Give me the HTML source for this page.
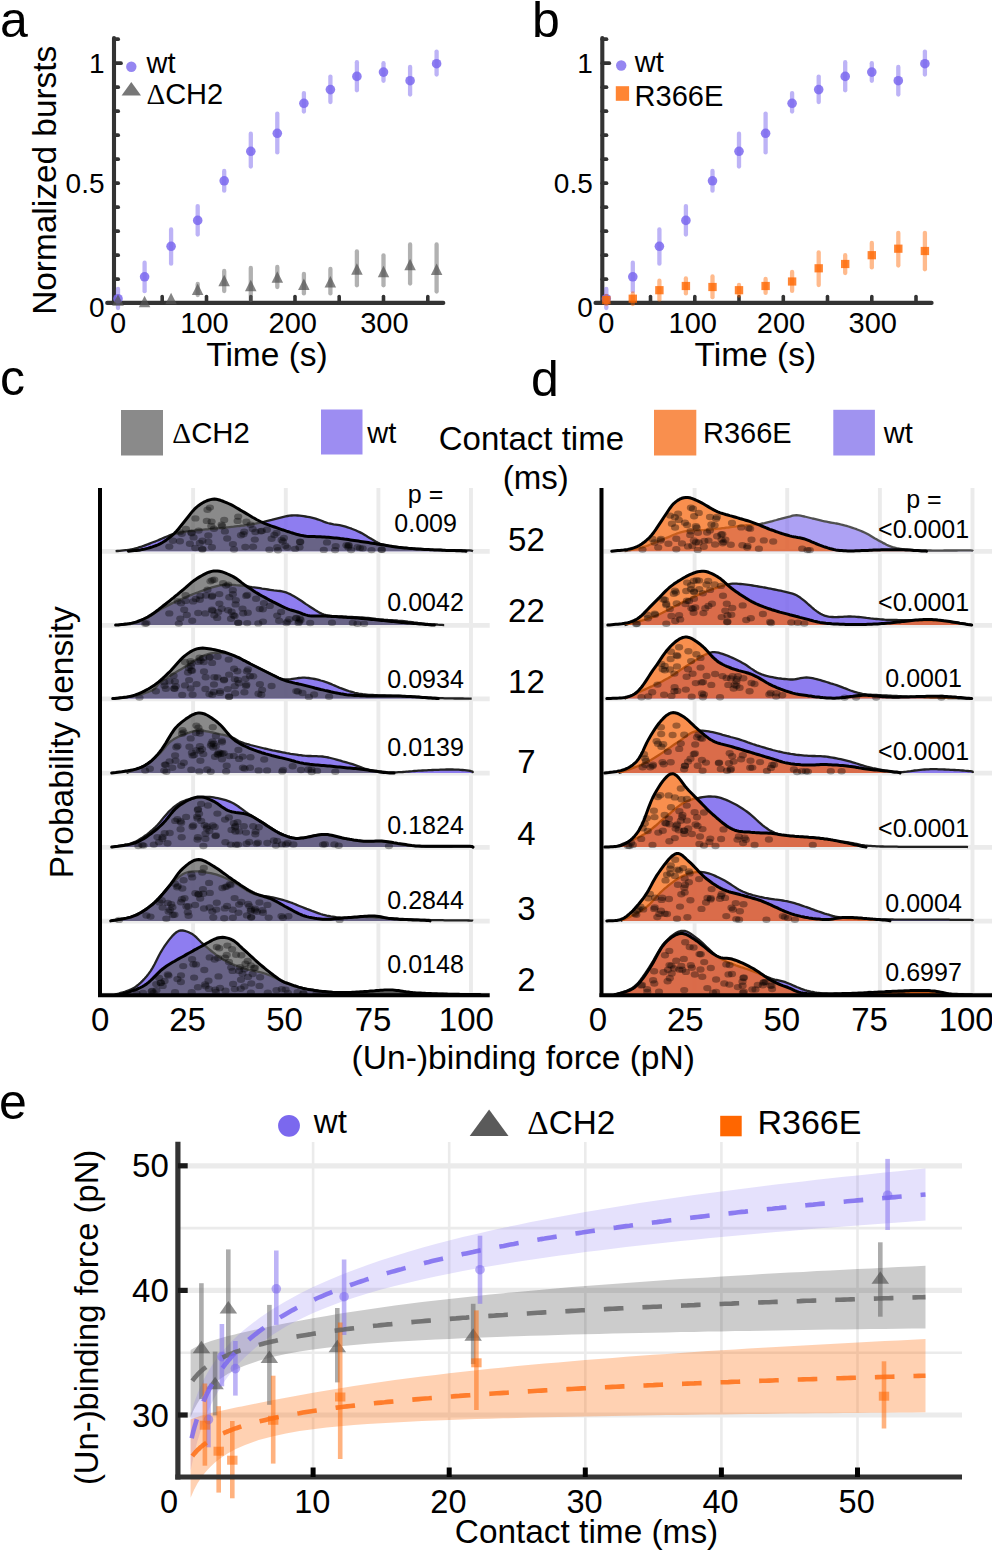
<!DOCTYPE html>
<html><head><meta charset="utf-8"><style>
html,body{margin:0;padding:0;background:#fff;}
svg{display:block;font-family:"Liberation Sans",sans-serif;}
</style></head><body>
<svg width="992" height="1552" viewBox="0 0 992 1552" font-family="Liberation Sans, sans-serif" fill="#000"><line x1="114" y1="38" x2="114" y2="303" stroke="#333333" stroke-width="4.1" stroke-linecap="round" />
<line x1="114" y1="279.2" x2="118.2" y2="279.2" stroke="#333333" stroke-width="3.7" stroke-linecap="round" />
<line x1="114" y1="255.2" x2="118.2" y2="255.2" stroke="#333333" stroke-width="3.7" stroke-linecap="round" />
<line x1="114" y1="231.2" x2="118.2" y2="231.2" stroke="#333333" stroke-width="3.7" stroke-linecap="round" />
<line x1="114" y1="207.2" x2="118.2" y2="207.2" stroke="#333333" stroke-width="3.7" stroke-linecap="round" />
<line x1="114" y1="183.2" x2="118.2" y2="183.2" stroke="#333333" stroke-width="3.7" stroke-linecap="round" />
<line x1="114" y1="159.2" x2="118.2" y2="159.2" stroke="#333333" stroke-width="3.7" stroke-linecap="round" />
<line x1="114" y1="135.2" x2="118.2" y2="135.2" stroke="#333333" stroke-width="3.7" stroke-linecap="round" />
<line x1="114" y1="111.2" x2="118.2" y2="111.2" stroke="#333333" stroke-width="3.7" stroke-linecap="round" />
<line x1="114" y1="87.2" x2="118.2" y2="87.2" stroke="#333333" stroke-width="3.7" stroke-linecap="round" />
<line x1="114" y1="63.2" x2="121" y2="63.2" stroke="#333333" stroke-width="3.7" stroke-linecap="round" />
<line x1="114" y1="39.2" x2="118.2" y2="39.2" stroke="#333333" stroke-width="3.7" stroke-linecap="round" />
<line x1="107.2" y1="302.9" x2="443.3" y2="302.9" stroke="#333333" stroke-width="4.1" stroke-linecap="round" />
<line x1="162.2" y1="302.9" x2="162.2" y2="296.5" stroke="#333333" stroke-width="3.6" stroke-linecap="round" />
<line x1="206.5" y1="302.9" x2="206.5" y2="296.5" stroke="#333333" stroke-width="3.6" stroke-linecap="round" />
<line x1="250.8" y1="302.9" x2="250.8" y2="296.5" stroke="#333333" stroke-width="3.6" stroke-linecap="round" />
<line x1="295" y1="302.9" x2="295" y2="296.5" stroke="#333333" stroke-width="3.6" stroke-linecap="round" />
<line x1="339.2" y1="302.9" x2="339.2" y2="296.5" stroke="#333333" stroke-width="3.6" stroke-linecap="round" />
<line x1="383.5" y1="302.9" x2="383.5" y2="296.5" stroke="#333333" stroke-width="3.6" stroke-linecap="round" />
<line x1="427.8" y1="302.9" x2="427.8" y2="296.5" stroke="#333333" stroke-width="3.6" stroke-linecap="round" />
<text x="104.5" y="192.5" font-size="28" text-anchor="end" >0.5</text>
<text x="104.5" y="72.5" font-size="28" text-anchor="end" >1</text>
<text x="104.5" y="317" font-size="28" text-anchor="end" >0</text>
<text x="118" y="332.6" font-size="29" text-anchor="middle" >0</text>
<text x="204.5" y="332.6" font-size="29" text-anchor="middle" >100</text>
<text x="292.7" y="332.6" font-size="29" text-anchor="middle" >200</text>
<text x="384.4" y="332.6" font-size="29" text-anchor="middle" >300</text>
<text x="267" y="366" font-size="33.5" text-anchor="middle" >Time (s)</text>
<line x1="118" y1="289" x2="118" y2="308" stroke="rgba(123,104,238,0.5)" stroke-width="4.3" stroke-linecap="round" />
<line x1="144.6" y1="262.7" x2="144.6" y2="291.2" stroke="rgba(123,104,238,0.5)" stroke-width="4.3" stroke-linecap="round" />
<line x1="171.1" y1="229.4" x2="171.1" y2="263.7" stroke="rgba(123,104,238,0.5)" stroke-width="4.3" stroke-linecap="round" />
<line x1="197.7" y1="206.1" x2="197.7" y2="234.5" stroke="rgba(123,104,238,0.5)" stroke-width="4.3" stroke-linecap="round" />
<line x1="224.2" y1="171" x2="224.2" y2="190.7" stroke="rgba(123,104,238,0.5)" stroke-width="4.3" stroke-linecap="round" />
<line x1="250.8" y1="133.7" x2="250.8" y2="166.5" stroke="rgba(123,104,238,0.5)" stroke-width="4.3" stroke-linecap="round" />
<line x1="277.3" y1="113.6" x2="277.3" y2="152.4" stroke="rgba(123,104,238,0.5)" stroke-width="4.3" stroke-linecap="round" />
<line x1="303.9" y1="93.1" x2="303.9" y2="111.5" stroke="rgba(123,104,238,0.5)" stroke-width="4.3" stroke-linecap="round" />
<line x1="330.4" y1="76.6" x2="330.4" y2="102" stroke="rgba(123,104,238,0.5)" stroke-width="4.3" stroke-linecap="round" />
<line x1="356.9" y1="62.2" x2="356.9" y2="90.3" stroke="rgba(123,104,238,0.5)" stroke-width="4.3" stroke-linecap="round" />
<line x1="383.5" y1="63.2" x2="383.5" y2="80.8" stroke="rgba(123,104,238,0.5)" stroke-width="4.3" stroke-linecap="round" />
<line x1="410.1" y1="67" x2="410.1" y2="94.6" stroke="rgba(123,104,238,0.5)" stroke-width="4.3" stroke-linecap="round" />
<line x1="436.6" y1="51.6" x2="436.6" y2="74.5" stroke="rgba(123,104,238,0.5)" stroke-width="4.3" stroke-linecap="round" />
<circle cx="118" cy="298.7" r="4.8" fill="rgba(123,104,238,0.85)"/>
<circle cx="144.6" cy="276.8" r="4.8" fill="rgba(123,104,238,0.85)"/>
<circle cx="171.1" cy="246.3" r="4.8" fill="rgba(123,104,238,0.85)"/>
<circle cx="197.7" cy="220.4" r="4.8" fill="rgba(123,104,238,0.85)"/>
<circle cx="224.2" cy="180.8" r="4.8" fill="rgba(123,104,238,0.85)"/>
<circle cx="250.8" cy="151.3" r="4.8" fill="rgba(123,104,238,0.85)"/>
<circle cx="277.3" cy="133.3" r="4.8" fill="rgba(123,104,238,0.85)"/>
<circle cx="303.9" cy="103.3" r="4.8" fill="rgba(123,104,238,0.85)"/>
<circle cx="330.4" cy="89.6" r="4.8" fill="rgba(123,104,238,0.85)"/>
<circle cx="356.9" cy="76.4" r="4.8" fill="rgba(123,104,238,0.85)"/>
<circle cx="383.5" cy="72.1" r="4.8" fill="rgba(123,104,238,0.85)"/>
<circle cx="410.1" cy="80.7" r="4.8" fill="rgba(123,104,238,0.85)"/>
<circle cx="436.6" cy="63.7" r="4.8" fill="rgba(123,104,238,0.85)"/>
<line x1="197.7" y1="284" x2="197.7" y2="295" stroke="rgba(100,100,100,0.5)" stroke-width="4.3" stroke-linecap="round" />
<line x1="224.2" y1="271" x2="224.2" y2="291" stroke="rgba(100,100,100,0.5)" stroke-width="4.3" stroke-linecap="round" />
<line x1="250.8" y1="268" x2="250.8" y2="300" stroke="rgba(100,100,100,0.5)" stroke-width="4.3" stroke-linecap="round" />
<line x1="277.3" y1="267" x2="277.3" y2="287" stroke="rgba(100,100,100,0.5)" stroke-width="4.3" stroke-linecap="round" />
<line x1="303.9" y1="274" x2="303.9" y2="293.4" stroke="rgba(100,100,100,0.5)" stroke-width="4.3" stroke-linecap="round" />
<line x1="330.4" y1="269" x2="330.4" y2="293.4" stroke="rgba(100,100,100,0.5)" stroke-width="4.3" stroke-linecap="round" />
<line x1="356.9" y1="251.4" x2="356.9" y2="285.3" stroke="rgba(100,100,100,0.5)" stroke-width="4.3" stroke-linecap="round" />
<line x1="383.5" y1="255.3" x2="383.5" y2="285.3" stroke="rgba(100,100,100,0.5)" stroke-width="4.3" stroke-linecap="round" />
<line x1="410.1" y1="244.5" x2="410.1" y2="283.5" stroke="rgba(100,100,100,0.5)" stroke-width="4.3" stroke-linecap="round" />
<line x1="436.6" y1="244.5" x2="436.6" y2="291.6" stroke="rgba(100,100,100,0.5)" stroke-width="4.3" stroke-linecap="round" />
<path d="M118,294.2 L123.8,305.7 L112.2,305.7 Z" fill="rgba(85,85,85,0.72)"/>
<path d="M144.6,295.7 L150.3,307.2 L138.8,307.2 Z" fill="rgba(85,85,85,0.72)"/>
<path d="M171.1,292.7 L176.8,304.2 L165.3,304.2 Z" fill="rgba(85,85,85,0.72)"/>
<path d="M197.7,283.5 L203.4,295 L191.9,295 Z" fill="rgba(85,85,85,0.72)"/>
<path d="M224.2,274.7 L229.9,286.2 L218.4,286.2 Z" fill="rgba(85,85,85,0.72)"/>
<path d="M250.8,279.7 L256.5,291.2 L245,291.2 Z" fill="rgba(85,85,85,0.72)"/>
<path d="M277.3,271.2 L283.1,282.7 L271.6,282.7 Z" fill="rgba(85,85,85,0.72)"/>
<path d="M303.9,278.4 L309.6,289.9 L298.1,289.9 Z" fill="rgba(85,85,85,0.72)"/>
<path d="M330.4,275.9 L336.1,287.4 L324.6,287.4 Z" fill="rgba(85,85,85,0.72)"/>
<path d="M356.9,263.2 L362.7,274.7 L351.2,274.7 Z" fill="rgba(85,85,85,0.72)"/>
<path d="M383.5,265.7 L389.2,277.2 L377.8,277.2 Z" fill="rgba(85,85,85,0.72)"/>
<path d="M410.1,258.7 L415.8,270.2 L404.3,270.2 Z" fill="rgba(85,85,85,0.72)"/>
<path d="M436.6,263.6 L442.4,275.1 L430.9,275.1 Z" fill="rgba(85,85,85,0.72)"/>
<circle cx="131.3" cy="66.7" r="5.2" fill="rgba(123,104,238,0.8)"/>
<text x="146.5" y="72.5" font-size="29" text-anchor="start" >wt</text>
<path d="M131.3,82 L141,95.5 L121.6,95.5 Z" fill="rgba(85,85,85,0.8)"/>
<text x="146.5" y="104.3" font-size="29" text-anchor="start" ><tspan font-family="Liberation Serif">&#916;</tspan>CH2</text>
<text x="0" y="36.5" font-size="50" text-anchor="start" >a</text>
<line x1="602.3" y1="38" x2="602.3" y2="303" stroke="#333333" stroke-width="4.1" stroke-linecap="round" />
<line x1="602.3" y1="279.2" x2="606.5" y2="279.2" stroke="#333333" stroke-width="3.7" stroke-linecap="round" />
<line x1="602.3" y1="255.2" x2="606.5" y2="255.2" stroke="#333333" stroke-width="3.7" stroke-linecap="round" />
<line x1="602.3" y1="231.2" x2="606.5" y2="231.2" stroke="#333333" stroke-width="3.7" stroke-linecap="round" />
<line x1="602.3" y1="207.2" x2="606.5" y2="207.2" stroke="#333333" stroke-width="3.7" stroke-linecap="round" />
<line x1="602.3" y1="183.2" x2="606.5" y2="183.2" stroke="#333333" stroke-width="3.7" stroke-linecap="round" />
<line x1="602.3" y1="159.2" x2="606.5" y2="159.2" stroke="#333333" stroke-width="3.7" stroke-linecap="round" />
<line x1="602.3" y1="135.2" x2="606.5" y2="135.2" stroke="#333333" stroke-width="3.7" stroke-linecap="round" />
<line x1="602.3" y1="111.2" x2="606.5" y2="111.2" stroke="#333333" stroke-width="3.7" stroke-linecap="round" />
<line x1="602.3" y1="87.2" x2="606.5" y2="87.2" stroke="#333333" stroke-width="3.7" stroke-linecap="round" />
<line x1="602.3" y1="63.2" x2="609.3" y2="63.2" stroke="#333333" stroke-width="3.7" stroke-linecap="round" />
<line x1="602.3" y1="39.2" x2="606.5" y2="39.2" stroke="#333333" stroke-width="3.7" stroke-linecap="round" />
<line x1="595.5" y1="302.9" x2="931.6" y2="302.9" stroke="#333333" stroke-width="4.1" stroke-linecap="round" />
<line x1="650.5" y1="302.9" x2="650.5" y2="296.5" stroke="#333333" stroke-width="3.6" stroke-linecap="round" />
<line x1="694.8" y1="302.9" x2="694.8" y2="296.5" stroke="#333333" stroke-width="3.6" stroke-linecap="round" />
<line x1="739" y1="302.9" x2="739" y2="296.5" stroke="#333333" stroke-width="3.6" stroke-linecap="round" />
<line x1="783.3" y1="302.9" x2="783.3" y2="296.5" stroke="#333333" stroke-width="3.6" stroke-linecap="round" />
<line x1="827.5" y1="302.9" x2="827.5" y2="296.5" stroke="#333333" stroke-width="3.6" stroke-linecap="round" />
<line x1="871.8" y1="302.9" x2="871.8" y2="296.5" stroke="#333333" stroke-width="3.6" stroke-linecap="round" />
<line x1="916" y1="302.9" x2="916" y2="296.5" stroke="#333333" stroke-width="3.6" stroke-linecap="round" />
<text x="592.8" y="192.5" font-size="28" text-anchor="end" >0.5</text>
<text x="592.8" y="72.5" font-size="28" text-anchor="end" >1</text>
<text x="592.8" y="317" font-size="28" text-anchor="end" >0</text>
<text x="606.3" y="332.6" font-size="29" text-anchor="middle" >0</text>
<text x="692.8" y="332.6" font-size="29" text-anchor="middle" >100</text>
<text x="781" y="332.6" font-size="29" text-anchor="middle" >200</text>
<text x="872.7" y="332.6" font-size="29" text-anchor="middle" >300</text>
<text x="755.3" y="366" font-size="33.5" text-anchor="middle" >Time (s)</text>
<line x1="606.3" y1="289" x2="606.3" y2="308" stroke="rgba(123,104,238,0.5)" stroke-width="4.3" stroke-linecap="round" />
<line x1="632.8" y1="262.7" x2="632.8" y2="291.2" stroke="rgba(123,104,238,0.5)" stroke-width="4.3" stroke-linecap="round" />
<line x1="659.4" y1="229.4" x2="659.4" y2="263.7" stroke="rgba(123,104,238,0.5)" stroke-width="4.3" stroke-linecap="round" />
<line x1="685.9" y1="206.1" x2="685.9" y2="234.5" stroke="rgba(123,104,238,0.5)" stroke-width="4.3" stroke-linecap="round" />
<line x1="712.5" y1="171" x2="712.5" y2="190.7" stroke="rgba(123,104,238,0.5)" stroke-width="4.3" stroke-linecap="round" />
<line x1="739" y1="133.7" x2="739" y2="166.5" stroke="rgba(123,104,238,0.5)" stroke-width="4.3" stroke-linecap="round" />
<line x1="765.6" y1="113.6" x2="765.6" y2="152.4" stroke="rgba(123,104,238,0.5)" stroke-width="4.3" stroke-linecap="round" />
<line x1="792.1" y1="93.1" x2="792.1" y2="111.5" stroke="rgba(123,104,238,0.5)" stroke-width="4.3" stroke-linecap="round" />
<line x1="818.7" y1="76.6" x2="818.7" y2="102" stroke="rgba(123,104,238,0.5)" stroke-width="4.3" stroke-linecap="round" />
<line x1="845.2" y1="62.2" x2="845.2" y2="90.3" stroke="rgba(123,104,238,0.5)" stroke-width="4.3" stroke-linecap="round" />
<line x1="871.8" y1="63.2" x2="871.8" y2="80.8" stroke="rgba(123,104,238,0.5)" stroke-width="4.3" stroke-linecap="round" />
<line x1="898.3" y1="67" x2="898.3" y2="94.6" stroke="rgba(123,104,238,0.5)" stroke-width="4.3" stroke-linecap="round" />
<line x1="924.9" y1="51.6" x2="924.9" y2="74.5" stroke="rgba(123,104,238,0.5)" stroke-width="4.3" stroke-linecap="round" />
<circle cx="606.3" cy="298.7" r="4.8" fill="rgba(123,104,238,0.85)"/>
<circle cx="632.8" cy="276.8" r="4.8" fill="rgba(123,104,238,0.85)"/>
<circle cx="659.4" cy="246.3" r="4.8" fill="rgba(123,104,238,0.85)"/>
<circle cx="685.9" cy="220.4" r="4.8" fill="rgba(123,104,238,0.85)"/>
<circle cx="712.5" cy="180.8" r="4.8" fill="rgba(123,104,238,0.85)"/>
<circle cx="739" cy="151.3" r="4.8" fill="rgba(123,104,238,0.85)"/>
<circle cx="765.6" cy="133.3" r="4.8" fill="rgba(123,104,238,0.85)"/>
<circle cx="792.1" cy="103.3" r="4.8" fill="rgba(123,104,238,0.85)"/>
<circle cx="818.7" cy="89.6" r="4.8" fill="rgba(123,104,238,0.85)"/>
<circle cx="845.2" cy="76.4" r="4.8" fill="rgba(123,104,238,0.85)"/>
<circle cx="871.8" cy="72.1" r="4.8" fill="rgba(123,104,238,0.85)"/>
<circle cx="898.3" cy="80.7" r="4.8" fill="rgba(123,104,238,0.85)"/>
<circle cx="924.9" cy="63.7" r="4.8" fill="rgba(123,104,238,0.85)"/>
<line x1="606.3" y1="296" x2="606.3" y2="304" stroke="rgba(255,102,0,0.45)" stroke-width="4.3" stroke-linecap="round" />
<line x1="632.8" y1="293.5" x2="632.8" y2="304" stroke="rgba(255,102,0,0.45)" stroke-width="4.3" stroke-linecap="round" />
<line x1="659.4" y1="280.7" x2="659.4" y2="299.7" stroke="rgba(255,102,0,0.45)" stroke-width="4.3" stroke-linecap="round" />
<line x1="685.9" y1="278.5" x2="685.9" y2="293.4" stroke="rgba(255,102,0,0.45)" stroke-width="4.3" stroke-linecap="round" />
<line x1="712.5" y1="276.4" x2="712.5" y2="297.2" stroke="rgba(255,102,0,0.45)" stroke-width="4.3" stroke-linecap="round" />
<line x1="739" y1="284.9" x2="739" y2="295.5" stroke="rgba(255,102,0,0.45)" stroke-width="4.3" stroke-linecap="round" />
<line x1="765.6" y1="278.9" x2="765.6" y2="292.9" stroke="rgba(255,102,0,0.45)" stroke-width="4.3" stroke-linecap="round" />
<line x1="792.1" y1="272" x2="792.1" y2="290.9" stroke="rgba(255,102,0,0.45)" stroke-width="4.3" stroke-linecap="round" />
<line x1="818.7" y1="252.4" x2="818.7" y2="285.1" stroke="rgba(255,102,0,0.45)" stroke-width="4.3" stroke-linecap="round" />
<line x1="845.2" y1="255.2" x2="845.2" y2="273" stroke="rgba(255,102,0,0.45)" stroke-width="4.3" stroke-linecap="round" />
<line x1="871.8" y1="243" x2="871.8" y2="267.4" stroke="rgba(255,102,0,0.45)" stroke-width="4.3" stroke-linecap="round" />
<line x1="898.3" y1="232.8" x2="898.3" y2="265.5" stroke="rgba(255,102,0,0.45)" stroke-width="4.3" stroke-linecap="round" />
<line x1="924.9" y1="232.8" x2="924.9" y2="269.3" stroke="rgba(255,102,0,0.45)" stroke-width="4.3" stroke-linecap="round" />
<rect x="602.1" y="296" width="8.4" height="8.2" fill="rgba(255,102,0,0.8)"/>
<rect x="628.6" y="294.6" width="8.4" height="8.2" fill="rgba(255,102,0,0.8)"/>
<rect x="655.2" y="286.1" width="8.4" height="8.2" fill="rgba(255,102,0,0.8)"/>
<rect x="681.7" y="281.9" width="8.4" height="8.2" fill="rgba(255,102,0,0.8)"/>
<rect x="708.3" y="282.9" width="8.4" height="8.2" fill="rgba(255,102,0,0.8)"/>
<rect x="734.8" y="286.1" width="8.4" height="8.2" fill="rgba(255,102,0,0.8)"/>
<rect x="761.4" y="281.9" width="8.4" height="8.2" fill="rgba(255,102,0,0.8)"/>
<rect x="787.9" y="277.4" width="8.4" height="8.2" fill="rgba(255,102,0,0.8)"/>
<rect x="814.5" y="264.2" width="8.4" height="8.2" fill="rgba(255,102,0,0.8)"/>
<rect x="841" y="259.9" width="8.4" height="8.2" fill="rgba(255,102,0,0.8)"/>
<rect x="867.6" y="251.1" width="8.4" height="8.2" fill="rgba(255,102,0,0.8)"/>
<rect x="894.1" y="244.6" width="8.4" height="8.2" fill="rgba(255,102,0,0.8)"/>
<rect x="920.7" y="246.9" width="8.4" height="8.2" fill="rgba(255,102,0,0.8)"/>
<circle cx="621.2" cy="65.5" r="5.2" fill="rgba(123,104,238,0.8)"/>
<text x="634.8" y="71.8" font-size="29" text-anchor="start" >wt</text>
<rect x="615.8" y="86.2" width="13.3" height="14.6" fill="rgba(255,102,0,0.8)"/>
<text x="634.6" y="105.8" font-size="29" text-anchor="start" >R366E</text>
<text x="532" y="36.5" font-size="50" text-anchor="start" >b</text>
<line x1="193.1" y1="488" x2="193.1" y2="995" stroke="#ebebeb" stroke-width="3.9" stroke-linecap="butt" />
<line x1="285.8" y1="488" x2="285.8" y2="995" stroke="#ebebeb" stroke-width="3.9" stroke-linecap="butt" />
<line x1="378.4" y1="488" x2="378.4" y2="995" stroke="#ebebeb" stroke-width="3.9" stroke-linecap="butt" />
<line x1="471" y1="488" x2="471" y2="995" stroke="#ebebeb" stroke-width="3.9" stroke-linecap="butt" />
<line x1="102" y1="551.4" x2="489.7" y2="551.4" stroke="#ebebeb" stroke-width="4.8" stroke-linecap="butt" />
<line x1="102" y1="625.3" x2="489.7" y2="625.3" stroke="#ebebeb" stroke-width="4.8" stroke-linecap="butt" />
<line x1="102" y1="698.8" x2="489.7" y2="698.8" stroke="#ebebeb" stroke-width="4.8" stroke-linecap="butt" />
<line x1="102" y1="773.2" x2="489.7" y2="773.2" stroke="#ebebeb" stroke-width="4.8" stroke-linecap="butt" />
<line x1="102" y1="847.3" x2="489.7" y2="847.3" stroke="#ebebeb" stroke-width="4.8" stroke-linecap="butt" />
<line x1="102" y1="921.1" x2="489.7" y2="921.1" stroke="#ebebeb" stroke-width="4.8" stroke-linecap="butt" />
<line x1="102" y1="994.8" x2="489.7" y2="994.8" stroke="#ebebeb" stroke-width="4.8" stroke-linecap="butt" />
<path d="M115.6,551.2 L117.6,551 L119.6,550.8 L121.6,550.6 L123.6,550.4 L125.6,550.2 L127.6,550 L129.6,549.7 L131.6,549.3 L133.6,548.9 L135.6,548.4 L137.6,547.9 L139.6,547.2 L141.6,546.6 L143.6,545.9 L145.6,545.1 L147.6,544.4 L149.6,543.6 L151.6,542.8 L153.6,542 L155.6,541.3 L157.6,540.5 L159.6,539.6 L161.6,538.7 L163.6,537.9 L165.6,537 L167.6,536.2 L169.6,535.4 L171.6,534.7 L173.6,534.1 L175.6,533.6 L177.6,533.1 L179.6,532.7 L181.6,532.3 L183.6,532 L185.6,531.7 L187.6,531.4 L189.6,531.2 L191.6,530.9 L193.6,530.7 L195.6,530.4 L197.6,530.2 L199.6,530 L201.6,529.8 L203.6,529.6 L205.6,529.4 L207.6,529.3 L209.6,529.1 L211.6,528.9 L213.6,528.7 L215.6,528.5 L217.6,528.3 L219.6,528.1 L221.6,528 L223.6,527.8 L225.6,527.6 L227.6,527.3 L229.6,527.1 L231.6,526.9 L233.6,526.7 L235.6,526.4 L237.6,526.2 L239.6,526 L241.6,525.7 L243.6,525.5 L245.6,525.2 L247.6,524.9 L249.6,524.6 L251.6,524.3 L253.6,524 L255.6,523.6 L257.6,523.2 L259.6,522.8 L261.6,522.3 L263.6,521.9 L265.6,521.4 L267.6,520.9 L269.6,520.4 L271.6,519.9 L273.6,519.3 L275.6,518.8 L277.6,518.3 L279.6,517.8 L281.6,517.3 L283.6,516.8 L285.6,516.4 L287.6,516 L289.6,515.7 L291.6,515.5 L293.6,515.3 L295.6,515.4 L297.6,515.5 L299.6,515.7 L301.6,515.9 L303.6,516.2 L305.6,516.5 L307.6,516.8 L309.6,517.2 L311.6,517.6 L313.6,518.1 L315.6,518.6 L317.6,519.3 L319.6,520 L321.6,520.8 L323.6,521.6 L325.6,522.3 L327.6,523 L329.6,523.5 L331.6,523.9 L333.6,524.3 L335.6,524.6 L337.6,524.9 L339.6,525.2 L341.6,525.6 L343.6,526.1 L345.6,526.7 L347.6,527.3 L349.6,528 L351.6,528.7 L353.6,529.5 L355.6,530.3 L357.6,531.2 L359.6,532.1 L361.6,533.1 L363.6,534.2 L365.6,535.4 L367.6,536.7 L369.6,537.9 L371.6,539.1 L373.6,540.2 L375.6,541.4 L377.6,542.5 L379.6,543.5 L381.6,544.3 L383.6,544.9 L385.6,545.4 L387.6,545.9 L389.6,546.2 L391.6,546.5 L393.6,546.8 L395.6,547 L397.6,547.2 L399.6,547.5 L401.6,547.7 L403.6,547.9 L405.6,548 L407.6,548.2 L409.6,548.4 L411.6,548.6 L413.6,548.7 L415.6,548.9 L417.6,549 L419.6,549.1 L421.6,549.3 L423.6,549.4 L425.6,549.5 L427.6,549.6 L429.6,549.7 L431.6,549.8 L433.6,549.8 L435.6,549.9 L437.6,549.9 L439.6,550 L441.6,550 L443.6,550.1 L445.6,550.1 L447.6,550.1 L449.6,550.1 L451.6,550.2 L453.6,550.2 L455.6,550.2 L457.6,550.2 L459.6,550.2 L461.6,550.2 L463.6,550.3 L465.6,550.3 L467.6,550.3 L469.6,550.4 L471.6,550.6 L473,551.2 L473,551.2 L115.6,551.2 Z" fill="rgba(123,104,238,0.86)"/>
<path d="M115.6,551.2 L117.6,551 L119.6,550.8 L121.6,550.6 L123.6,550.4 L125.6,550.2 L127.6,550 L129.6,549.7 L131.6,549.3 L133.6,548.9 L135.6,548.4 L137.6,547.9 L139.6,547.2 L141.6,546.6 L143.6,545.9 L145.6,545.1 L147.6,544.4 L149.6,543.6 L151.6,542.8 L153.6,542 L155.6,541.3 L157.6,540.5 L159.6,539.6 L161.6,538.7 L163.6,537.9 L165.6,537 L167.6,536.2 L169.6,535.4 L171.6,534.7 L173.6,534.1 L175.6,533.6 L177.6,533.1 L179.6,532.7 L181.6,532.3 L183.6,532 L185.6,531.7 L187.6,531.4 L189.6,531.2 L191.6,530.9 L193.6,530.7 L195.6,530.4 L197.6,530.2 L199.6,530 L201.6,529.8 L203.6,529.6 L205.6,529.4 L207.6,529.3 L209.6,529.1 L211.6,528.9 L213.6,528.7 L215.6,528.5 L217.6,528.3 L219.6,528.1 L221.6,528 L223.6,527.8 L225.6,527.6 L227.6,527.3 L229.6,527.1 L231.6,526.9 L233.6,526.7 L235.6,526.4 L237.6,526.2 L239.6,526 L241.6,525.7 L243.6,525.5 L245.6,525.2 L247.6,524.9 L249.6,524.6 L251.6,524.3 L253.6,524 L255.6,523.6 L257.6,523.2 L259.6,522.8 L261.6,522.3 L263.6,521.9 L265.6,521.4 L267.6,520.9 L269.6,520.4 L271.6,519.9 L273.6,519.3 L275.6,518.8 L277.6,518.3 L279.6,517.8 L281.6,517.3 L283.6,516.8 L285.6,516.4 L287.6,516 L289.6,515.7 L291.6,515.5 L293.6,515.3 L295.6,515.4 L297.6,515.5 L299.6,515.7 L301.6,515.9 L303.6,516.2 L305.6,516.5 L307.6,516.8 L309.6,517.2 L311.6,517.6 L313.6,518.1 L315.6,518.6 L317.6,519.3 L319.6,520 L321.6,520.8 L323.6,521.6 L325.6,522.3 L327.6,523 L329.6,523.5 L331.6,523.9 L333.6,524.3 L335.6,524.6 L337.6,524.9 L339.6,525.2 L341.6,525.6 L343.6,526.1 L345.6,526.7 L347.6,527.3 L349.6,528 L351.6,528.7 L353.6,529.5 L355.6,530.3 L357.6,531.2 L359.6,532.1 L361.6,533.1 L363.6,534.2 L365.6,535.4 L367.6,536.7 L369.6,537.9 L371.6,539.1 L373.6,540.2 L375.6,541.4 L377.6,542.5 L379.6,543.5 L381.6,544.3 L383.6,544.9 L385.6,545.4 L387.6,545.9 L389.6,546.2 L391.6,546.5 L393.6,546.8 L395.6,547 L397.6,547.2 L399.6,547.5 L401.6,547.7 L403.6,547.9 L405.6,548 L407.6,548.2 L409.6,548.4 L411.6,548.6 L413.6,548.7 L415.6,548.9 L417.6,549 L419.6,549.1 L421.6,549.3 L423.6,549.4 L425.6,549.5 L427.6,549.6 L429.6,549.7 L431.6,549.8 L433.6,549.8 L435.6,549.9 L437.6,549.9 L439.6,550 L441.6,550 L443.6,550.1 L445.6,550.1 L447.6,550.1 L449.6,550.1 L451.6,550.2 L453.6,550.2 L455.6,550.2 L457.6,550.2 L459.6,550.2 L461.6,550.2 L463.6,550.3 L465.6,550.3 L467.6,550.3 L469.6,550.4 L471.6,550.6 L473,551.2" fill="none" stroke="#222" stroke-width="2.3" stroke-linejoin="round"/>
<path d="M128.4,551.2 L130.4,551 L132.4,550.8 L134.4,550.6 L136.4,550.4 L138.4,550.2 L140.4,549.9 L142.4,549.5 L144.4,549.1 L146.4,548.6 L148.4,548.1 L150.4,547.5 L152.4,546.9 L154.4,546.2 L156.4,545.5 L158.4,544.6 L160.4,543.6 L162.4,542.5 L164.4,541.3 L166.4,539.9 L168.4,538.4 L170.4,536.9 L172.4,535.1 L174.4,533.3 L176.4,531.2 L178.4,528.9 L180.4,526.5 L182.4,524 L184.4,521.5 L186.4,519 L188.4,516.5 L190.4,513.9 L192.4,511.4 L194.4,509.2 L196.4,507.3 L198.4,505.7 L200.4,504.3 L202.4,503 L204.4,501.9 L206.4,501 L208.4,500.2 L210.4,499.6 L212.4,499.2 L214.4,499.1 L216.4,499.3 L218.4,499.7 L220.4,500.3 L222.4,501 L224.4,501.8 L226.4,502.6 L228.4,503.5 L230.4,504.4 L232.4,505.4 L234.4,506.5 L236.4,507.7 L238.4,508.9 L240.4,510.1 L242.4,511.2 L244.4,512.4 L246.4,513.6 L248.4,514.8 L250.4,516 L252.4,517.2 L254.4,518.3 L256.4,519.5 L258.4,520.5 L260.4,521.5 L262.4,522.4 L264.4,523.3 L266.4,524.1 L268.4,524.8 L270.4,525.6 L272.4,526.3 L274.4,527 L276.4,527.7 L278.4,528.4 L280.4,529.1 L282.4,529.8 L284.4,530.4 L286.4,531.1 L288.4,531.7 L290.4,532.4 L292.4,533 L294.4,533.6 L296.4,534.2 L298.4,534.7 L300.4,535.2 L302.4,535.6 L304.4,535.9 L306.4,536.2 L308.4,536.4 L310.4,536.5 L312.4,536.6 L314.4,536.6 L316.4,536.7 L318.4,536.7 L320.4,536.8 L322.4,536.9 L324.4,537 L326.4,537.2 L328.4,537.3 L330.4,537.5 L332.4,537.7 L334.4,537.9 L336.4,538.1 L338.4,538.3 L340.4,538.6 L342.4,538.8 L344.4,539.1 L346.4,539.3 L348.4,539.6 L350.4,539.9 L352.4,540.2 L354.4,540.5 L356.4,540.8 L358.4,541.1 L360.4,541.4 L362.4,541.7 L364.4,542 L366.4,542.3 L368.4,542.6 L370.4,542.9 L372.4,543.2 L374.4,543.5 L376.4,543.9 L378.4,544.2 L380.4,544.5 L382.4,544.8 L384.4,545.1 L386.4,545.4 L388.4,545.7 L390.4,546.1 L392.4,546.4 L394.4,546.7 L396.4,547 L398.4,547.3 L400.4,547.5 L402.4,547.7 L404.4,547.9 L406.4,548.1 L408.4,548.3 L410.4,548.4 L412.4,548.6 L414.4,548.7 L416.4,548.9 L418.4,549 L420.4,549.1 L422.4,549.2 L424.4,549.4 L426.4,549.5 L428.4,549.6 L430.4,549.7 L432.4,549.8 L434.4,549.9 L436.4,550 L438.4,550.1 L440.4,550.1 L442.4,550.2 L444.4,550.3 L446.4,550.4 L448.4,550.4 L450.4,550.5 L452.4,550.5 L454.4,550.6 L456.4,550.7 L458.4,550.7 L460.4,550.8 L462.4,550.9 L464.4,551 L466,551.2 L466,551.2 L128.4,551.2 Z" fill="rgba(89,89,89,0.7)"/>
<path d="M128.4,551.2 L130.4,551 L132.4,550.8 L134.4,550.6 L136.4,550.4 L138.4,550.2 L140.4,549.9 L142.4,549.5 L144.4,549.1 L146.4,548.6 L148.4,548.1 L150.4,547.5 L152.4,546.9 L154.4,546.2 L156.4,545.5 L158.4,544.6 L160.4,543.6 L162.4,542.5 L164.4,541.3 L166.4,539.9 L168.4,538.4 L170.4,536.9 L172.4,535.1 L174.4,533.3 L176.4,531.2 L178.4,528.9 L180.4,526.5 L182.4,524 L184.4,521.5 L186.4,519 L188.4,516.5 L190.4,513.9 L192.4,511.4 L194.4,509.2 L196.4,507.3 L198.4,505.7 L200.4,504.3 L202.4,503 L204.4,501.9 L206.4,501 L208.4,500.2 L210.4,499.6 L212.4,499.2 L214.4,499.1 L216.4,499.3 L218.4,499.7 L220.4,500.3 L222.4,501 L224.4,501.8 L226.4,502.6 L228.4,503.5 L230.4,504.4 L232.4,505.4 L234.4,506.5 L236.4,507.7 L238.4,508.9 L240.4,510.1 L242.4,511.2 L244.4,512.4 L246.4,513.6 L248.4,514.8 L250.4,516 L252.4,517.2 L254.4,518.3 L256.4,519.5 L258.4,520.5 L260.4,521.5 L262.4,522.4 L264.4,523.3 L266.4,524.1 L268.4,524.8 L270.4,525.6 L272.4,526.3 L274.4,527 L276.4,527.7 L278.4,528.4 L280.4,529.1 L282.4,529.8 L284.4,530.4 L286.4,531.1 L288.4,531.7 L290.4,532.4 L292.4,533 L294.4,533.6 L296.4,534.2 L298.4,534.7 L300.4,535.2 L302.4,535.6 L304.4,535.9 L306.4,536.2 L308.4,536.4 L310.4,536.5 L312.4,536.6 L314.4,536.6 L316.4,536.7 L318.4,536.7 L320.4,536.8 L322.4,536.9 L324.4,537 L326.4,537.2 L328.4,537.3 L330.4,537.5 L332.4,537.7 L334.4,537.9 L336.4,538.1 L338.4,538.3 L340.4,538.6 L342.4,538.8 L344.4,539.1 L346.4,539.3 L348.4,539.6 L350.4,539.9 L352.4,540.2 L354.4,540.5 L356.4,540.8 L358.4,541.1 L360.4,541.4 L362.4,541.7 L364.4,542 L366.4,542.3 L368.4,542.6 L370.4,542.9 L372.4,543.2 L374.4,543.5 L376.4,543.9 L378.4,544.2 L380.4,544.5 L382.4,544.8 L384.4,545.1 L386.4,545.4 L388.4,545.7 L390.4,546.1 L392.4,546.4 L394.4,546.7 L396.4,547 L398.4,547.3 L400.4,547.5 L402.4,547.7 L404.4,547.9 L406.4,548.1 L408.4,548.3 L410.4,548.4 L412.4,548.6 L414.4,548.7 L416.4,548.9 L418.4,549 L420.4,549.1 L422.4,549.2 L424.4,549.4 L426.4,549.5 L428.4,549.6 L430.4,549.7 L432.4,549.8 L434.4,549.9 L436.4,550 L438.4,550.1 L440.4,550.1 L442.4,550.2 L444.4,550.3 L446.4,550.4 L448.4,550.4 L450.4,550.5 L452.4,550.5 L454.4,550.6 L456.4,550.7 L458.4,550.7 L460.4,550.8 L462.4,550.9 L464.4,551 L466,551.2" fill="none" stroke="#000" stroke-width="3" stroke-linejoin="round" stroke-linecap="round"/>
<g fill="rgba(0,0,0,0.36)"><ellipse cx="193.6" cy="537.4" rx="4.1" ry="3.2"/><ellipse cx="381.9" cy="549.8" rx="4.1" ry="3.2"/><ellipse cx="351.1" cy="550.1" rx="4.1" ry="3.2"/><ellipse cx="327" cy="542.4" rx="4.1" ry="3.2"/><ellipse cx="300" cy="541.7" rx="4.1" ry="3.2"/><ellipse cx="211.3" cy="525.9" rx="4.1" ry="3.2"/><ellipse cx="278" cy="550.2" rx="4.1" ry="3.2"/><ellipse cx="207.5" cy="509.7" rx="4.1" ry="3.2"/><ellipse cx="172.9" cy="540.7" rx="4.1" ry="3.2"/><ellipse cx="191.4" cy="532.6" rx="4.1" ry="3.2"/><ellipse cx="195.4" cy="518.4" rx="4.1" ry="3.2"/><ellipse cx="335.7" cy="546.1" rx="4.1" ry="3.2"/><ellipse cx="202.3" cy="549" rx="4.1" ry="3.2"/><ellipse cx="335.1" cy="550.1" rx="4.1" ry="3.2"/><ellipse cx="202.4" cy="540.8" rx="4.1" ry="3.2"/><ellipse cx="238.2" cy="516.6" rx="4.1" ry="3.2"/><ellipse cx="211.6" cy="521.6" rx="4.1" ry="3.2"/><ellipse cx="195.2" cy="548" rx="4.1" ry="3.2"/><ellipse cx="266.9" cy="529.8" rx="4.1" ry="3.2"/><ellipse cx="227.2" cy="538.5" rx="4.1" ry="3.2"/><ellipse cx="274.4" cy="535" rx="4.1" ry="3.2"/><ellipse cx="250.6" cy="524.7" rx="4.1" ry="3.2"/><ellipse cx="179.9" cy="532.1" rx="4.1" ry="3.2"/><ellipse cx="245.3" cy="547" rx="4.1" ry="3.2"/><ellipse cx="254.8" cy="539.6" rx="4.1" ry="3.2"/><ellipse cx="285.3" cy="545.8" rx="4.1" ry="3.2"/><ellipse cx="346.4" cy="545.3" rx="4.1" ry="3.2"/><ellipse cx="237.6" cy="520.9" rx="4.1" ry="3.2"/><ellipse cx="255.4" cy="532" rx="4.1" ry="3.2"/><ellipse cx="222.1" cy="526.3" rx="4.1" ry="3.2"/><ellipse cx="221.6" cy="524.6" rx="4.1" ry="3.2"/><ellipse cx="234" cy="549.5" rx="4.1" ry="3.2"/><ellipse cx="276.5" cy="533" rx="4.1" ry="3.2"/><ellipse cx="381.5" cy="549.7" rx="4.1" ry="3.2"/><ellipse cx="277.2" cy="547.2" rx="4.1" ry="3.2"/><ellipse cx="209.9" cy="507.6" rx="4.1" ry="3.2"/><ellipse cx="348.3" cy="547.3" rx="4.1" ry="3.2"/><ellipse cx="191.7" cy="533.2" rx="4.1" ry="3.2"/><ellipse cx="357.5" cy="547.1" rx="4.1" ry="3.2"/><ellipse cx="243.4" cy="534.2" rx="4.1" ry="3.2"/><ellipse cx="360" cy="548.1" rx="4.1" ry="3.2"/><ellipse cx="253.1" cy="546.8" rx="4.1" ry="3.2"/><ellipse cx="199.8" cy="542.9" rx="4.1" ry="3.2"/><ellipse cx="202.4" cy="549.4" rx="4.1" ry="3.2"/><ellipse cx="244.3" cy="531.8" rx="4.1" ry="3.2"/><ellipse cx="287.3" cy="547.6" rx="4.1" ry="3.2"/><ellipse cx="189.9" cy="543.8" rx="4.1" ry="3.2"/><ellipse cx="179.9" cy="541.3" rx="4.1" ry="3.2"/><ellipse cx="299.5" cy="547.3" rx="4.1" ry="3.2"/><ellipse cx="232.9" cy="544.1" rx="4.1" ry="3.2"/><ellipse cx="198.6" cy="530.6" rx="4.1" ry="3.2"/><ellipse cx="323.8" cy="549.9" rx="4.1" ry="3.2"/><ellipse cx="282.9" cy="541.5" rx="4.1" ry="3.2"/><ellipse cx="283.9" cy="538" rx="4.1" ry="3.2"/><ellipse cx="206.8" cy="520.9" rx="4.1" ry="3.2"/><ellipse cx="246.4" cy="521.8" rx="4.1" ry="3.2"/><ellipse cx="362.7" cy="548.5" rx="4.1" ry="3.2"/><ellipse cx="214" cy="528.7" rx="4.1" ry="3.2"/><ellipse cx="271.6" cy="538.8" rx="4.1" ry="3.2"/><ellipse cx="300.3" cy="542" rx="4.1" ry="3.2"/><ellipse cx="208.4" cy="541.9" rx="4.1" ry="3.2"/><ellipse cx="348.5" cy="545.8" rx="4.1" ry="3.2"/><ellipse cx="348.7" cy="545.1" rx="4.1" ry="3.2"/><ellipse cx="169.3" cy="546.6" rx="4.1" ry="3.2"/><ellipse cx="181.8" cy="533.8" rx="4.1" ry="3.2"/><ellipse cx="261.9" cy="531" rx="4.1" ry="3.2"/><ellipse cx="295.1" cy="548.9" rx="4.1" ry="3.2"/><ellipse cx="281.6" cy="539.9" rx="4.1" ry="3.2"/><ellipse cx="208.3" cy="535.5" rx="4.1" ry="3.2"/><ellipse cx="241" cy="535.3" rx="4.1" ry="3.2"/><ellipse cx="260.7" cy="531.2" rx="4.1" ry="3.2"/><ellipse cx="252.7" cy="529.1" rx="4.1" ry="3.2"/><ellipse cx="371.5" cy="550.1" rx="4.1" ry="3.2"/><ellipse cx="185.9" cy="529" rx="4.1" ry="3.2"/><ellipse cx="224.9" cy="531.4" rx="4.1" ry="3.2"/><ellipse cx="224.2" cy="520" rx="4.1" ry="3.2"/><ellipse cx="269.4" cy="549.7" rx="4.1" ry="3.2"/><ellipse cx="211.9" cy="547.3" rx="4.1" ry="3.2"/></g>
<path d="M118,625.1 L120,624.9 L122,624.8 L124,624.6 L126,624.4 L128,624.2 L130,624 L132,623.6 L134,623.2 L136,622.7 L138,622 L140,621.3 L142,620.4 L144,619.5 L146,618.5 L148,617.5 L150,616.3 L152,615 L154,613.6 L156,612.2 L158,610.9 L160,609.7 L162,608.6 L164,607.5 L166,606.4 L168,605.4 L170,604.4 L172,603.4 L174,602.5 L176,601.5 L178,600.6 L180,599.7 L182,598.8 L184,597.9 L186,597.1 L188,596.2 L190,595.4 L192,594.6 L194,593.8 L196,593 L198,592.3 L200,591.5 L202,590.8 L204,590.1 L206,589.4 L208,588.7 L210,588.1 L212,587.4 L214,586.8 L216,586.3 L218,585.8 L220,585.4 L222,585.1 L224,584.8 L226,584.7 L228,584.7 L230,584.8 L232,584.9 L234,585 L236,585.2 L238,585.3 L240,585.5 L242,585.7 L244,585.9 L246,586.2 L248,586.5 L250,586.8 L252,587.1 L254,587.3 L256,587.6 L258,587.9 L260,588.2 L262,588.6 L264,588.9 L266,589.2 L268,589.5 L270,589.8 L272,590.1 L274,590.4 L276,590.6 L278,590.8 L280,591 L282,591.3 L284,591.8 L286,592.4 L288,593.2 L290,594.1 L292,595.2 L294,596.3 L296,597.4 L298,598.7 L300,600 L302,601.3 L304,602.7 L306,604.1 L308,605.4 L310,606.7 L312,608 L314,609.3 L316,610.6 L318,611.8 L320,612.9 L322,613.8 L324,614.5 L326,615.1 L328,615.5 L330,615.8 L332,616 L334,616.1 L336,616.2 L338,616.3 L340,616.4 L342,616.5 L344,616.6 L346,616.7 L348,616.8 L350,616.9 L352,617 L354,617.1 L356,617.2 L358,617.3 L360,617.4 L362,617.5 L364,617.6 L366,617.8 L368,618 L370,618.2 L372,618.4 L374,618.6 L376,618.9 L378,619.1 L380,619.3 L382,619.5 L384,619.7 L386,619.8 L388,620 L390,620.1 L392,620.2 L394,620.4 L396,620.5 L398,620.7 L400,620.8 L402,621 L404,621.2 L406,621.4 L408,621.7 L410,621.9 L412,622.2 L414,622.5 L416,622.7 L418,623 L420,623.2 L422,623.4 L424,623.6 L426,623.8 L428,624 L430,624.1 L432,624.3 L434,624.4 L436,624.5 L438,624.7 L440,624.8 L442,624.9 L444,625.1 L444.2,625.1 L444.2,625.1 L118,625.1 Z" fill="rgba(123,104,238,0.86)"/>
<path d="M118,625.1 L120,624.9 L122,624.8 L124,624.6 L126,624.4 L128,624.2 L130,624 L132,623.6 L134,623.2 L136,622.7 L138,622 L140,621.3 L142,620.4 L144,619.5 L146,618.5 L148,617.5 L150,616.3 L152,615 L154,613.6 L156,612.2 L158,610.9 L160,609.7 L162,608.6 L164,607.5 L166,606.4 L168,605.4 L170,604.4 L172,603.4 L174,602.5 L176,601.5 L178,600.6 L180,599.7 L182,598.8 L184,597.9 L186,597.1 L188,596.2 L190,595.4 L192,594.6 L194,593.8 L196,593 L198,592.3 L200,591.5 L202,590.8 L204,590.1 L206,589.4 L208,588.7 L210,588.1 L212,587.4 L214,586.8 L216,586.3 L218,585.8 L220,585.4 L222,585.1 L224,584.8 L226,584.7 L228,584.7 L230,584.8 L232,584.9 L234,585 L236,585.2 L238,585.3 L240,585.5 L242,585.7 L244,585.9 L246,586.2 L248,586.5 L250,586.8 L252,587.1 L254,587.3 L256,587.6 L258,587.9 L260,588.2 L262,588.6 L264,588.9 L266,589.2 L268,589.5 L270,589.8 L272,590.1 L274,590.4 L276,590.6 L278,590.8 L280,591 L282,591.3 L284,591.8 L286,592.4 L288,593.2 L290,594.1 L292,595.2 L294,596.3 L296,597.4 L298,598.7 L300,600 L302,601.3 L304,602.7 L306,604.1 L308,605.4 L310,606.7 L312,608 L314,609.3 L316,610.6 L318,611.8 L320,612.9 L322,613.8 L324,614.5 L326,615.1 L328,615.5 L330,615.8 L332,616 L334,616.1 L336,616.2 L338,616.3 L340,616.4 L342,616.5 L344,616.6 L346,616.7 L348,616.8 L350,616.9 L352,617 L354,617.1 L356,617.2 L358,617.3 L360,617.4 L362,617.5 L364,617.6 L366,617.8 L368,618 L370,618.2 L372,618.4 L374,618.6 L376,618.9 L378,619.1 L380,619.3 L382,619.5 L384,619.7 L386,619.8 L388,620 L390,620.1 L392,620.2 L394,620.4 L396,620.5 L398,620.7 L400,620.8 L402,621 L404,621.2 L406,621.4 L408,621.7 L410,621.9 L412,622.2 L414,622.5 L416,622.7 L418,623 L420,623.2 L422,623.4 L424,623.6 L426,623.8 L428,624 L430,624.1 L432,624.3 L434,624.4 L436,624.5 L438,624.7 L440,624.8 L442,624.9 L444,625.1 L444.2,625.1" fill="none" stroke="#222" stroke-width="2.3" stroke-linejoin="round"/>
<path d="M115.6,625.1 L117.6,624.9 L119.6,624.7 L121.6,624.5 L123.6,624.3 L125.6,624 L127.6,623.8 L129.6,623.5 L131.6,623.1 L133.6,622.6 L135.6,622.1 L137.6,621.5 L139.6,620.7 L141.6,619.9 L143.6,619 L145.6,618 L147.6,617 L149.6,615.8 L151.6,614.6 L153.6,613.2 L155.6,611.8 L157.6,610.3 L159.6,608.7 L161.6,607.1 L163.6,605.5 L165.6,604 L167.6,602.4 L169.6,600.8 L171.6,599.2 L173.6,597.6 L175.6,595.9 L177.6,594.3 L179.6,592.6 L181.6,591 L183.6,589.3 L185.6,587.6 L187.6,585.8 L189.6,584.1 L191.6,582.4 L193.6,580.8 L195.6,579.4 L197.6,578.1 L199.6,576.9 L201.6,575.7 L203.6,574.6 L205.6,573.6 L207.6,572.7 L209.6,572 L211.6,571.4 L213.6,571 L215.6,570.9 L217.6,571 L219.6,571.3 L221.6,571.7 L223.6,572.4 L225.6,573.1 L227.6,574 L229.6,574.9 L231.6,575.8 L233.6,576.9 L235.6,578.1 L237.6,579.5 L239.6,581 L241.6,582.6 L243.6,584.1 L245.6,585.6 L247.6,587 L249.6,588.3 L251.6,589.6 L253.6,590.9 L255.6,592.2 L257.6,593.4 L259.6,594.6 L261.6,595.7 L263.6,596.8 L265.6,597.9 L267.6,599 L269.6,600.1 L271.6,601.1 L273.6,602.2 L275.6,603.2 L277.6,604.2 L279.6,605.2 L281.6,606.2 L283.6,607.1 L285.6,608 L287.6,608.9 L289.6,609.6 L291.6,610.2 L293.6,610.8 L295.6,611.4 L297.6,612 L299.6,612.7 L301.6,613.5 L303.6,614.3 L305.6,614.9 L307.6,615.4 L309.6,615.7 L311.6,615.9 L313.6,615.9 L315.6,616 L317.6,615.9 L319.6,615.9 L321.6,615.9 L323.6,616 L325.6,616.1 L327.6,616.2 L329.6,616.3 L331.6,616.4 L333.6,616.5 L335.6,616.6 L337.6,616.8 L339.6,616.9 L341.6,617 L343.6,617.2 L345.6,617.3 L347.6,617.4 L349.6,617.6 L351.6,617.7 L353.6,617.8 L355.6,618 L357.6,618.1 L359.6,618.3 L361.6,618.4 L363.6,618.6 L365.6,618.8 L367.6,619 L369.6,619.2 L371.6,619.4 L373.6,619.6 L375.6,619.8 L377.6,620 L379.6,620.2 L381.6,620.4 L383.6,620.6 L385.6,620.8 L387.6,621 L389.6,621.2 L391.6,621.4 L393.6,621.6 L395.6,621.8 L397.6,622 L399.6,622.2 L401.6,622.4 L403.6,622.6 L405.6,622.7 L407.6,622.9 L409.6,623.1 L411.6,623.2 L413.6,623.4 L415.6,623.6 L417.6,623.7 L419.6,623.9 L421.6,624.1 L423.6,624.2 L425.6,624.4 L427.6,624.5 L429.6,624.7 L431.6,624.9 L433.6,625 L434.4,625.1 L434.4,625.1 L115.6,625.1 Z" fill="rgba(89,89,89,0.7)"/>
<path d="M115.6,625.1 L117.6,624.9 L119.6,624.7 L121.6,624.5 L123.6,624.3 L125.6,624 L127.6,623.8 L129.6,623.5 L131.6,623.1 L133.6,622.6 L135.6,622.1 L137.6,621.5 L139.6,620.7 L141.6,619.9 L143.6,619 L145.6,618 L147.6,617 L149.6,615.8 L151.6,614.6 L153.6,613.2 L155.6,611.8 L157.6,610.3 L159.6,608.7 L161.6,607.1 L163.6,605.5 L165.6,604 L167.6,602.4 L169.6,600.8 L171.6,599.2 L173.6,597.6 L175.6,595.9 L177.6,594.3 L179.6,592.6 L181.6,591 L183.6,589.3 L185.6,587.6 L187.6,585.8 L189.6,584.1 L191.6,582.4 L193.6,580.8 L195.6,579.4 L197.6,578.1 L199.6,576.9 L201.6,575.7 L203.6,574.6 L205.6,573.6 L207.6,572.7 L209.6,572 L211.6,571.4 L213.6,571 L215.6,570.9 L217.6,571 L219.6,571.3 L221.6,571.7 L223.6,572.4 L225.6,573.1 L227.6,574 L229.6,574.9 L231.6,575.8 L233.6,576.9 L235.6,578.1 L237.6,579.5 L239.6,581 L241.6,582.6 L243.6,584.1 L245.6,585.6 L247.6,587 L249.6,588.3 L251.6,589.6 L253.6,590.9 L255.6,592.2 L257.6,593.4 L259.6,594.6 L261.6,595.7 L263.6,596.8 L265.6,597.9 L267.6,599 L269.6,600.1 L271.6,601.1 L273.6,602.2 L275.6,603.2 L277.6,604.2 L279.6,605.2 L281.6,606.2 L283.6,607.1 L285.6,608 L287.6,608.9 L289.6,609.6 L291.6,610.2 L293.6,610.8 L295.6,611.4 L297.6,612 L299.6,612.7 L301.6,613.5 L303.6,614.3 L305.6,614.9 L307.6,615.4 L309.6,615.7 L311.6,615.9 L313.6,615.9 L315.6,616 L317.6,615.9 L319.6,615.9 L321.6,615.9 L323.6,616 L325.6,616.1 L327.6,616.2 L329.6,616.3 L331.6,616.4 L333.6,616.5 L335.6,616.6 L337.6,616.8 L339.6,616.9 L341.6,617 L343.6,617.2 L345.6,617.3 L347.6,617.4 L349.6,617.6 L351.6,617.7 L353.6,617.8 L355.6,618 L357.6,618.1 L359.6,618.3 L361.6,618.4 L363.6,618.6 L365.6,618.8 L367.6,619 L369.6,619.2 L371.6,619.4 L373.6,619.6 L375.6,619.8 L377.6,620 L379.6,620.2 L381.6,620.4 L383.6,620.6 L385.6,620.8 L387.6,621 L389.6,621.2 L391.6,621.4 L393.6,621.6 L395.6,621.8 L397.6,622 L399.6,622.2 L401.6,622.4 L403.6,622.6 L405.6,622.7 L407.6,622.9 L409.6,623.1 L411.6,623.2 L413.6,623.4 L415.6,623.6 L417.6,623.7 L419.6,623.9 L421.6,624.1 L423.6,624.2 L425.6,624.4 L427.6,624.5 L429.6,624.7 L431.6,624.9 L433.6,625 L434.4,625.1" fill="none" stroke="#000" stroke-width="3" stroke-linejoin="round" stroke-linecap="round"/>
<g fill="rgba(0,0,0,0.36)"><ellipse cx="299.1" cy="621.6" rx="4.1" ry="3.2"/><ellipse cx="256.1" cy="598.7" rx="4.1" ry="3.2"/><ellipse cx="277.2" cy="615.6" rx="4.1" ry="3.2"/><ellipse cx="199.8" cy="599.8" rx="4.1" ry="3.2"/><ellipse cx="228.1" cy="610.2" rx="4.1" ry="3.2"/><ellipse cx="178.8" cy="623.6" rx="4.1" ry="3.2"/><ellipse cx="247.2" cy="595" rx="4.1" ry="3.2"/><ellipse cx="281.1" cy="611.9" rx="4.1" ry="3.2"/><ellipse cx="262.8" cy="609.2" rx="4.1" ry="3.2"/><ellipse cx="145.2" cy="623.8" rx="4.1" ry="3.2"/><ellipse cx="185.6" cy="600.9" rx="4.1" ry="3.2"/><ellipse cx="218.2" cy="612.1" rx="4.1" ry="3.2"/><ellipse cx="231" cy="618.7" rx="4.1" ry="3.2"/><ellipse cx="146.4" cy="623.3" rx="4.1" ry="3.2"/><ellipse cx="210.5" cy="581.2" rx="4.1" ry="3.2"/><ellipse cx="185.6" cy="595.3" rx="4.1" ry="3.2"/><ellipse cx="211.9" cy="609.7" rx="4.1" ry="3.2"/><ellipse cx="205.9" cy="595.5" rx="4.1" ry="3.2"/><ellipse cx="212.2" cy="595.8" rx="4.1" ry="3.2"/><ellipse cx="195.8" cy="598.9" rx="4.1" ry="3.2"/><ellipse cx="229.3" cy="597.3" rx="4.1" ry="3.2"/><ellipse cx="180.3" cy="618.6" rx="4.1" ry="3.2"/><ellipse cx="287.3" cy="621.6" rx="4.1" ry="3.2"/><ellipse cx="357.5" cy="623.7" rx="4.1" ry="3.2"/><ellipse cx="352.8" cy="622.9" rx="4.1" ry="3.2"/><ellipse cx="238.3" cy="622.9" rx="4.1" ry="3.2"/><ellipse cx="246.2" cy="595.9" rx="4.1" ry="3.2"/><ellipse cx="232.8" cy="590.2" rx="4.1" ry="3.2"/><ellipse cx="247.2" cy="623.1" rx="4.1" ry="3.2"/><ellipse cx="186.8" cy="615" rx="4.1" ry="3.2"/><ellipse cx="296.6" cy="618" rx="4.1" ry="3.2"/><ellipse cx="205.3" cy="613.4" rx="4.1" ry="3.2"/><ellipse cx="214.3" cy="615.3" rx="4.1" ry="3.2"/><ellipse cx="263" cy="621.6" rx="4.1" ry="3.2"/><ellipse cx="263.9" cy="603.1" rx="4.1" ry="3.2"/><ellipse cx="235.6" cy="604.4" rx="4.1" ry="3.2"/><ellipse cx="231.6" cy="611.7" rx="4.1" ry="3.2"/><ellipse cx="299.8" cy="618.7" rx="4.1" ry="3.2"/><ellipse cx="217.2" cy="617.9" rx="4.1" ry="3.2"/><ellipse cx="279.1" cy="620.8" rx="4.1" ry="3.2"/><ellipse cx="332" cy="622.7" rx="4.1" ry="3.2"/><ellipse cx="211.9" cy="596.7" rx="4.1" ry="3.2"/><ellipse cx="184.2" cy="609.8" rx="4.1" ry="3.2"/><ellipse cx="214.2" cy="579.8" rx="4.1" ry="3.2"/><ellipse cx="212.5" cy="610.6" rx="4.1" ry="3.2"/><ellipse cx="228.2" cy="584.6" rx="4.1" ry="3.2"/><ellipse cx="238.2" cy="622.8" rx="4.1" ry="3.2"/><ellipse cx="232.9" cy="594.2" rx="4.1" ry="3.2"/><ellipse cx="221.7" cy="608.7" rx="4.1" ry="3.2"/><ellipse cx="198.2" cy="613" rx="4.1" ry="3.2"/><ellipse cx="219.4" cy="603.6" rx="4.1" ry="3.2"/><ellipse cx="364.1" cy="623.7" rx="4.1" ry="3.2"/><ellipse cx="296" cy="618.2" rx="4.1" ry="3.2"/><ellipse cx="169.3" cy="613.4" rx="4.1" ry="3.2"/><ellipse cx="247.8" cy="612.8" rx="4.1" ry="3.2"/><ellipse cx="235.8" cy="600.3" rx="4.1" ry="3.2"/><ellipse cx="300.6" cy="620" rx="4.1" ry="3.2"/><ellipse cx="223.1" cy="583.2" rx="4.1" ry="3.2"/><ellipse cx="233.4" cy="615.2" rx="4.1" ry="3.2"/><ellipse cx="226.1" cy="585.6" rx="4.1" ry="3.2"/><ellipse cx="181.1" cy="603.2" rx="4.1" ry="3.2"/><ellipse cx="219.3" cy="594.1" rx="4.1" ry="3.2"/><ellipse cx="258.3" cy="623.4" rx="4.1" ry="3.2"/><ellipse cx="286.5" cy="623.1" rx="4.1" ry="3.2"/><ellipse cx="298.5" cy="622.9" rx="4.1" ry="3.2"/><ellipse cx="207.5" cy="589.8" rx="4.1" ry="3.2"/><ellipse cx="177.6" cy="601.2" rx="4.1" ry="3.2"/><ellipse cx="234.6" cy="616" rx="4.1" ry="3.2"/><ellipse cx="259.7" cy="609" rx="4.1" ry="3.2"/><ellipse cx="289.2" cy="619.3" rx="4.1" ry="3.2"/><ellipse cx="200.3" cy="596" rx="4.1" ry="3.2"/><ellipse cx="310.2" cy="623" rx="4.1" ry="3.2"/><ellipse cx="243.2" cy="613.2" rx="4.1" ry="3.2"/><ellipse cx="242.5" cy="608.6" rx="4.1" ry="3.2"/><ellipse cx="212.2" cy="580.2" rx="4.1" ry="3.2"/><ellipse cx="269.8" cy="605.9" rx="4.1" ry="3.2"/><ellipse cx="193.1" cy="601.4" rx="4.1" ry="3.2"/><ellipse cx="192.2" cy="620.8" rx="4.1" ry="3.2"/></g>
<path d="M112.7,698.6 L114.7,698.4 L116.7,698.2 L118.7,698 L120.7,697.9 L122.7,697.7 L124.7,697.4 L126.7,697.2 L128.7,696.9 L130.7,696.6 L132.7,696.3 L134.7,695.9 L136.7,695.4 L138.7,694.9 L140.7,694.4 L142.7,693.8 L144.7,693.1 L146.7,692.5 L148.7,691.8 L150.7,691 L152.7,690.1 L154.7,688.7 L156.7,686.4 L158.7,683.9 L160.7,682 L162.7,680.6 L164.7,679.2 L166.7,678 L168.7,676.7 L170.7,675.5 L172.7,674.2 L174.7,673 L176.7,671.8 L178.7,670.6 L180.7,669.4 L182.7,668.2 L184.7,666.9 L186.7,665.7 L188.7,664.4 L190.7,663.1 L192.7,661.8 L194.7,660.5 L196.7,659.3 L198.7,658.1 L200.7,657.1 L202.7,656.1 L204.7,655.2 L206.7,654.5 L208.7,653.9 L210.7,653.5 L212.7,653.2 L214.7,653 L216.7,652.9 L218.7,652.9 L220.7,652.9 L222.7,653 L224.7,653.2 L226.7,653.6 L228.7,654.1 L230.7,654.7 L232.7,655.4 L234.7,656.2 L236.7,657 L238.7,657.9 L240.7,658.8 L242.7,659.8 L244.7,660.8 L246.7,661.9 L248.7,662.9 L250.7,664 L252.7,665 L254.7,666 L256.7,667 L258.7,668.1 L260.7,669.1 L262.7,670.1 L264.7,671.1 L266.7,672.1 L268.7,673.1 L270.7,674 L272.7,675 L274.7,675.9 L276.7,676.9 L278.7,677.8 L280.7,678.6 L282.7,679.1 L284.7,679.4 L286.7,679.5 L288.7,679.4 L290.7,679.2 L292.7,678.9 L294.7,678.6 L296.7,678.3 L298.7,678 L300.7,677.8 L302.7,677.6 L304.7,677.6 L306.7,677.8 L308.7,678 L310.7,678.3 L312.7,678.6 L314.7,679 L316.7,679.4 L318.7,679.9 L320.7,680.5 L322.7,681 L324.7,681.7 L326.7,682.3 L328.7,683.1 L330.7,683.9 L332.7,684.8 L334.7,685.6 L336.7,686.5 L338.7,687.4 L340.7,688.2 L342.7,688.9 L344.7,689.6 L346.7,690.3 L348.7,691 L350.7,691.6 L352.7,692.2 L354.7,692.8 L356.7,693.2 L358.7,693.6 L360.7,693.9 L362.7,694.2 L364.7,694.4 L366.7,694.6 L368.7,694.8 L370.7,694.9 L372.7,695 L374.7,695.1 L376.7,695.2 L378.7,695.3 L380.7,695.4 L382.7,695.5 L384.7,695.5 L386.7,695.6 L388.7,695.7 L390.7,695.7 L392.7,695.8 L394.7,695.9 L396.7,695.9 L398.7,696 L400.7,696.1 L402.7,696.2 L404.7,696.3 L406.7,696.4 L408.7,696.5 L410.7,696.6 L412.7,696.7 L414.7,696.8 L416.7,696.9 L418.7,697 L420.7,697.2 L422.7,697.3 L424.7,697.4 L426.7,697.5 L428.7,697.6 L430.7,697.7 L432.7,697.8 L434.7,697.9 L436.7,698 L438.7,698.1 L440.7,698.1 L442.7,698.2 L444.7,698.3 L446.7,698.3 L448.7,698.4 L450.7,698.4 L452.7,698.4 L454.7,698.5 L456.7,698.5 L458.7,698.5 L460.7,698.5 L462.7,698.5 L464.7,698.6 L466.7,698.6 L468.7,698.6 L470.7,698.6 L471.7,698.6 L471.7,698.6 L112.7,698.6 Z" fill="rgba(123,104,238,0.86)"/>
<path d="M112.7,698.6 L114.7,698.4 L116.7,698.2 L118.7,698 L120.7,697.9 L122.7,697.7 L124.7,697.4 L126.7,697.2 L128.7,696.9 L130.7,696.6 L132.7,696.3 L134.7,695.9 L136.7,695.4 L138.7,694.9 L140.7,694.4 L142.7,693.8 L144.7,693.1 L146.7,692.5 L148.7,691.8 L150.7,691 L152.7,690.1 L154.7,688.7 L156.7,686.4 L158.7,683.9 L160.7,682 L162.7,680.6 L164.7,679.2 L166.7,678 L168.7,676.7 L170.7,675.5 L172.7,674.2 L174.7,673 L176.7,671.8 L178.7,670.6 L180.7,669.4 L182.7,668.2 L184.7,666.9 L186.7,665.7 L188.7,664.4 L190.7,663.1 L192.7,661.8 L194.7,660.5 L196.7,659.3 L198.7,658.1 L200.7,657.1 L202.7,656.1 L204.7,655.2 L206.7,654.5 L208.7,653.9 L210.7,653.5 L212.7,653.2 L214.7,653 L216.7,652.9 L218.7,652.9 L220.7,652.9 L222.7,653 L224.7,653.2 L226.7,653.6 L228.7,654.1 L230.7,654.7 L232.7,655.4 L234.7,656.2 L236.7,657 L238.7,657.9 L240.7,658.8 L242.7,659.8 L244.7,660.8 L246.7,661.9 L248.7,662.9 L250.7,664 L252.7,665 L254.7,666 L256.7,667 L258.7,668.1 L260.7,669.1 L262.7,670.1 L264.7,671.1 L266.7,672.1 L268.7,673.1 L270.7,674 L272.7,675 L274.7,675.9 L276.7,676.9 L278.7,677.8 L280.7,678.6 L282.7,679.1 L284.7,679.4 L286.7,679.5 L288.7,679.4 L290.7,679.2 L292.7,678.9 L294.7,678.6 L296.7,678.3 L298.7,678 L300.7,677.8 L302.7,677.6 L304.7,677.6 L306.7,677.8 L308.7,678 L310.7,678.3 L312.7,678.6 L314.7,679 L316.7,679.4 L318.7,679.9 L320.7,680.5 L322.7,681 L324.7,681.7 L326.7,682.3 L328.7,683.1 L330.7,683.9 L332.7,684.8 L334.7,685.6 L336.7,686.5 L338.7,687.4 L340.7,688.2 L342.7,688.9 L344.7,689.6 L346.7,690.3 L348.7,691 L350.7,691.6 L352.7,692.2 L354.7,692.8 L356.7,693.2 L358.7,693.6 L360.7,693.9 L362.7,694.2 L364.7,694.4 L366.7,694.6 L368.7,694.8 L370.7,694.9 L372.7,695 L374.7,695.1 L376.7,695.2 L378.7,695.3 L380.7,695.4 L382.7,695.5 L384.7,695.5 L386.7,695.6 L388.7,695.7 L390.7,695.7 L392.7,695.8 L394.7,695.9 L396.7,695.9 L398.7,696 L400.7,696.1 L402.7,696.2 L404.7,696.3 L406.7,696.4 L408.7,696.5 L410.7,696.6 L412.7,696.7 L414.7,696.8 L416.7,696.9 L418.7,697 L420.7,697.2 L422.7,697.3 L424.7,697.4 L426.7,697.5 L428.7,697.6 L430.7,697.7 L432.7,697.8 L434.7,697.9 L436.7,698 L438.7,698.1 L440.7,698.1 L442.7,698.2 L444.7,698.3 L446.7,698.3 L448.7,698.4 L450.7,698.4 L452.7,698.4 L454.7,698.5 L456.7,698.5 L458.7,698.5 L460.7,698.5 L462.7,698.5 L464.7,698.6 L466.7,698.6 L468.7,698.6 L470.7,698.6 L471.7,698.6" fill="none" stroke="#222" stroke-width="2.3" stroke-linejoin="round"/>
<path d="M112.7,698.6 L114.7,698.4 L116.7,698.2 L118.7,698 L120.7,697.7 L122.7,697.5 L124.7,697.2 L126.7,697 L128.7,696.6 L130.7,696.2 L132.7,695.7 L134.7,695.1 L136.7,694.4 L138.7,693.7 L140.7,692.8 L142.7,691.9 L144.7,690.9 L146.7,689.8 L148.7,688.7 L150.7,687.5 L152.7,686.2 L154.7,684.9 L156.7,683.4 L158.7,681.9 L160.7,680.2 L162.7,678.4 L164.7,676.5 L166.7,674.6 L168.7,672.7 L170.7,670.7 L172.7,668.5 L174.7,666.3 L176.7,664 L178.7,661.7 L180.7,659.6 L182.7,657.7 L184.7,655.9 L186.7,654.4 L188.7,652.9 L190.7,651.6 L192.7,650.5 L194.7,649.6 L196.7,648.9 L198.7,648.5 L200.7,648.2 L202.7,648.1 L204.7,648.2 L206.7,648.4 L208.7,648.7 L210.7,649 L212.7,649.4 L214.7,649.8 L216.7,650.2 L218.7,650.6 L220.7,651.2 L222.7,651.7 L224.7,652.3 L226.7,652.9 L228.7,653.6 L230.7,654.3 L232.7,655.1 L234.7,655.9 L236.7,656.8 L238.7,657.7 L240.7,658.7 L242.7,659.8 L244.7,660.8 L246.7,661.9 L248.7,662.9 L250.7,664 L252.7,665 L254.7,666 L256.7,667 L258.7,668 L260.7,669 L262.7,670 L264.7,671 L266.7,672 L268.7,673 L270.7,674 L272.7,675 L274.7,676 L276.7,677 L278.7,678 L280.7,678.9 L282.7,679.7 L284.7,680.4 L286.7,681 L288.7,681.6 L290.7,682.1 L292.7,682.6 L294.7,683.1 L296.7,683.5 L298.7,684 L300.7,684.4 L302.7,684.9 L304.7,685.4 L306.7,685.9 L308.7,686.4 L310.7,686.9 L312.7,687.4 L314.7,688 L316.7,688.5 L318.7,689 L320.7,689.5 L322.7,689.9 L324.7,690.4 L326.7,690.8 L328.7,691.3 L330.7,691.8 L332.7,692.2 L334.7,692.6 L336.7,693 L338.7,693.4 L340.7,693.8 L342.7,694.1 L344.7,694.4 L346.7,694.7 L348.7,694.9 L350.7,695.1 L352.7,695.3 L354.7,695.4 L356.7,695.5 L358.7,695.6 L360.7,695.7 L362.7,695.8 L364.7,695.8 L366.7,695.9 L368.7,695.9 L370.7,695.9 L372.7,695.9 L374.7,695.9 L376.7,695.9 L378.7,695.9 L380.7,695.9 L382.7,695.9 L384.7,695.9 L386.7,696 L388.7,696 L390.7,696 L392.7,696 L394.7,696 L396.7,696 L398.7,696.1 L400.7,696.1 L402.7,696.2 L404.7,696.3 L406.7,696.4 L408.7,696.5 L410.7,696.6 L412.7,696.7 L414.7,696.8 L416.7,697 L418.7,697.1 L420.7,697.2 L422.7,697.4 L424.7,697.5 L426.7,697.7 L428.7,697.9 L430.7,698 L432.7,698.2 L434.7,698.3 L436.7,698.5 L438.3,698.6 L438.3,698.6 L112.7,698.6 Z" fill="rgba(89,89,89,0.7)"/>
<path d="M112.7,698.6 L114.7,698.4 L116.7,698.2 L118.7,698 L120.7,697.7 L122.7,697.5 L124.7,697.2 L126.7,697 L128.7,696.6 L130.7,696.2 L132.7,695.7 L134.7,695.1 L136.7,694.4 L138.7,693.7 L140.7,692.8 L142.7,691.9 L144.7,690.9 L146.7,689.8 L148.7,688.7 L150.7,687.5 L152.7,686.2 L154.7,684.9 L156.7,683.4 L158.7,681.9 L160.7,680.2 L162.7,678.4 L164.7,676.5 L166.7,674.6 L168.7,672.7 L170.7,670.7 L172.7,668.5 L174.7,666.3 L176.7,664 L178.7,661.7 L180.7,659.6 L182.7,657.7 L184.7,655.9 L186.7,654.4 L188.7,652.9 L190.7,651.6 L192.7,650.5 L194.7,649.6 L196.7,648.9 L198.7,648.5 L200.7,648.2 L202.7,648.1 L204.7,648.2 L206.7,648.4 L208.7,648.7 L210.7,649 L212.7,649.4 L214.7,649.8 L216.7,650.2 L218.7,650.6 L220.7,651.2 L222.7,651.7 L224.7,652.3 L226.7,652.9 L228.7,653.6 L230.7,654.3 L232.7,655.1 L234.7,655.9 L236.7,656.8 L238.7,657.7 L240.7,658.7 L242.7,659.8 L244.7,660.8 L246.7,661.9 L248.7,662.9 L250.7,664 L252.7,665 L254.7,666 L256.7,667 L258.7,668 L260.7,669 L262.7,670 L264.7,671 L266.7,672 L268.7,673 L270.7,674 L272.7,675 L274.7,676 L276.7,677 L278.7,678 L280.7,678.9 L282.7,679.7 L284.7,680.4 L286.7,681 L288.7,681.6 L290.7,682.1 L292.7,682.6 L294.7,683.1 L296.7,683.5 L298.7,684 L300.7,684.4 L302.7,684.9 L304.7,685.4 L306.7,685.9 L308.7,686.4 L310.7,686.9 L312.7,687.4 L314.7,688 L316.7,688.5 L318.7,689 L320.7,689.5 L322.7,689.9 L324.7,690.4 L326.7,690.8 L328.7,691.3 L330.7,691.8 L332.7,692.2 L334.7,692.6 L336.7,693 L338.7,693.4 L340.7,693.8 L342.7,694.1 L344.7,694.4 L346.7,694.7 L348.7,694.9 L350.7,695.1 L352.7,695.3 L354.7,695.4 L356.7,695.5 L358.7,695.6 L360.7,695.7 L362.7,695.8 L364.7,695.8 L366.7,695.9 L368.7,695.9 L370.7,695.9 L372.7,695.9 L374.7,695.9 L376.7,695.9 L378.7,695.9 L380.7,695.9 L382.7,695.9 L384.7,695.9 L386.7,696 L388.7,696 L390.7,696 L392.7,696 L394.7,696 L396.7,696 L398.7,696.1 L400.7,696.1 L402.7,696.2 L404.7,696.3 L406.7,696.4 L408.7,696.5 L410.7,696.6 L412.7,696.7 L414.7,696.8 L416.7,697 L418.7,697.1 L420.7,697.2 L422.7,697.4 L424.7,697.5 L426.7,697.7 L428.7,697.9 L430.7,698 L432.7,698.2 L434.7,698.3 L436.7,698.5 L438.3,698.6" fill="none" stroke="#000" stroke-width="3" stroke-linejoin="round" stroke-linecap="round"/>
<g fill="rgba(0,0,0,0.36)"><ellipse cx="209.8" cy="657" rx="4.1" ry="3.2"/><ellipse cx="238.9" cy="683.3" rx="4.1" ry="3.2"/><ellipse cx="212.3" cy="694.7" rx="4.1" ry="3.2"/><ellipse cx="182.2" cy="694.9" rx="4.1" ry="3.2"/><ellipse cx="261.3" cy="694.8" rx="4.1" ry="3.2"/><ellipse cx="308.9" cy="696.9" rx="4.1" ry="3.2"/><ellipse cx="213.8" cy="692" rx="4.1" ry="3.2"/><ellipse cx="253.2" cy="676.3" rx="4.1" ry="3.2"/><ellipse cx="212.1" cy="662.9" rx="4.1" ry="3.2"/><ellipse cx="174.6" cy="688.8" rx="4.1" ry="3.2"/><ellipse cx="296.3" cy="691.1" rx="4.1" ry="3.2"/><ellipse cx="203.1" cy="657.9" rx="4.1" ry="3.2"/><ellipse cx="205.4" cy="689" rx="4.1" ry="3.2"/><ellipse cx="203.8" cy="662.1" rx="4.1" ry="3.2"/><ellipse cx="174.2" cy="688.5" rx="4.1" ry="3.2"/><ellipse cx="227.7" cy="689.1" rx="4.1" ry="3.2"/><ellipse cx="190.7" cy="688.5" rx="4.1" ry="3.2"/><ellipse cx="190.9" cy="666.3" rx="4.1" ry="3.2"/><ellipse cx="165.9" cy="688.7" rx="4.1" ry="3.2"/><ellipse cx="250" cy="676.3" rx="4.1" ry="3.2"/><ellipse cx="164.2" cy="682.2" rx="4.1" ry="3.2"/><ellipse cx="214.3" cy="677.3" rx="4.1" ry="3.2"/><ellipse cx="199.5" cy="657.7" rx="4.1" ry="3.2"/><ellipse cx="196.5" cy="684.1" rx="4.1" ry="3.2"/><ellipse cx="229.2" cy="696.5" rx="4.1" ry="3.2"/><ellipse cx="209.4" cy="657.6" rx="4.1" ry="3.2"/><ellipse cx="189.1" cy="680.1" rx="4.1" ry="3.2"/><ellipse cx="192.6" cy="694.8" rx="4.1" ry="3.2"/><ellipse cx="229" cy="696.9" rx="4.1" ry="3.2"/><ellipse cx="302.5" cy="693" rx="4.1" ry="3.2"/><ellipse cx="314.1" cy="694.4" rx="4.1" ry="3.2"/><ellipse cx="258.4" cy="693.7" rx="4.1" ry="3.2"/><ellipse cx="234.1" cy="668.7" rx="4.1" ry="3.2"/><ellipse cx="224.1" cy="679.6" rx="4.1" ry="3.2"/><ellipse cx="169.5" cy="681.3" rx="4.1" ry="3.2"/><ellipse cx="259.9" cy="684.3" rx="4.1" ry="3.2"/><ellipse cx="234.7" cy="686.3" rx="4.1" ry="3.2"/><ellipse cx="228.7" cy="659.6" rx="4.1" ry="3.2"/><ellipse cx="174.9" cy="681.5" rx="4.1" ry="3.2"/><ellipse cx="200.6" cy="660.6" rx="4.1" ry="3.2"/><ellipse cx="235.1" cy="693.3" rx="4.1" ry="3.2"/><ellipse cx="217.5" cy="677.5" rx="4.1" ry="3.2"/><ellipse cx="191.6" cy="663.2" rx="4.1" ry="3.2"/><ellipse cx="297.9" cy="691.5" rx="4.1" ry="3.2"/><ellipse cx="246.9" cy="671.3" rx="4.1" ry="3.2"/><ellipse cx="164.5" cy="685.8" rx="4.1" ry="3.2"/><ellipse cx="188" cy="672.5" rx="4.1" ry="3.2"/><ellipse cx="184.9" cy="662" rx="4.1" ry="3.2"/><ellipse cx="209.4" cy="694.1" rx="4.1" ry="3.2"/><ellipse cx="185" cy="685.4" rx="4.1" ry="3.2"/><ellipse cx="190.5" cy="661.3" rx="4.1" ry="3.2"/><ellipse cx="248" cy="669.5" rx="4.1" ry="3.2"/><ellipse cx="234.8" cy="679.2" rx="4.1" ry="3.2"/><ellipse cx="204" cy="671.5" rx="4.1" ry="3.2"/><ellipse cx="262.1" cy="689.9" rx="4.1" ry="3.2"/><ellipse cx="192.1" cy="670.7" rx="4.1" ry="3.2"/><ellipse cx="246.4" cy="684.8" rx="4.1" ry="3.2"/><ellipse cx="329.1" cy="696.8" rx="4.1" ry="3.2"/><ellipse cx="229.1" cy="674.6" rx="4.1" ry="3.2"/><ellipse cx="217.6" cy="656.7" rx="4.1" ry="3.2"/><ellipse cx="224" cy="680.2" rx="4.1" ry="3.2"/><ellipse cx="198.6" cy="661.9" rx="4.1" ry="3.2"/><ellipse cx="244.4" cy="692.2" rx="4.1" ry="3.2"/><ellipse cx="271.6" cy="686" rx="4.1" ry="3.2"/><ellipse cx="188.7" cy="667.9" rx="4.1" ry="3.2"/><ellipse cx="237.9" cy="679.9" rx="4.1" ry="3.2"/><ellipse cx="220" cy="692.9" rx="4.1" ry="3.2"/><ellipse cx="214" cy="684.5" rx="4.1" ry="3.2"/><ellipse cx="205.7" cy="677.3" rx="4.1" ry="3.2"/><ellipse cx="191.2" cy="670.4" rx="4.1" ry="3.2"/><ellipse cx="173.6" cy="675.7" rx="4.1" ry="3.2"/><ellipse cx="139.5" cy="697.6" rx="4.1" ry="3.2"/><ellipse cx="237.4" cy="671.3" rx="4.1" ry="3.2"/><ellipse cx="220.1" cy="691.1" rx="4.1" ry="3.2"/><ellipse cx="245.9" cy="685.9" rx="4.1" ry="3.2"/><ellipse cx="175.7" cy="686.3" rx="4.1" ry="3.2"/><ellipse cx="245.5" cy="678.8" rx="4.1" ry="3.2"/><ellipse cx="155.9" cy="691.3" rx="4.1" ry="3.2"/></g>
<path d="M126.5,773 L128.5,772.2 L130.5,771.5 L132.5,770.7 L134.5,770 L136.5,769.2 L138.5,768.3 L140.5,767.4 L142.5,766.4 L144.5,765.3 L146.5,764.1 L148.5,762.7 L150.5,761.3 L152.5,759.8 L154.5,758.2 L156.5,756.5 L158.5,754.7 L160.5,752.8 L162.5,750.6 L164.5,748 L166.5,745.5 L168.5,743.2 L170.5,741.5 L172.5,740.1 L174.5,738.8 L176.5,737.8 L178.5,736.8 L180.5,735.9 L182.5,735 L184.5,734.2 L186.5,733.5 L188.5,732.8 L190.5,732.1 L192.5,731.6 L194.5,731.1 L196.5,730.8 L198.5,730.6 L200.5,730.6 L202.5,730.7 L204.5,731 L206.5,731.3 L208.5,731.7 L210.5,732.1 L212.5,732.5 L214.5,732.9 L216.5,733.4 L218.5,733.8 L220.5,734.3 L222.5,734.7 L224.5,735.2 L226.5,735.7 L228.5,736.3 L230.5,736.9 L232.5,737.5 L234.5,738.5 L236.5,739.7 L238.5,741 L240.5,741.9 L242.5,742.6 L244.5,743.3 L246.5,743.9 L248.5,744.4 L250.5,745 L252.5,745.5 L254.5,746 L256.5,746.5 L258.5,747 L260.5,747.5 L262.5,748 L264.5,748.5 L266.5,748.9 L268.5,749.4 L270.5,749.8 L272.5,750.3 L274.5,750.7 L276.5,751.1 L278.5,751.5 L280.5,751.9 L282.5,752.3 L284.5,752.7 L286.5,753.1 L288.5,753.4 L290.5,753.8 L292.5,754.1 L294.5,754.4 L296.5,754.7 L298.5,755 L300.5,755.2 L302.5,755.5 L304.5,755.7 L306.5,755.8 L308.5,756 L310.5,756 L312.5,756.1 L314.5,756.1 L316.5,756.2 L318.5,756.3 L320.5,756.4 L322.5,756.5 L324.5,756.8 L326.5,757.1 L328.5,757.5 L330.5,758 L332.5,758.5 L334.5,759 L336.5,759.6 L338.5,760.2 L340.5,760.7 L342.5,761.3 L344.5,761.8 L346.5,762.4 L348.5,763 L350.5,763.6 L352.5,764.2 L354.5,764.9 L356.5,765.6 L358.5,766.3 L360.5,767.1 L362.5,767.9 L364.5,768.6 L366.5,769.2 L368.5,769.7 L370.5,770.1 L372.5,770.5 L374.5,770.8 L376.5,771 L378.5,771.3 L380.5,771.5 L382.5,771.7 L384.5,771.9 L386.5,772.2 L388.5,772.3 L390.5,772.4 L392.5,772.4 L394.5,772.4 L396.5,772.3 L398.5,772.2 L400.5,772.1 L402.5,772 L404.5,771.8 L406.5,771.6 L408.5,771.5 L410.5,771.3 L412.5,771.2 L414.5,771 L416.5,770.9 L418.5,770.7 L420.5,770.6 L422.5,770.5 L424.5,770.4 L426.5,770.3 L428.5,770.2 L430.5,770.1 L432.5,770 L434.5,769.9 L436.5,769.8 L438.5,769.8 L440.5,769.7 L442.5,769.6 L444.5,769.6 L446.5,769.5 L448.5,769.5 L450.5,769.5 L452.5,769.5 L454.5,769.6 L456.5,769.6 L458.5,769.7 L460.5,769.9 L462.5,770 L464.5,770.2 L466.5,770.4 L468.5,770.7 L470.5,771 L472.5,771.6 L473,773 L473,773 L126.5,773 Z" fill="rgba(123,104,238,0.86)"/>
<path d="M126.5,773 L128.5,772.2 L130.5,771.5 L132.5,770.7 L134.5,770 L136.5,769.2 L138.5,768.3 L140.5,767.4 L142.5,766.4 L144.5,765.3 L146.5,764.1 L148.5,762.7 L150.5,761.3 L152.5,759.8 L154.5,758.2 L156.5,756.5 L158.5,754.7 L160.5,752.8 L162.5,750.6 L164.5,748 L166.5,745.5 L168.5,743.2 L170.5,741.5 L172.5,740.1 L174.5,738.8 L176.5,737.8 L178.5,736.8 L180.5,735.9 L182.5,735 L184.5,734.2 L186.5,733.5 L188.5,732.8 L190.5,732.1 L192.5,731.6 L194.5,731.1 L196.5,730.8 L198.5,730.6 L200.5,730.6 L202.5,730.7 L204.5,731 L206.5,731.3 L208.5,731.7 L210.5,732.1 L212.5,732.5 L214.5,732.9 L216.5,733.4 L218.5,733.8 L220.5,734.3 L222.5,734.7 L224.5,735.2 L226.5,735.7 L228.5,736.3 L230.5,736.9 L232.5,737.5 L234.5,738.5 L236.5,739.7 L238.5,741 L240.5,741.9 L242.5,742.6 L244.5,743.3 L246.5,743.9 L248.5,744.4 L250.5,745 L252.5,745.5 L254.5,746 L256.5,746.5 L258.5,747 L260.5,747.5 L262.5,748 L264.5,748.5 L266.5,748.9 L268.5,749.4 L270.5,749.8 L272.5,750.3 L274.5,750.7 L276.5,751.1 L278.5,751.5 L280.5,751.9 L282.5,752.3 L284.5,752.7 L286.5,753.1 L288.5,753.4 L290.5,753.8 L292.5,754.1 L294.5,754.4 L296.5,754.7 L298.5,755 L300.5,755.2 L302.5,755.5 L304.5,755.7 L306.5,755.8 L308.5,756 L310.5,756 L312.5,756.1 L314.5,756.1 L316.5,756.2 L318.5,756.3 L320.5,756.4 L322.5,756.5 L324.5,756.8 L326.5,757.1 L328.5,757.5 L330.5,758 L332.5,758.5 L334.5,759 L336.5,759.6 L338.5,760.2 L340.5,760.7 L342.5,761.3 L344.5,761.8 L346.5,762.4 L348.5,763 L350.5,763.6 L352.5,764.2 L354.5,764.9 L356.5,765.6 L358.5,766.3 L360.5,767.1 L362.5,767.9 L364.5,768.6 L366.5,769.2 L368.5,769.7 L370.5,770.1 L372.5,770.5 L374.5,770.8 L376.5,771 L378.5,771.3 L380.5,771.5 L382.5,771.7 L384.5,771.9 L386.5,772.2 L388.5,772.3 L390.5,772.4 L392.5,772.4 L394.5,772.4 L396.5,772.3 L398.5,772.2 L400.5,772.1 L402.5,772 L404.5,771.8 L406.5,771.6 L408.5,771.5 L410.5,771.3 L412.5,771.2 L414.5,771 L416.5,770.9 L418.5,770.7 L420.5,770.6 L422.5,770.5 L424.5,770.4 L426.5,770.3 L428.5,770.2 L430.5,770.1 L432.5,770 L434.5,769.9 L436.5,769.8 L438.5,769.8 L440.5,769.7 L442.5,769.6 L444.5,769.6 L446.5,769.5 L448.5,769.5 L450.5,769.5 L452.5,769.5 L454.5,769.6 L456.5,769.6 L458.5,769.7 L460.5,769.9 L462.5,770 L464.5,770.2 L466.5,770.4 L468.5,770.7 L470.5,771 L472.5,771.6 L473,773" fill="none" stroke="#222" stroke-width="2.3" stroke-linejoin="round"/>
<path d="M111.7,773 L113.7,772.7 L115.7,772.5 L117.7,772.2 L119.7,771.9 L121.7,771.7 L123.7,771.4 L125.7,771.1 L127.7,770.8 L129.7,770.4 L131.7,770.1 L133.7,769.6 L135.7,769.1 L137.7,768.5 L139.7,767.9 L141.7,767.1 L143.7,766.2 L145.7,765.1 L147.7,763.8 L149.7,762.3 L151.7,760.6 L153.7,758.7 L155.7,756.6 L157.7,754.4 L159.7,752 L161.7,749.3 L163.7,746.3 L165.7,743.2 L167.7,739.9 L169.7,736.6 L171.7,733.3 L173.7,730.3 L175.7,727.8 L177.7,725.7 L179.7,723.9 L181.7,722.2 L183.7,720.6 L185.7,719.1 L187.7,717.7 L189.7,716.4 L191.7,715.2 L193.7,714.3 L195.7,713.5 L197.7,713.1 L199.7,713 L201.7,713.2 L203.7,713.7 L205.7,714.5 L207.7,715.5 L209.7,716.7 L211.7,718 L213.7,719.4 L215.7,720.9 L217.7,722.5 L219.7,724.3 L221.7,726.3 L223.7,728.5 L225.7,730.9 L227.7,733.2 L229.7,735.5 L231.7,737.6 L233.7,739.4 L235.7,741 L237.7,742.3 L239.7,743.5 L241.7,744.6 L243.7,745.6 L245.7,746.5 L247.7,747.4 L249.7,748.3 L251.7,749.1 L253.7,749.9 L255.7,750.6 L257.7,751.3 L259.7,752 L261.7,752.7 L263.7,753.3 L265.7,753.9 L267.7,754.4 L269.7,754.9 L271.7,755.5 L273.7,756 L275.7,756.5 L277.7,757 L279.7,757.5 L281.7,757.9 L283.7,758.4 L285.7,758.9 L287.7,759.4 L289.7,759.9 L291.7,760.5 L293.7,761 L295.7,761.6 L297.7,762.1 L299.7,762.6 L301.7,763 L303.7,763.4 L305.7,763.7 L307.7,764 L309.7,764.3 L311.7,764.5 L313.7,764.7 L315.7,764.9 L317.7,765 L319.7,765.2 L321.7,765.4 L323.7,765.5 L325.7,765.7 L327.7,765.9 L329.7,766.1 L331.7,766.3 L333.7,766.5 L335.7,766.7 L337.7,766.9 L339.7,767.1 L341.7,767.3 L343.7,767.5 L345.7,767.7 L347.7,767.9 L349.7,768 L351.7,768.2 L353.7,768.4 L355.7,768.6 L357.7,768.8 L359.7,769 L361.7,769.3 L363.7,769.5 L365.7,769.8 L367.7,770.1 L369.7,770.4 L371.7,770.7 L373.7,771 L375.7,771.3 L377.7,771.6 L379.7,771.9 L381.7,772.2 L383.7,772.4 L385.7,772.6 L387.7,772.8 L389.7,772.9 L391.7,772.9 L393.7,773 L394.1,773 L394.1,773 L111.7,773 Z" fill="rgba(89,89,89,0.7)"/>
<path d="M111.7,773 L113.7,772.7 L115.7,772.5 L117.7,772.2 L119.7,771.9 L121.7,771.7 L123.7,771.4 L125.7,771.1 L127.7,770.8 L129.7,770.4 L131.7,770.1 L133.7,769.6 L135.7,769.1 L137.7,768.5 L139.7,767.9 L141.7,767.1 L143.7,766.2 L145.7,765.1 L147.7,763.8 L149.7,762.3 L151.7,760.6 L153.7,758.7 L155.7,756.6 L157.7,754.4 L159.7,752 L161.7,749.3 L163.7,746.3 L165.7,743.2 L167.7,739.9 L169.7,736.6 L171.7,733.3 L173.7,730.3 L175.7,727.8 L177.7,725.7 L179.7,723.9 L181.7,722.2 L183.7,720.6 L185.7,719.1 L187.7,717.7 L189.7,716.4 L191.7,715.2 L193.7,714.3 L195.7,713.5 L197.7,713.1 L199.7,713 L201.7,713.2 L203.7,713.7 L205.7,714.5 L207.7,715.5 L209.7,716.7 L211.7,718 L213.7,719.4 L215.7,720.9 L217.7,722.5 L219.7,724.3 L221.7,726.3 L223.7,728.5 L225.7,730.9 L227.7,733.2 L229.7,735.5 L231.7,737.6 L233.7,739.4 L235.7,741 L237.7,742.3 L239.7,743.5 L241.7,744.6 L243.7,745.6 L245.7,746.5 L247.7,747.4 L249.7,748.3 L251.7,749.1 L253.7,749.9 L255.7,750.6 L257.7,751.3 L259.7,752 L261.7,752.7 L263.7,753.3 L265.7,753.9 L267.7,754.4 L269.7,754.9 L271.7,755.5 L273.7,756 L275.7,756.5 L277.7,757 L279.7,757.5 L281.7,757.9 L283.7,758.4 L285.7,758.9 L287.7,759.4 L289.7,759.9 L291.7,760.5 L293.7,761 L295.7,761.6 L297.7,762.1 L299.7,762.6 L301.7,763 L303.7,763.4 L305.7,763.7 L307.7,764 L309.7,764.3 L311.7,764.5 L313.7,764.7 L315.7,764.9 L317.7,765 L319.7,765.2 L321.7,765.4 L323.7,765.5 L325.7,765.7 L327.7,765.9 L329.7,766.1 L331.7,766.3 L333.7,766.5 L335.7,766.7 L337.7,766.9 L339.7,767.1 L341.7,767.3 L343.7,767.5 L345.7,767.7 L347.7,767.9 L349.7,768 L351.7,768.2 L353.7,768.4 L355.7,768.6 L357.7,768.8 L359.7,769 L361.7,769.3 L363.7,769.5 L365.7,769.8 L367.7,770.1 L369.7,770.4 L371.7,770.7 L373.7,771 L375.7,771.3 L377.7,771.6 L379.7,771.9 L381.7,772.2 L383.7,772.4 L385.7,772.6 L387.7,772.8 L389.7,772.9 L391.7,772.9 L393.7,773 L394.1,773" fill="none" stroke="#000" stroke-width="3" stroke-linejoin="round" stroke-linecap="round"/>
<g fill="rgba(0,0,0,0.36)"><ellipse cx="242.6" cy="756.6" rx="4.1" ry="3.2"/><ellipse cx="191.9" cy="752.8" rx="4.1" ry="3.2"/><ellipse cx="218.8" cy="752.4" rx="4.1" ry="3.2"/><ellipse cx="164.2" cy="770.6" rx="4.1" ry="3.2"/><ellipse cx="183.6" cy="732.4" rx="4.1" ry="3.2"/><ellipse cx="202" cy="749.3" rx="4.1" ry="3.2"/><ellipse cx="189.4" cy="746.8" rx="4.1" ry="3.2"/><ellipse cx="212.8" cy="727.3" rx="4.1" ry="3.2"/><ellipse cx="198.4" cy="727.8" rx="4.1" ry="3.2"/><ellipse cx="242.9" cy="767.7" rx="4.1" ry="3.2"/><ellipse cx="220.4" cy="753.4" rx="4.1" ry="3.2"/><ellipse cx="149.9" cy="768.7" rx="4.1" ry="3.2"/><ellipse cx="250.5" cy="757.2" rx="4.1" ry="3.2"/><ellipse cx="222" cy="742.2" rx="4.1" ry="3.2"/><ellipse cx="177.5" cy="746" rx="4.1" ry="3.2"/><ellipse cx="212.5" cy="741.4" rx="4.1" ry="3.2"/><ellipse cx="190.7" cy="738.4" rx="4.1" ry="3.2"/><ellipse cx="292.7" cy="766.3" rx="4.1" ry="3.2"/><ellipse cx="229.3" cy="756.1" rx="4.1" ry="3.2"/><ellipse cx="222.3" cy="753.7" rx="4.1" ry="3.2"/><ellipse cx="311.6" cy="772" rx="4.1" ry="3.2"/><ellipse cx="175.6" cy="760.7" rx="4.1" ry="3.2"/><ellipse cx="164.9" cy="764.6" rx="4.1" ry="3.2"/><ellipse cx="166.4" cy="771.7" rx="4.1" ry="3.2"/><ellipse cx="215.9" cy="736" rx="4.1" ry="3.2"/><ellipse cx="217.6" cy="754.2" rx="4.1" ry="3.2"/><ellipse cx="199.3" cy="771.4" rx="4.1" ry="3.2"/><ellipse cx="244.6" cy="768.6" rx="4.1" ry="3.2"/><ellipse cx="169.6" cy="761.4" rx="4.1" ry="3.2"/><ellipse cx="181.2" cy="765.7" rx="4.1" ry="3.2"/><ellipse cx="145.2" cy="770.6" rx="4.1" ry="3.2"/><ellipse cx="172.3" cy="767.8" rx="4.1" ry="3.2"/><ellipse cx="199.9" cy="733.6" rx="4.1" ry="3.2"/><ellipse cx="165.7" cy="764.7" rx="4.1" ry="3.2"/><ellipse cx="238.4" cy="750" rx="4.1" ry="3.2"/><ellipse cx="210.7" cy="771.8" rx="4.1" ry="3.2"/><ellipse cx="211.4" cy="743.7" rx="4.1" ry="3.2"/><ellipse cx="223.7" cy="753.3" rx="4.1" ry="3.2"/><ellipse cx="267.1" cy="770.4" rx="4.1" ry="3.2"/><ellipse cx="192.6" cy="755.6" rx="4.1" ry="3.2"/><ellipse cx="218.3" cy="754.6" rx="4.1" ry="3.2"/><ellipse cx="233.8" cy="755.9" rx="4.1" ry="3.2"/><ellipse cx="191.3" cy="769.7" rx="4.1" ry="3.2"/><ellipse cx="194.2" cy="755.1" rx="4.1" ry="3.2"/><ellipse cx="182" cy="733.8" rx="4.1" ry="3.2"/><ellipse cx="226.7" cy="765.8" rx="4.1" ry="3.2"/><ellipse cx="258.6" cy="770.4" rx="4.1" ry="3.2"/><ellipse cx="215" cy="756.7" rx="4.1" ry="3.2"/><ellipse cx="207.2" cy="769.5" rx="4.1" ry="3.2"/><ellipse cx="239.1" cy="758.9" rx="4.1" ry="3.2"/><ellipse cx="200.1" cy="751" rx="4.1" ry="3.2"/><ellipse cx="221.8" cy="740.7" rx="4.1" ry="3.2"/><ellipse cx="213.8" cy="743.7" rx="4.1" ry="3.2"/><ellipse cx="308.4" cy="769.5" rx="4.1" ry="3.2"/><ellipse cx="317.1" cy="770.9" rx="4.1" ry="3.2"/><ellipse cx="196.4" cy="725.6" rx="4.1" ry="3.2"/><ellipse cx="264.2" cy="759.5" rx="4.1" ry="3.2"/><ellipse cx="250" cy="767.8" rx="4.1" ry="3.2"/><ellipse cx="182.5" cy="730.1" rx="4.1" ry="3.2"/><ellipse cx="175.1" cy="755.4" rx="4.1" ry="3.2"/><ellipse cx="301" cy="770" rx="4.1" ry="3.2"/><ellipse cx="335.3" cy="771.8" rx="4.1" ry="3.2"/><ellipse cx="203.3" cy="754.1" rx="4.1" ry="3.2"/><ellipse cx="195.9" cy="733" rx="4.1" ry="3.2"/><ellipse cx="213.3" cy="747.5" rx="4.1" ry="3.2"/><ellipse cx="210.9" cy="745.6" rx="4.1" ry="3.2"/><ellipse cx="176.3" cy="747.2" rx="4.1" ry="3.2"/><ellipse cx="199.7" cy="730.9" rx="4.1" ry="3.2"/><ellipse cx="196.3" cy="750.3" rx="4.1" ry="3.2"/><ellipse cx="199.9" cy="746.2" rx="4.1" ry="3.2"/><ellipse cx="311.5" cy="769.5" rx="4.1" ry="3.2"/><ellipse cx="183.8" cy="762.8" rx="4.1" ry="3.2"/><ellipse cx="222" cy="759.3" rx="4.1" ry="3.2"/><ellipse cx="200.4" cy="760.8" rx="4.1" ry="3.2"/><ellipse cx="283.1" cy="769.9" rx="4.1" ry="3.2"/><ellipse cx="282.2" cy="771.4" rx="4.1" ry="3.2"/><ellipse cx="226.1" cy="771.4" rx="4.1" ry="3.2"/><ellipse cx="215.8" cy="746.3" rx="4.1" ry="3.2"/></g>
<path d="M111.7,847.1 L113.7,846.8 L115.7,846.4 L117.7,846.1 L119.7,845.8 L121.7,845.5 L123.7,845.1 L125.7,844.7 L127.7,844.3 L129.7,843.8 L131.7,843.1 L133.7,842.4 L135.7,841.5 L137.7,840.5 L139.7,839.3 L141.7,838.1 L143.7,836.7 L145.7,835.3 L147.7,833.8 L149.7,832.2 L151.7,830.5 L153.7,828.7 L155.7,826.8 L157.7,824.7 L159.7,822.4 L161.7,820 L163.7,817.6 L165.7,815.2 L167.7,812.9 L169.7,810.9 L171.7,809 L173.7,807.2 L175.7,805.6 L177.7,804.2 L179.7,802.9 L181.7,801.9 L183.7,801 L185.7,800.2 L187.7,799.6 L189.7,799.1 L191.7,798.7 L193.7,798.3 L195.7,797.9 L197.7,797.6 L199.7,797.4 L201.7,797.1 L203.7,797 L205.7,796.9 L207.7,796.8 L209.7,796.9 L211.7,797.1 L213.7,797.4 L215.7,797.8 L217.7,798.2 L219.7,798.6 L221.7,799.1 L223.7,799.6 L225.7,800.2 L227.7,800.9 L229.7,801.6 L231.7,802.5 L233.7,803.5 L235.7,804.7 L237.7,806 L239.7,807.5 L241.7,808.9 L243.7,810.4 L245.7,811.9 L247.7,813.3 L249.7,814.6 L251.7,815.8 L253.7,817 L255.7,818.2 L257.7,819.4 L259.7,820.6 L261.7,821.8 L263.7,823 L265.7,824.3 L267.7,825.6 L269.7,827 L271.7,828.3 L273.7,829.6 L275.7,830.8 L277.7,831.9 L279.7,833 L281.7,833.9 L283.7,834.8 L285.7,835.6 L287.7,836.3 L289.7,836.9 L291.7,837.4 L293.7,837.8 L295.7,838.1 L297.7,838.1 L299.7,838 L301.7,837.9 L303.7,837.6 L305.7,837.3 L307.7,836.9 L309.7,836.5 L311.7,836.2 L313.7,835.8 L315.7,835.5 L317.7,835.2 L319.7,834.9 L321.7,834.7 L323.7,834.7 L325.7,834.7 L327.7,834.9 L329.7,835.2 L331.7,835.5 L333.7,836 L335.7,836.5 L337.7,837 L339.7,837.5 L341.7,838 L343.7,838.4 L345.7,838.8 L347.7,839.1 L349.7,839.5 L351.7,839.8 L353.7,840.2 L355.7,840.5 L357.7,840.8 L359.7,841 L361.7,841.2 L363.7,841.4 L365.7,841.5 L367.7,841.5 L369.7,841.5 L371.7,841.5 L373.7,841.4 L375.7,841.3 L377.7,841.3 L379.7,841.3 L381.7,841.3 L383.7,841.5 L385.7,841.7 L387.7,841.9 L389.7,842.2 L391.7,842.5 L393.7,842.9 L395.7,843.2 L397.7,843.6 L399.7,843.9 L401.7,844.2 L403.7,844.5 L405.7,844.8 L407.7,845.1 L409.7,845.4 L411.7,845.7 L413.7,845.9 L415.7,846.1 L417.7,846.2 L419.7,846.3 L421.7,846.4 L423.7,846.4 L425.7,846.5 L427.7,846.5 L429.7,846.5 L431.7,846.5 L433.7,846.5 L435.7,846.5 L437.7,846.5 L439.7,846.5 L441.7,846.5 L443.7,846.5 L445.7,846.5 L447.7,846.5 L449.7,846.5 L451.7,846.5 L453.7,846.4 L455.7,846.4 L457.7,846.4 L459.7,846.4 L461.7,846.4 L463.7,846.4 L465.7,846.4 L467.7,846.4 L469.7,846.4 L471.7,846.6 L473,847.1 L473,847.1 L111.7,847.1 Z" fill="rgba(123,104,238,0.86)"/>
<path d="M111.7,847.1 L113.7,846.8 L115.7,846.4 L117.7,846.1 L119.7,845.8 L121.7,845.5 L123.7,845.1 L125.7,844.7 L127.7,844.3 L129.7,843.8 L131.7,843.1 L133.7,842.4 L135.7,841.5 L137.7,840.5 L139.7,839.3 L141.7,838.1 L143.7,836.7 L145.7,835.3 L147.7,833.8 L149.7,832.2 L151.7,830.5 L153.7,828.7 L155.7,826.8 L157.7,824.7 L159.7,822.4 L161.7,820 L163.7,817.6 L165.7,815.2 L167.7,812.9 L169.7,810.9 L171.7,809 L173.7,807.2 L175.7,805.6 L177.7,804.2 L179.7,802.9 L181.7,801.9 L183.7,801 L185.7,800.2 L187.7,799.6 L189.7,799.1 L191.7,798.7 L193.7,798.3 L195.7,797.9 L197.7,797.6 L199.7,797.4 L201.7,797.1 L203.7,797 L205.7,796.9 L207.7,796.8 L209.7,796.9 L211.7,797.1 L213.7,797.4 L215.7,797.8 L217.7,798.2 L219.7,798.6 L221.7,799.1 L223.7,799.6 L225.7,800.2 L227.7,800.9 L229.7,801.6 L231.7,802.5 L233.7,803.5 L235.7,804.7 L237.7,806 L239.7,807.5 L241.7,808.9 L243.7,810.4 L245.7,811.9 L247.7,813.3 L249.7,814.6 L251.7,815.8 L253.7,817 L255.7,818.2 L257.7,819.4 L259.7,820.6 L261.7,821.8 L263.7,823 L265.7,824.3 L267.7,825.6 L269.7,827 L271.7,828.3 L273.7,829.6 L275.7,830.8 L277.7,831.9 L279.7,833 L281.7,833.9 L283.7,834.8 L285.7,835.6 L287.7,836.3 L289.7,836.9 L291.7,837.4 L293.7,837.8 L295.7,838.1 L297.7,838.1 L299.7,838 L301.7,837.9 L303.7,837.6 L305.7,837.3 L307.7,836.9 L309.7,836.5 L311.7,836.2 L313.7,835.8 L315.7,835.5 L317.7,835.2 L319.7,834.9 L321.7,834.7 L323.7,834.7 L325.7,834.7 L327.7,834.9 L329.7,835.2 L331.7,835.5 L333.7,836 L335.7,836.5 L337.7,837 L339.7,837.5 L341.7,838 L343.7,838.4 L345.7,838.8 L347.7,839.1 L349.7,839.5 L351.7,839.8 L353.7,840.2 L355.7,840.5 L357.7,840.8 L359.7,841 L361.7,841.2 L363.7,841.4 L365.7,841.5 L367.7,841.5 L369.7,841.5 L371.7,841.5 L373.7,841.4 L375.7,841.3 L377.7,841.3 L379.7,841.3 L381.7,841.3 L383.7,841.5 L385.7,841.7 L387.7,841.9 L389.7,842.2 L391.7,842.5 L393.7,842.9 L395.7,843.2 L397.7,843.6 L399.7,843.9 L401.7,844.2 L403.7,844.5 L405.7,844.8 L407.7,845.1 L409.7,845.4 L411.7,845.7 L413.7,845.9 L415.7,846.1 L417.7,846.2 L419.7,846.3 L421.7,846.4 L423.7,846.4 L425.7,846.5 L427.7,846.5 L429.7,846.5 L431.7,846.5 L433.7,846.5 L435.7,846.5 L437.7,846.5 L439.7,846.5 L441.7,846.5 L443.7,846.5 L445.7,846.5 L447.7,846.5 L449.7,846.5 L451.7,846.5 L453.7,846.4 L455.7,846.4 L457.7,846.4 L459.7,846.4 L461.7,846.4 L463.7,846.4 L465.7,846.4 L467.7,846.4 L469.7,846.4 L471.7,846.6 L473,847.1" fill="none" stroke="#222" stroke-width="2.3" stroke-linejoin="round"/>
<path d="M111.7,847.1 L113.7,846.8 L115.7,846.5 L117.7,846.3 L119.7,846 L121.7,845.7 L123.7,845.4 L125.7,845.1 L127.7,844.8 L129.7,844.4 L131.7,843.9 L133.7,843.3 L135.7,842.7 L137.7,841.8 L139.7,840.9 L141.7,839.8 L143.7,838.6 L145.7,837.4 L147.7,836 L149.7,834.6 L151.7,833.2 L153.7,831.6 L155.7,830 L157.7,828.3 L159.7,826.5 L161.7,824.6 L163.7,822.6 L165.7,820.4 L167.7,818 L169.7,815.4 L171.7,812.9 L173.7,810.6 L175.7,808.5 L177.7,806.8 L179.7,805.3 L181.7,804 L183.7,802.7 L185.7,801.5 L187.7,800.5 L189.7,799.5 L191.7,798.7 L193.7,798 L195.7,797.4 L197.7,797 L199.7,796.9 L201.7,797 L203.7,797.3 L205.7,797.9 L207.7,798.6 L209.7,799.5 L211.7,800.4 L213.7,801.3 L215.7,802.5 L217.7,803.8 L219.7,805.2 L221.7,806.7 L223.7,808 L225.7,809.3 L227.7,810.3 L229.7,811.1 L231.7,811.7 L233.7,812.1 L235.7,812.5 L237.7,812.7 L239.7,813 L241.7,813.3 L243.7,813.6 L245.7,814 L247.7,814.6 L249.7,815.3 L251.7,816.2 L253.7,817.3 L255.7,818.5 L257.7,819.8 L259.7,821.1 L261.7,822.3 L263.7,823.6 L265.7,824.9 L267.7,826.2 L269.7,827.5 L271.7,828.7 L273.7,830 L275.7,831.2 L277.7,832.3 L279.7,833.3 L281.7,834.3 L283.7,835.2 L285.7,835.9 L287.7,836.6 L289.7,837.2 L291.7,837.7 L293.7,838.1 L295.7,838.4 L297.7,838.4 L299.7,838.3 L301.7,838.1 L303.7,837.9 L305.7,837.5 L307.7,837.1 L309.7,836.7 L311.7,836.2 L313.7,835.8 L315.7,835.4 L317.7,835.1 L319.7,834.8 L321.7,834.6 L323.7,834.5 L325.7,834.5 L327.7,834.6 L329.7,834.9 L331.7,835.3 L333.7,835.8 L335.7,836.3 L337.7,836.8 L339.7,837.3 L341.7,837.8 L343.7,838.2 L345.7,838.6 L347.7,838.9 L349.7,839.3 L351.7,839.6 L353.7,840 L355.7,840.3 L357.7,840.6 L359.7,840.8 L361.7,841 L363.7,841.2 L365.7,841.3 L367.7,841.3 L369.7,841.3 L371.7,841.3 L373.7,841.2 L375.7,841.1 L377.7,841.1 L379.7,841.1 L381.7,841.1 L383.7,841.3 L385.7,841.5 L387.7,841.7 L389.7,842 L391.7,842.3 L393.7,842.7 L395.7,843 L397.7,843.4 L399.7,843.7 L401.7,844 L403.7,844.3 L405.7,844.6 L407.7,844.9 L409.7,845.2 L411.7,845.5 L413.7,845.7 L415.7,845.9 L417.7,846 L419.7,846.1 L421.7,846.2 L423.7,846.2 L425.7,846.3 L427.7,846.3 L429.7,846.3 L431.7,846.3 L433.7,846.3 L435.7,846.3 L437.7,846.3 L439.7,846.3 L441.7,846.3 L443.7,846.3 L445.7,846.3 L447.7,846.3 L449.7,846.3 L451.7,846.2 L453.7,846.2 L455.7,846.2 L457.7,846.2 L459.7,846.2 L461.7,846.2 L463.7,846.2 L465.7,846.2 L467.7,846.2 L469.7,846.2 L471.7,846.4 L473,847.1 L473,847.1 L111.7,847.1 Z" fill="rgba(89,89,89,0.7)"/>
<path d="M111.7,847.1 L113.7,846.8 L115.7,846.5 L117.7,846.3 L119.7,846 L121.7,845.7 L123.7,845.4 L125.7,845.1 L127.7,844.8 L129.7,844.4 L131.7,843.9 L133.7,843.3 L135.7,842.7 L137.7,841.8 L139.7,840.9 L141.7,839.8 L143.7,838.6 L145.7,837.4 L147.7,836 L149.7,834.6 L151.7,833.2 L153.7,831.6 L155.7,830 L157.7,828.3 L159.7,826.5 L161.7,824.6 L163.7,822.6 L165.7,820.4 L167.7,818 L169.7,815.4 L171.7,812.9 L173.7,810.6 L175.7,808.5 L177.7,806.8 L179.7,805.3 L181.7,804 L183.7,802.7 L185.7,801.5 L187.7,800.5 L189.7,799.5 L191.7,798.7 L193.7,798 L195.7,797.4 L197.7,797 L199.7,796.9 L201.7,797 L203.7,797.3 L205.7,797.9 L207.7,798.6 L209.7,799.5 L211.7,800.4 L213.7,801.3 L215.7,802.5 L217.7,803.8 L219.7,805.2 L221.7,806.7 L223.7,808 L225.7,809.3 L227.7,810.3 L229.7,811.1 L231.7,811.7 L233.7,812.1 L235.7,812.5 L237.7,812.7 L239.7,813 L241.7,813.3 L243.7,813.6 L245.7,814 L247.7,814.6 L249.7,815.3 L251.7,816.2 L253.7,817.3 L255.7,818.5 L257.7,819.8 L259.7,821.1 L261.7,822.3 L263.7,823.6 L265.7,824.9 L267.7,826.2 L269.7,827.5 L271.7,828.7 L273.7,830 L275.7,831.2 L277.7,832.3 L279.7,833.3 L281.7,834.3 L283.7,835.2 L285.7,835.9 L287.7,836.6 L289.7,837.2 L291.7,837.7 L293.7,838.1 L295.7,838.4 L297.7,838.4 L299.7,838.3 L301.7,838.1 L303.7,837.9 L305.7,837.5 L307.7,837.1 L309.7,836.7 L311.7,836.2 L313.7,835.8 L315.7,835.4 L317.7,835.1 L319.7,834.8 L321.7,834.6 L323.7,834.5 L325.7,834.5 L327.7,834.6 L329.7,834.9 L331.7,835.3 L333.7,835.8 L335.7,836.3 L337.7,836.8 L339.7,837.3 L341.7,837.8 L343.7,838.2 L345.7,838.6 L347.7,838.9 L349.7,839.3 L351.7,839.6 L353.7,840 L355.7,840.3 L357.7,840.6 L359.7,840.8 L361.7,841 L363.7,841.2 L365.7,841.3 L367.7,841.3 L369.7,841.3 L371.7,841.3 L373.7,841.2 L375.7,841.1 L377.7,841.1 L379.7,841.1 L381.7,841.1 L383.7,841.3 L385.7,841.5 L387.7,841.7 L389.7,842 L391.7,842.3 L393.7,842.7 L395.7,843 L397.7,843.4 L399.7,843.7 L401.7,844 L403.7,844.3 L405.7,844.6 L407.7,844.9 L409.7,845.2 L411.7,845.5 L413.7,845.7 L415.7,845.9 L417.7,846 L419.7,846.1 L421.7,846.2 L423.7,846.2 L425.7,846.3 L427.7,846.3 L429.7,846.3 L431.7,846.3 L433.7,846.3 L435.7,846.3 L437.7,846.3 L439.7,846.3 L441.7,846.3 L443.7,846.3 L445.7,846.3 L447.7,846.3 L449.7,846.3 L451.7,846.2 L453.7,846.2 L455.7,846.2 L457.7,846.2 L459.7,846.2 L461.7,846.2 L463.7,846.2 L465.7,846.2 L467.7,846.2 L469.7,846.2 L471.7,846.4 L473,847.1" fill="none" stroke="#000" stroke-width="3" stroke-linejoin="round" stroke-linecap="round"/>
<g fill="rgba(0,0,0,0.36)"><ellipse cx="159" cy="842.3" rx="4.1" ry="3.2"/><ellipse cx="143.5" cy="845.6" rx="4.1" ry="3.2"/><ellipse cx="157.4" cy="837.1" rx="4.1" ry="3.2"/><ellipse cx="258" cy="842.7" rx="4.1" ry="3.2"/><ellipse cx="277.1" cy="840.9" rx="4.1" ry="3.2"/><ellipse cx="175.2" cy="820.9" rx="4.1" ry="3.2"/><ellipse cx="235.1" cy="827.2" rx="4.1" ry="3.2"/><ellipse cx="249.2" cy="842" rx="4.1" ry="3.2"/><ellipse cx="239.1" cy="831.4" rx="4.1" ry="3.2"/><ellipse cx="206.8" cy="828.4" rx="4.1" ry="3.2"/><ellipse cx="205.4" cy="838.7" rx="4.1" ry="3.2"/><ellipse cx="282" cy="844.4" rx="4.1" ry="3.2"/><ellipse cx="153.8" cy="844.6" rx="4.1" ry="3.2"/><ellipse cx="230.7" cy="844.6" rx="4.1" ry="3.2"/><ellipse cx="192.5" cy="826.7" rx="4.1" ry="3.2"/><ellipse cx="323" cy="844.6" rx="4.1" ry="3.2"/><ellipse cx="207.9" cy="805.5" rx="4.1" ry="3.2"/><ellipse cx="217.4" cy="813.6" rx="4.1" ry="3.2"/><ellipse cx="214.7" cy="826.9" rx="4.1" ry="3.2"/><ellipse cx="197.5" cy="818.4" rx="4.1" ry="3.2"/><ellipse cx="235.9" cy="844.7" rx="4.1" ry="3.2"/><ellipse cx="338.7" cy="845.7" rx="4.1" ry="3.2"/><ellipse cx="142.3" cy="845.1" rx="4.1" ry="3.2"/><ellipse cx="293.4" cy="844.5" rx="4.1" ry="3.2"/><ellipse cx="181.2" cy="822.8" rx="4.1" ry="3.2"/><ellipse cx="286" cy="844.5" rx="4.1" ry="3.2"/><ellipse cx="258.8" cy="827.3" rx="4.1" ry="3.2"/><ellipse cx="164.7" cy="833.2" rx="4.1" ry="3.2"/><ellipse cx="388.9" cy="846.1" rx="4.1" ry="3.2"/><ellipse cx="255.6" cy="831.6" rx="4.1" ry="3.2"/><ellipse cx="207.1" cy="826.4" rx="4.1" ry="3.2"/><ellipse cx="231.5" cy="829.9" rx="4.1" ry="3.2"/><ellipse cx="197.8" cy="809.9" rx="4.1" ry="3.2"/><ellipse cx="169.7" cy="833" rx="4.1" ry="3.2"/><ellipse cx="199.1" cy="813.8" rx="4.1" ry="3.2"/><ellipse cx="197.1" cy="816.6" rx="4.1" ry="3.2"/><ellipse cx="201.2" cy="820.9" rx="4.1" ry="3.2"/><ellipse cx="215.4" cy="836.1" rx="4.1" ry="3.2"/><ellipse cx="246.5" cy="843.8" rx="4.1" ry="3.2"/><ellipse cx="167.5" cy="843.3" rx="4.1" ry="3.2"/><ellipse cx="243.8" cy="826.3" rx="4.1" ry="3.2"/><ellipse cx="235.5" cy="826" rx="4.1" ry="3.2"/><ellipse cx="180.6" cy="829.2" rx="4.1" ry="3.2"/><ellipse cx="287.6" cy="842.9" rx="4.1" ry="3.2"/><ellipse cx="253.2" cy="826.3" rx="4.1" ry="3.2"/><ellipse cx="177.4" cy="819.3" rx="4.1" ry="3.2"/><ellipse cx="180.5" cy="821.2" rx="4.1" ry="3.2"/><ellipse cx="225.4" cy="842.3" rx="4.1" ry="3.2"/><ellipse cx="197.5" cy="839.6" rx="4.1" ry="3.2"/><ellipse cx="215.9" cy="835.5" rx="4.1" ry="3.2"/><ellipse cx="198.1" cy="809.1" rx="4.1" ry="3.2"/><ellipse cx="235.4" cy="831.5" rx="4.1" ry="3.2"/><ellipse cx="246" cy="832.6" rx="4.1" ry="3.2"/><ellipse cx="209.4" cy="831" rx="4.1" ry="3.2"/><ellipse cx="273.8" cy="840.5" rx="4.1" ry="3.2"/><ellipse cx="267.3" cy="843" rx="4.1" ry="3.2"/><ellipse cx="197.9" cy="837.2" rx="4.1" ry="3.2"/><ellipse cx="204.6" cy="825.1" rx="4.1" ry="3.2"/><ellipse cx="233.8" cy="823.1" rx="4.1" ry="3.2"/><ellipse cx="201.1" cy="803.9" rx="4.1" ry="3.2"/><ellipse cx="334.4" cy="844.5" rx="4.1" ry="3.2"/><ellipse cx="181.7" cy="837.3" rx="4.1" ry="3.2"/><ellipse cx="237.5" cy="822.1" rx="4.1" ry="3.2"/><ellipse cx="225" cy="819.6" rx="4.1" ry="3.2"/><ellipse cx="212.8" cy="825.5" rx="4.1" ry="3.2"/><ellipse cx="186.1" cy="816.9" rx="4.1" ry="3.2"/><ellipse cx="228.9" cy="817.4" rx="4.1" ry="3.2"/><ellipse cx="238.1" cy="844.6" rx="4.1" ry="3.2"/><ellipse cx="255.3" cy="834.3" rx="4.1" ry="3.2"/><ellipse cx="203.4" cy="846" rx="4.1" ry="3.2"/><ellipse cx="138.4" cy="846" rx="4.1" ry="3.2"/><ellipse cx="162.3" cy="838.7" rx="4.1" ry="3.2"/><ellipse cx="324.9" cy="844.2" rx="4.1" ry="3.2"/><ellipse cx="162.6" cy="836.9" rx="4.1" ry="3.2"/><ellipse cx="275.9" cy="845.6" rx="4.1" ry="3.2"/><ellipse cx="193.3" cy="825.4" rx="4.1" ry="3.2"/><ellipse cx="256.5" cy="843.6" rx="4.1" ry="3.2"/><ellipse cx="205.5" cy="833.8" rx="4.1" ry="3.2"/></g>
<path d="M110.7,920.9 L112.7,920.5 L114.7,920.2 L116.7,919.8 L118.7,919.5 L120.7,919.1 L122.7,918.7 L124.7,918.3 L126.7,917.8 L128.7,917.3 L130.7,916.8 L132.7,916.1 L134.7,915.3 L136.7,914.4 L138.7,913.4 L140.7,912.3 L142.7,911 L144.7,909.7 L146.7,908.3 L148.7,906.8 L150.7,905.2 L152.7,903.6 L154.7,901.8 L156.7,899.9 L158.7,897.8 L160.7,895.6 L162.7,893.4 L164.7,891 L166.7,888.7 L168.7,886.5 L170.7,884.4 L172.7,882.4 L174.7,880.6 L176.7,878.8 L178.7,877.1 L180.7,875.6 L182.7,874.3 L184.7,873.3 L186.7,872.5 L188.7,871.9 L190.7,871.6 L192.7,871.3 L194.7,871.3 L196.7,871.3 L198.7,871.4 L200.7,871.6 L202.7,871.8 L204.7,872.1 L206.7,872.5 L208.7,872.8 L210.7,873.2 L212.7,873.7 L214.7,874.2 L216.7,874.7 L218.7,875.4 L220.7,876.1 L222.7,876.9 L224.7,877.7 L226.7,878.6 L228.7,879.6 L230.7,880.6 L232.7,881.6 L234.7,882.7 L236.7,883.9 L238.7,885.1 L240.7,886.5 L242.7,887.8 L244.7,889.1 L246.7,890.4 L248.7,891.5 L250.7,892.5 L252.7,893.4 L254.7,894.1 L256.7,894.7 L258.7,895.1 L260.7,895.5 L262.7,895.8 L264.7,896.1 L266.7,896.4 L268.7,896.7 L270.7,897.1 L272.7,897.5 L274.7,897.9 L276.7,898.4 L278.7,898.9 L280.7,899.4 L282.7,899.9 L284.7,900.5 L286.7,901.1 L288.7,901.8 L290.7,902.5 L292.7,903.2 L294.7,904 L296.7,904.9 L298.7,905.7 L300.7,906.5 L302.7,907.3 L304.7,908.1 L306.7,908.9 L308.7,909.6 L310.7,910.4 L312.7,911.2 L314.7,911.9 L316.7,912.6 L318.7,913.3 L320.7,914 L322.7,914.6 L324.7,915.1 L326.7,915.6 L328.7,916 L330.7,916.4 L332.7,916.7 L334.7,917 L336.7,917.3 L338.7,917.5 L340.7,917.7 L342.7,917.8 L344.7,917.9 L346.7,917.9 L348.7,917.9 L350.7,917.8 L352.7,917.6 L354.7,917.4 L356.7,917.3 L358.7,917.1 L360.7,917 L362.7,916.9 L364.7,916.9 L366.7,917 L368.7,917 L370.7,917.1 L372.7,917.2 L374.7,917.4 L376.7,917.5 L378.7,917.6 L380.7,917.8 L382.7,917.9 L384.7,918 L386.7,918.1 L388.7,918.2 L390.7,918.3 L392.7,918.4 L394.7,918.6 L396.7,918.7 L398.7,918.8 L400.7,918.9 L402.7,919 L404.7,919.1 L406.7,919.2 L408.7,919.3 L410.7,919.4 L412.7,919.5 L414.7,919.6 L416.7,919.7 L418.7,919.8 L420.7,919.8 L422.7,919.9 L424.7,920 L426.7,920 L428.7,920 L430.7,920.1 L432.7,920.1 L434.7,920.1 L436.7,920.2 L438.7,920.2 L440.7,920.2 L442.7,920.2 L444.7,920.3 L446.7,920.3 L448.7,920.3 L450.7,920.3 L452.7,920.3 L454.7,920.3 L456.7,920.4 L458.7,920.4 L460.7,920.4 L462.7,920.4 L464.7,920.4 L466.7,920.4 L468.7,920.5 L470.7,920.6 L472.7,920.7 L473,920.9 L473,920.9 L110.7,920.9 Z" fill="rgba(123,104,238,0.86)"/>
<path d="M110.7,920.9 L112.7,920.5 L114.7,920.2 L116.7,919.8 L118.7,919.5 L120.7,919.1 L122.7,918.7 L124.7,918.3 L126.7,917.8 L128.7,917.3 L130.7,916.8 L132.7,916.1 L134.7,915.3 L136.7,914.4 L138.7,913.4 L140.7,912.3 L142.7,911 L144.7,909.7 L146.7,908.3 L148.7,906.8 L150.7,905.2 L152.7,903.6 L154.7,901.8 L156.7,899.9 L158.7,897.8 L160.7,895.6 L162.7,893.4 L164.7,891 L166.7,888.7 L168.7,886.5 L170.7,884.4 L172.7,882.4 L174.7,880.6 L176.7,878.8 L178.7,877.1 L180.7,875.6 L182.7,874.3 L184.7,873.3 L186.7,872.5 L188.7,871.9 L190.7,871.6 L192.7,871.3 L194.7,871.3 L196.7,871.3 L198.7,871.4 L200.7,871.6 L202.7,871.8 L204.7,872.1 L206.7,872.5 L208.7,872.8 L210.7,873.2 L212.7,873.7 L214.7,874.2 L216.7,874.7 L218.7,875.4 L220.7,876.1 L222.7,876.9 L224.7,877.7 L226.7,878.6 L228.7,879.6 L230.7,880.6 L232.7,881.6 L234.7,882.7 L236.7,883.9 L238.7,885.1 L240.7,886.5 L242.7,887.8 L244.7,889.1 L246.7,890.4 L248.7,891.5 L250.7,892.5 L252.7,893.4 L254.7,894.1 L256.7,894.7 L258.7,895.1 L260.7,895.5 L262.7,895.8 L264.7,896.1 L266.7,896.4 L268.7,896.7 L270.7,897.1 L272.7,897.5 L274.7,897.9 L276.7,898.4 L278.7,898.9 L280.7,899.4 L282.7,899.9 L284.7,900.5 L286.7,901.1 L288.7,901.8 L290.7,902.5 L292.7,903.2 L294.7,904 L296.7,904.9 L298.7,905.7 L300.7,906.5 L302.7,907.3 L304.7,908.1 L306.7,908.9 L308.7,909.6 L310.7,910.4 L312.7,911.2 L314.7,911.9 L316.7,912.6 L318.7,913.3 L320.7,914 L322.7,914.6 L324.7,915.1 L326.7,915.6 L328.7,916 L330.7,916.4 L332.7,916.7 L334.7,917 L336.7,917.3 L338.7,917.5 L340.7,917.7 L342.7,917.8 L344.7,917.9 L346.7,917.9 L348.7,917.9 L350.7,917.8 L352.7,917.6 L354.7,917.4 L356.7,917.3 L358.7,917.1 L360.7,917 L362.7,916.9 L364.7,916.9 L366.7,917 L368.7,917 L370.7,917.1 L372.7,917.2 L374.7,917.4 L376.7,917.5 L378.7,917.6 L380.7,917.8 L382.7,917.9 L384.7,918 L386.7,918.1 L388.7,918.2 L390.7,918.3 L392.7,918.4 L394.7,918.6 L396.7,918.7 L398.7,918.8 L400.7,918.9 L402.7,919 L404.7,919.1 L406.7,919.2 L408.7,919.3 L410.7,919.4 L412.7,919.5 L414.7,919.6 L416.7,919.7 L418.7,919.8 L420.7,919.8 L422.7,919.9 L424.7,920 L426.7,920 L428.7,920 L430.7,920.1 L432.7,920.1 L434.7,920.1 L436.7,920.2 L438.7,920.2 L440.7,920.2 L442.7,920.2 L444.7,920.3 L446.7,920.3 L448.7,920.3 L450.7,920.3 L452.7,920.3 L454.7,920.3 L456.7,920.4 L458.7,920.4 L460.7,920.4 L462.7,920.4 L464.7,920.4 L466.7,920.4 L468.7,920.5 L470.7,920.6 L472.7,920.7 L473,920.9" fill="none" stroke="#222" stroke-width="2.3" stroke-linejoin="round"/>
<path d="M110.7,920.9 L112.7,920.5 L114.7,920.2 L116.7,919.9 L118.7,919.6 L120.7,919.3 L122.7,918.9 L124.7,918.5 L126.7,918.1 L128.7,917.6 L130.7,917.1 L132.7,916.4 L134.7,915.7 L136.7,914.8 L138.7,913.8 L140.7,912.7 L142.7,911.6 L144.7,910.3 L146.7,908.9 L148.7,907.4 L150.7,905.9 L152.7,904.3 L154.7,902.5 L156.7,900.6 L158.7,898.6 L160.7,896.4 L162.7,894.1 L164.7,891.7 L166.7,889.2 L168.7,886.7 L170.7,884.2 L172.7,881.4 L174.7,878.5 L176.7,875.6 L178.7,872.9 L180.7,870.6 L182.7,868.6 L184.7,866.8 L186.7,865.1 L188.7,863.6 L190.7,862.2 L192.7,861.1 L194.7,860.2 L196.7,859.7 L198.7,859.6 L200.7,859.8 L202.7,860.3 L204.7,861.2 L206.7,862.2 L208.7,863.3 L210.7,864.5 L212.7,865.7 L214.7,866.9 L216.7,868.2 L218.7,869.6 L220.7,871 L222.7,872.5 L224.7,873.9 L226.7,875.4 L228.7,876.9 L230.7,878.3 L232.7,879.7 L234.7,881 L236.7,882.4 L238.7,883.8 L240.7,885.2 L242.7,886.5 L244.7,887.8 L246.7,889.1 L248.7,890.3 L250.7,891.4 L252.7,892.4 L254.7,893.3 L256.7,894.1 L258.7,894.8 L260.7,895.5 L262.7,896.1 L264.7,896.7 L266.7,897.3 L268.7,898 L270.7,898.7 L272.7,899.6 L274.7,900.6 L276.7,901.6 L278.7,902.7 L280.7,903.9 L282.7,905 L284.7,906.2 L286.7,907.3 L288.7,908.4 L290.7,909.4 L292.7,910.5 L294.7,911.6 L296.7,912.6 L298.7,913.6 L300.7,914.5 L302.7,915.3 L304.7,916 L306.7,916.6 L308.7,917.1 L310.7,917.5 L312.7,917.9 L314.7,918.3 L316.7,918.6 L318.7,918.8 L320.7,919 L322.7,919.2 L324.7,919.3 L326.7,919.3 L328.7,919.3 L330.7,919.2 L332.7,919 L334.7,918.8 L336.7,918.6 L338.7,918.4 L340.7,918.2 L342.7,918 L344.7,917.8 L346.7,917.7 L348.7,917.5 L350.7,917.4 L352.7,917.2 L354.7,917 L356.7,916.9 L358.7,916.7 L360.7,916.5 L362.7,916.4 L364.7,916.3 L366.7,916.2 L368.7,916.1 L370.7,916 L372.7,916 L374.7,916.1 L376.7,916.2 L378.7,916.4 L380.7,916.8 L382.7,917.2 L384.7,917.6 L386.7,918 L388.7,918.4 L390.7,918.6 L392.7,918.8 L394.7,919 L396.7,919.1 L398.7,919.3 L400.7,919.4 L402.7,919.5 L404.7,919.6 L406.7,919.6 L408.7,919.7 L410.7,919.8 L412.7,919.9 L414.7,920 L416.7,920 L418.7,920.1 L420.7,920.2 L422.7,920.3 L424.7,920.3 L426.7,920.4 L428.7,920.6 L430,920.9 L430,920.9 L110.7,920.9 Z" fill="rgba(89,89,89,0.7)"/>
<path d="M110.7,920.9 L112.7,920.5 L114.7,920.2 L116.7,919.9 L118.7,919.6 L120.7,919.3 L122.7,918.9 L124.7,918.5 L126.7,918.1 L128.7,917.6 L130.7,917.1 L132.7,916.4 L134.7,915.7 L136.7,914.8 L138.7,913.8 L140.7,912.7 L142.7,911.6 L144.7,910.3 L146.7,908.9 L148.7,907.4 L150.7,905.9 L152.7,904.3 L154.7,902.5 L156.7,900.6 L158.7,898.6 L160.7,896.4 L162.7,894.1 L164.7,891.7 L166.7,889.2 L168.7,886.7 L170.7,884.2 L172.7,881.4 L174.7,878.5 L176.7,875.6 L178.7,872.9 L180.7,870.6 L182.7,868.6 L184.7,866.8 L186.7,865.1 L188.7,863.6 L190.7,862.2 L192.7,861.1 L194.7,860.2 L196.7,859.7 L198.7,859.6 L200.7,859.8 L202.7,860.3 L204.7,861.2 L206.7,862.2 L208.7,863.3 L210.7,864.5 L212.7,865.7 L214.7,866.9 L216.7,868.2 L218.7,869.6 L220.7,871 L222.7,872.5 L224.7,873.9 L226.7,875.4 L228.7,876.9 L230.7,878.3 L232.7,879.7 L234.7,881 L236.7,882.4 L238.7,883.8 L240.7,885.2 L242.7,886.5 L244.7,887.8 L246.7,889.1 L248.7,890.3 L250.7,891.4 L252.7,892.4 L254.7,893.3 L256.7,894.1 L258.7,894.8 L260.7,895.5 L262.7,896.1 L264.7,896.7 L266.7,897.3 L268.7,898 L270.7,898.7 L272.7,899.6 L274.7,900.6 L276.7,901.6 L278.7,902.7 L280.7,903.9 L282.7,905 L284.7,906.2 L286.7,907.3 L288.7,908.4 L290.7,909.4 L292.7,910.5 L294.7,911.6 L296.7,912.6 L298.7,913.6 L300.7,914.5 L302.7,915.3 L304.7,916 L306.7,916.6 L308.7,917.1 L310.7,917.5 L312.7,917.9 L314.7,918.3 L316.7,918.6 L318.7,918.8 L320.7,919 L322.7,919.2 L324.7,919.3 L326.7,919.3 L328.7,919.3 L330.7,919.2 L332.7,919 L334.7,918.8 L336.7,918.6 L338.7,918.4 L340.7,918.2 L342.7,918 L344.7,917.8 L346.7,917.7 L348.7,917.5 L350.7,917.4 L352.7,917.2 L354.7,917 L356.7,916.9 L358.7,916.7 L360.7,916.5 L362.7,916.4 L364.7,916.3 L366.7,916.2 L368.7,916.1 L370.7,916 L372.7,916 L374.7,916.1 L376.7,916.2 L378.7,916.4 L380.7,916.8 L382.7,917.2 L384.7,917.6 L386.7,918 L388.7,918.4 L390.7,918.6 L392.7,918.8 L394.7,919 L396.7,919.1 L398.7,919.3 L400.7,919.4 L402.7,919.5 L404.7,919.6 L406.7,919.6 L408.7,919.7 L410.7,919.8 L412.7,919.9 L414.7,920 L416.7,920 L418.7,920.1 L420.7,920.2 L422.7,920.3 L424.7,920.3 L426.7,920.4 L428.7,920.6 L430,920.9" fill="none" stroke="#000" stroke-width="3" stroke-linejoin="round" stroke-linecap="round"/>
<g fill="rgba(0,0,0,0.36)"><ellipse cx="249.3" cy="906.1" rx="4.1" ry="3.2"/><ellipse cx="250.7" cy="911" rx="4.1" ry="3.2"/><ellipse cx="238.5" cy="912.7" rx="4.1" ry="3.2"/><ellipse cx="251.3" cy="917.1" rx="4.1" ry="3.2"/><ellipse cx="251.1" cy="917.5" rx="4.1" ry="3.2"/><ellipse cx="184.5" cy="898.2" rx="4.1" ry="3.2"/><ellipse cx="232.7" cy="909.8" rx="4.1" ry="3.2"/><ellipse cx="213.3" cy="917.5" rx="4.1" ry="3.2"/><ellipse cx="198.6" cy="894" rx="4.1" ry="3.2"/><ellipse cx="263" cy="912.8" rx="4.1" ry="3.2"/><ellipse cx="202.9" cy="889.1" rx="4.1" ry="3.2"/><ellipse cx="198.4" cy="894.5" rx="4.1" ry="3.2"/><ellipse cx="191.4" cy="874.3" rx="4.1" ry="3.2"/><ellipse cx="182.3" cy="888.5" rx="4.1" ry="3.2"/><ellipse cx="183.6" cy="880.3" rx="4.1" ry="3.2"/><ellipse cx="246.9" cy="915.4" rx="4.1" ry="3.2"/><ellipse cx="168.6" cy="911.6" rx="4.1" ry="3.2"/><ellipse cx="224.8" cy="908.4" rx="4.1" ry="3.2"/><ellipse cx="146.4" cy="915.5" rx="4.1" ry="3.2"/><ellipse cx="170.1" cy="909.9" rx="4.1" ry="3.2"/><ellipse cx="254.9" cy="910.4" rx="4.1" ry="3.2"/><ellipse cx="222.4" cy="888" rx="4.1" ry="3.2"/><ellipse cx="203.8" cy="868" rx="4.1" ry="3.2"/><ellipse cx="209.1" cy="882.9" rx="4.1" ry="3.2"/><ellipse cx="209.6" cy="907.5" rx="4.1" ry="3.2"/><ellipse cx="239.1" cy="904.5" rx="4.1" ry="3.2"/><ellipse cx="251.1" cy="909.5" rx="4.1" ry="3.2"/><ellipse cx="268.7" cy="917.6" rx="4.1" ry="3.2"/><ellipse cx="288.4" cy="916.3" rx="4.1" ry="3.2"/><ellipse cx="181.9" cy="899.2" rx="4.1" ry="3.2"/><ellipse cx="216.8" cy="902.8" rx="4.1" ry="3.2"/><ellipse cx="281.5" cy="916.1" rx="4.1" ry="3.2"/><ellipse cx="195.1" cy="905" rx="4.1" ry="3.2"/><ellipse cx="339.6" cy="919.9" rx="4.1" ry="3.2"/><ellipse cx="159.6" cy="902.4" rx="4.1" ry="3.2"/><ellipse cx="166.3" cy="918.8" rx="4.1" ry="3.2"/><ellipse cx="212.3" cy="911.4" rx="4.1" ry="3.2"/><ellipse cx="172.4" cy="907.2" rx="4.1" ry="3.2"/><ellipse cx="192.2" cy="877.4" rx="4.1" ry="3.2"/><ellipse cx="188.6" cy="915.8" rx="4.1" ry="3.2"/><ellipse cx="187.8" cy="912.2" rx="4.1" ry="3.2"/><ellipse cx="262.4" cy="910.2" rx="4.1" ry="3.2"/><ellipse cx="230.6" cy="885" rx="4.1" ry="3.2"/><ellipse cx="226.8" cy="886.4" rx="4.1" ry="3.2"/><ellipse cx="171.2" cy="904.2" rx="4.1" ry="3.2"/><ellipse cx="188.3" cy="906.2" rx="4.1" ry="3.2"/><ellipse cx="161.7" cy="900.2" rx="4.1" ry="3.2"/><ellipse cx="229.7" cy="884.3" rx="4.1" ry="3.2"/><ellipse cx="202.2" cy="872.5" rx="4.1" ry="3.2"/><ellipse cx="177.1" cy="887.2" rx="4.1" ry="3.2"/><ellipse cx="167.8" cy="902.9" rx="4.1" ry="3.2"/><ellipse cx="256.9" cy="911.8" rx="4.1" ry="3.2"/><ellipse cx="175" cy="883.7" rx="4.1" ry="3.2"/><ellipse cx="232.9" cy="917.8" rx="4.1" ry="3.2"/><ellipse cx="204" cy="908.5" rx="4.1" ry="3.2"/><ellipse cx="172.8" cy="915" rx="4.1" ry="3.2"/><ellipse cx="224.2" cy="918.2" rx="4.1" ry="3.2"/><ellipse cx="283" cy="917.8" rx="4.1" ry="3.2"/><ellipse cx="200.2" cy="898.6" rx="4.1" ry="3.2"/><ellipse cx="174.5" cy="914.8" rx="4.1" ry="3.2"/><ellipse cx="225.2" cy="887.1" rx="4.1" ry="3.2"/><ellipse cx="119" cy="919.9" rx="4.1" ry="3.2"/><ellipse cx="186.4" cy="906.5" rx="4.1" ry="3.2"/><ellipse cx="241.3" cy="902" rx="4.1" ry="3.2"/><ellipse cx="209.8" cy="892.9" rx="4.1" ry="3.2"/><ellipse cx="177.8" cy="886.1" rx="4.1" ry="3.2"/><ellipse cx="227.1" cy="905.9" rx="4.1" ry="3.2"/><ellipse cx="255.1" cy="908.6" rx="4.1" ry="3.2"/><ellipse cx="195.4" cy="893.3" rx="4.1" ry="3.2"/><ellipse cx="267.4" cy="904.9" rx="4.1" ry="3.2"/><ellipse cx="203.2" cy="893.7" rx="4.1" ry="3.2"/><ellipse cx="234.6" cy="898.1" rx="4.1" ry="3.2"/><ellipse cx="162.6" cy="907.6" rx="4.1" ry="3.2"/><ellipse cx="248.2" cy="903.9" rx="4.1" ry="3.2"/><ellipse cx="259.4" cy="902.5" rx="4.1" ry="3.2"/><ellipse cx="181" cy="902.3" rx="4.1" ry="3.2"/><ellipse cx="216.3" cy="909.6" rx="4.1" ry="3.2"/><ellipse cx="150.5" cy="916.6" rx="4.1" ry="3.2"/></g>
<path d="M114.7,994.6 L116.7,994 L118.7,993.5 L120.7,992.9 L122.7,992.4 L124.7,991.8 L126.7,991.1 L128.7,990.4 L130.7,989.5 L132.7,988.6 L134.7,987.4 L136.7,986 L138.7,984.4 L140.7,982.6 L142.7,980.6 L144.7,978.5 L146.7,976.2 L148.7,973.6 L150.7,970.8 L152.7,967.6 L154.7,964 L156.7,960 L158.7,956 L160.7,952.3 L162.7,949 L164.7,945.9 L166.7,943.1 L168.7,940.4 L170.7,937.9 L172.7,935.6 L174.7,933.6 L176.7,932 L178.7,930.9 L180.7,930.5 L182.7,930.5 L184.7,930.9 L186.7,931.5 L188.7,932.3 L190.7,933.2 L192.7,934.3 L194.7,935.8 L196.7,937.7 L198.7,939.8 L200.7,941.8 L202.7,943.6 L204.7,945.4 L206.7,947.1 L208.7,948.8 L210.7,950.5 L212.7,952.2 L214.7,953.7 L216.7,955.3 L218.7,956.7 L220.7,958 L222.7,959.2 L224.7,960.4 L226.7,961.4 L228.7,962.4 L230.7,963.4 L232.7,964.2 L234.7,965.1 L236.7,965.9 L238.7,966.7 L240.7,967.4 L242.7,968.1 L244.7,968.7 L246.7,969.3 L248.7,969.8 L250.7,970.2 L252.7,970.6 L254.7,971 L256.7,971.4 L258.7,971.9 L260.7,972.4 L262.7,972.9 L264.7,973.5 L266.7,974.2 L268.7,975 L270.7,975.8 L272.7,976.7 L274.7,977.6 L276.7,978.5 L278.7,979.5 L280.7,980.5 L282.7,981.4 L284.7,982.4 L286.7,983.3 L288.7,984.2 L290.7,984.9 L292.7,985.6 L294.7,986.3 L296.7,986.8 L298.7,987.3 L300.7,987.7 L302.7,988.1 L304.7,988.5 L306.7,988.9 L308.7,989.2 L310.7,989.6 L312.7,989.9 L314.7,990.2 L316.7,990.5 L318.7,990.8 L320.7,991.1 L322.7,991.3 L324.7,991.5 L326.7,991.8 L328.7,992 L330.7,992.3 L332.7,992.5 L334.7,992.6 L336.7,992.7 L338.7,992.8 L340.7,992.9 L342.7,993 L344.7,993 L346.7,993.1 L348.7,993.1 L350.7,993.1 L352.7,993.2 L354.7,993.2 L356.7,993.2 L358.7,993.2 L360.7,993.2 L362.7,993.3 L364.7,993.3 L366.7,993.3 L368.7,993.3 L370.7,993.3 L372.7,993.3 L374.7,993.3 L376.7,993.3 L378.7,993.3 L380.7,993.4 L382.7,993.4 L384.7,993.4 L386.7,993.4 L388.7,993.4 L390.7,993.4 L392.7,993.4 L394.7,993.4 L396.7,993.5 L398.7,993.5 L400.7,993.5 L402.7,993.5 L404.7,993.6 L406.7,993.6 L408.7,993.6 L410.7,993.6 L412.7,993.7 L414.7,993.7 L416.7,993.7 L418.7,993.7 L420.7,993.8 L422.7,993.8 L424.7,993.8 L426.7,993.8 L428.7,993.9 L430.7,993.9 L432.7,993.9 L434.7,993.9 L436.7,994 L438.7,994 L440.7,994 L442.7,994 L444.7,994.1 L446.7,994.1 L448.7,994.1 L450.7,994.2 L452.7,994.2 L454.7,994.2 L456.7,994.3 L458.7,994.3 L460.7,994.3 L462.7,994.3 L464.7,994.4 L466.7,994.4 L468.7,994.5 L470.7,994.5 L472,994.6 L472,994.6 L114.7,994.6 Z" fill="rgba(123,104,238,0.86)"/>
<path d="M114.7,994.6 L116.7,994 L118.7,993.5 L120.7,992.9 L122.7,992.4 L124.7,991.8 L126.7,991.1 L128.7,990.4 L130.7,989.5 L132.7,988.6 L134.7,987.4 L136.7,986 L138.7,984.4 L140.7,982.6 L142.7,980.6 L144.7,978.5 L146.7,976.2 L148.7,973.6 L150.7,970.8 L152.7,967.6 L154.7,964 L156.7,960 L158.7,956 L160.7,952.3 L162.7,949 L164.7,945.9 L166.7,943.1 L168.7,940.4 L170.7,937.9 L172.7,935.6 L174.7,933.6 L176.7,932 L178.7,930.9 L180.7,930.5 L182.7,930.5 L184.7,930.9 L186.7,931.5 L188.7,932.3 L190.7,933.2 L192.7,934.3 L194.7,935.8 L196.7,937.7 L198.7,939.8 L200.7,941.8 L202.7,943.6 L204.7,945.4 L206.7,947.1 L208.7,948.8 L210.7,950.5 L212.7,952.2 L214.7,953.7 L216.7,955.3 L218.7,956.7 L220.7,958 L222.7,959.2 L224.7,960.4 L226.7,961.4 L228.7,962.4 L230.7,963.4 L232.7,964.2 L234.7,965.1 L236.7,965.9 L238.7,966.7 L240.7,967.4 L242.7,968.1 L244.7,968.7 L246.7,969.3 L248.7,969.8 L250.7,970.2 L252.7,970.6 L254.7,971 L256.7,971.4 L258.7,971.9 L260.7,972.4 L262.7,972.9 L264.7,973.5 L266.7,974.2 L268.7,975 L270.7,975.8 L272.7,976.7 L274.7,977.6 L276.7,978.5 L278.7,979.5 L280.7,980.5 L282.7,981.4 L284.7,982.4 L286.7,983.3 L288.7,984.2 L290.7,984.9 L292.7,985.6 L294.7,986.3 L296.7,986.8 L298.7,987.3 L300.7,987.7 L302.7,988.1 L304.7,988.5 L306.7,988.9 L308.7,989.2 L310.7,989.6 L312.7,989.9 L314.7,990.2 L316.7,990.5 L318.7,990.8 L320.7,991.1 L322.7,991.3 L324.7,991.5 L326.7,991.8 L328.7,992 L330.7,992.3 L332.7,992.5 L334.7,992.6 L336.7,992.7 L338.7,992.8 L340.7,992.9 L342.7,993 L344.7,993 L346.7,993.1 L348.7,993.1 L350.7,993.1 L352.7,993.2 L354.7,993.2 L356.7,993.2 L358.7,993.2 L360.7,993.2 L362.7,993.3 L364.7,993.3 L366.7,993.3 L368.7,993.3 L370.7,993.3 L372.7,993.3 L374.7,993.3 L376.7,993.3 L378.7,993.3 L380.7,993.4 L382.7,993.4 L384.7,993.4 L386.7,993.4 L388.7,993.4 L390.7,993.4 L392.7,993.4 L394.7,993.4 L396.7,993.5 L398.7,993.5 L400.7,993.5 L402.7,993.5 L404.7,993.6 L406.7,993.6 L408.7,993.6 L410.7,993.6 L412.7,993.7 L414.7,993.7 L416.7,993.7 L418.7,993.7 L420.7,993.8 L422.7,993.8 L424.7,993.8 L426.7,993.8 L428.7,993.9 L430.7,993.9 L432.7,993.9 L434.7,993.9 L436.7,994 L438.7,994 L440.7,994 L442.7,994 L444.7,994.1 L446.7,994.1 L448.7,994.1 L450.7,994.2 L452.7,994.2 L454.7,994.2 L456.7,994.3 L458.7,994.3 L460.7,994.3 L462.7,994.3 L464.7,994.4 L466.7,994.4 L468.7,994.5 L470.7,994.5 L472,994.6" fill="none" stroke="#222" stroke-width="2.3" stroke-linejoin="round"/>
<path d="M120.6,994.6 L122.6,993.9 L124.6,993.3 L126.6,992.7 L128.6,992.1 L130.6,991.4 L132.6,990.7 L134.6,990 L136.6,989.3 L138.6,988.4 L140.6,987.5 L142.6,986.5 L144.6,985.3 L146.6,983.9 L148.6,982.3 L150.6,980.5 L152.6,978.6 L154.6,976.6 L156.6,974.6 L158.6,972.6 L160.6,970.7 L162.6,969 L164.6,967.5 L166.6,966 L168.6,964.7 L170.6,963.5 L172.6,962.3 L174.6,961.2 L176.6,960 L178.6,958.9 L180.6,957.8 L182.6,956.7 L184.6,955.6 L186.6,954.4 L188.6,953.3 L190.6,952.2 L192.6,951.1 L194.6,949.9 L196.6,948.9 L198.6,947.8 L200.6,946.7 L202.6,945.6 L204.6,944.5 L206.6,943.3 L208.6,942.2 L210.6,941.1 L212.6,940 L214.6,939.1 L216.6,938.3 L218.6,937.7 L220.6,937.4 L222.6,937.3 L224.6,937.5 L226.6,937.9 L228.6,938.4 L230.6,939.2 L232.6,940.1 L234.6,941.3 L236.6,942.9 L238.6,944.7 L240.6,946.7 L242.6,948.6 L244.6,950.4 L246.6,952.2 L248.6,954 L250.6,955.9 L252.6,957.7 L254.6,959.5 L256.6,961.3 L258.6,963.1 L260.6,964.8 L262.6,966.5 L264.6,968.2 L266.6,969.8 L268.6,971.4 L270.6,973 L272.6,974.5 L274.6,976.1 L276.6,977.5 L278.6,979 L280.6,980.3 L282.6,981.4 L284.6,982.3 L286.6,983 L288.6,983.7 L290.6,984.4 L292.6,985.1 L294.6,985.8 L296.6,986.4 L298.6,987.1 L300.6,987.6 L302.6,988.2 L304.6,988.7 L306.6,989.1 L308.6,989.5 L310.6,989.8 L312.6,990.1 L314.6,990.4 L316.6,990.7 L318.6,991 L320.6,991.2 L322.6,991.4 L324.6,991.6 L326.6,991.8 L328.6,992 L330.6,992.1 L332.6,992.3 L334.6,992.4 L336.6,992.4 L338.6,992.5 L340.6,992.6 L342.6,992.6 L344.6,992.6 L346.6,992.6 L348.6,992.5 L350.6,992.4 L352.6,992.3 L354.6,992.2 L356.6,992 L358.6,991.9 L360.6,991.8 L362.6,991.7 L364.6,991.5 L366.6,991.4 L368.6,991.3 L370.6,991.1 L372.6,990.9 L374.6,990.8 L376.6,990.6 L378.6,990.5 L380.6,990.3 L382.6,990.2 L384.6,990.1 L386.6,990.1 L388.6,990 L390.6,990 L392.6,990.1 L394.6,990.2 L396.6,990.4 L398.6,990.6 L400.6,990.9 L402.6,991.2 L404.6,991.6 L406.6,991.9 L408.6,992.1 L410.6,992.4 L412.6,992.6 L414.6,992.7 L416.6,992.9 L418.6,993 L420.6,993.1 L422.6,993.2 L424.6,993.3 L426.6,993.4 L428.6,993.5 L430.6,993.6 L432.6,993.7 L434.6,993.7 L436.6,993.8 L438.6,993.9 L440.6,993.9 L442.6,994 L444.6,994.1 L446.6,994.1 L448.6,994.2 L450.6,994.2 L452.6,994.2 L454.6,994.3 L456.6,994.3 L458.6,994.3 L460.6,994.4 L462.6,994.4 L464.6,994.4 L466.6,994.4 L468.6,994.5 L470.6,994.5 L472.6,994.5 L474.6,994.5 L476.6,994.6 L478.6,994.6 L480,994.6 L480,994.6 L120.6,994.6 Z" fill="rgba(89,89,89,0.7)"/>
<path d="M120.6,994.6 L122.6,993.9 L124.6,993.3 L126.6,992.7 L128.6,992.1 L130.6,991.4 L132.6,990.7 L134.6,990 L136.6,989.3 L138.6,988.4 L140.6,987.5 L142.6,986.5 L144.6,985.3 L146.6,983.9 L148.6,982.3 L150.6,980.5 L152.6,978.6 L154.6,976.6 L156.6,974.6 L158.6,972.6 L160.6,970.7 L162.6,969 L164.6,967.5 L166.6,966 L168.6,964.7 L170.6,963.5 L172.6,962.3 L174.6,961.2 L176.6,960 L178.6,958.9 L180.6,957.8 L182.6,956.7 L184.6,955.6 L186.6,954.4 L188.6,953.3 L190.6,952.2 L192.6,951.1 L194.6,949.9 L196.6,948.9 L198.6,947.8 L200.6,946.7 L202.6,945.6 L204.6,944.5 L206.6,943.3 L208.6,942.2 L210.6,941.1 L212.6,940 L214.6,939.1 L216.6,938.3 L218.6,937.7 L220.6,937.4 L222.6,937.3 L224.6,937.5 L226.6,937.9 L228.6,938.4 L230.6,939.2 L232.6,940.1 L234.6,941.3 L236.6,942.9 L238.6,944.7 L240.6,946.7 L242.6,948.6 L244.6,950.4 L246.6,952.2 L248.6,954 L250.6,955.9 L252.6,957.7 L254.6,959.5 L256.6,961.3 L258.6,963.1 L260.6,964.8 L262.6,966.5 L264.6,968.2 L266.6,969.8 L268.6,971.4 L270.6,973 L272.6,974.5 L274.6,976.1 L276.6,977.5 L278.6,979 L280.6,980.3 L282.6,981.4 L284.6,982.3 L286.6,983 L288.6,983.7 L290.6,984.4 L292.6,985.1 L294.6,985.8 L296.6,986.4 L298.6,987.1 L300.6,987.6 L302.6,988.2 L304.6,988.7 L306.6,989.1 L308.6,989.5 L310.6,989.8 L312.6,990.1 L314.6,990.4 L316.6,990.7 L318.6,991 L320.6,991.2 L322.6,991.4 L324.6,991.6 L326.6,991.8 L328.6,992 L330.6,992.1 L332.6,992.3 L334.6,992.4 L336.6,992.4 L338.6,992.5 L340.6,992.6 L342.6,992.6 L344.6,992.6 L346.6,992.6 L348.6,992.5 L350.6,992.4 L352.6,992.3 L354.6,992.2 L356.6,992 L358.6,991.9 L360.6,991.8 L362.6,991.7 L364.6,991.5 L366.6,991.4 L368.6,991.3 L370.6,991.1 L372.6,990.9 L374.6,990.8 L376.6,990.6 L378.6,990.5 L380.6,990.3 L382.6,990.2 L384.6,990.1 L386.6,990.1 L388.6,990 L390.6,990 L392.6,990.1 L394.6,990.2 L396.6,990.4 L398.6,990.6 L400.6,990.9 L402.6,991.2 L404.6,991.6 L406.6,991.9 L408.6,992.1 L410.6,992.4 L412.6,992.6 L414.6,992.7 L416.6,992.9 L418.6,993 L420.6,993.1 L422.6,993.2 L424.6,993.3 L426.6,993.4 L428.6,993.5 L430.6,993.6 L432.6,993.7 L434.6,993.7 L436.6,993.8 L438.6,993.9 L440.6,993.9 L442.6,994 L444.6,994.1 L446.6,994.1 L448.6,994.2 L450.6,994.2 L452.6,994.2 L454.6,994.3 L456.6,994.3 L458.6,994.3 L460.6,994.4 L462.6,994.4 L464.6,994.4 L466.6,994.4 L468.6,994.5 L470.6,994.5 L472.6,994.5 L474.6,994.5 L476.6,994.6 L478.6,994.6 L480,994.6" fill="none" stroke="#000" stroke-width="3" stroke-linejoin="round" stroke-linecap="round"/>
<g fill="rgba(0,0,0,0.36)"><ellipse cx="234.8" cy="989.1" rx="4.1" ry="3.2"/><ellipse cx="175" cy="992.2" rx="4.1" ry="3.2"/><ellipse cx="167.8" cy="974.5" rx="4.1" ry="3.2"/><ellipse cx="250.9" cy="992.8" rx="4.1" ry="3.2"/><ellipse cx="252.7" cy="974" rx="4.1" ry="3.2"/><ellipse cx="233.1" cy="983.9" rx="4.1" ry="3.2"/><ellipse cx="254" cy="968" rx="4.1" ry="3.2"/><ellipse cx="156.4" cy="990.2" rx="4.1" ry="3.2"/><ellipse cx="245.5" cy="963.7" rx="4.1" ry="3.2"/><ellipse cx="225" cy="957.6" rx="4.1" ry="3.2"/><ellipse cx="192.1" cy="959.3" rx="4.1" ry="3.2"/><ellipse cx="160.8" cy="983" rx="4.1" ry="3.2"/><ellipse cx="181" cy="975.5" rx="4.1" ry="3.2"/><ellipse cx="159.2" cy="977.9" rx="4.1" ry="3.2"/><ellipse cx="231.2" cy="967.5" rx="4.1" ry="3.2"/><ellipse cx="151.6" cy="991.4" rx="4.1" ry="3.2"/><ellipse cx="196" cy="964.4" rx="4.1" ry="3.2"/><ellipse cx="194.1" cy="977.6" rx="4.1" ry="3.2"/><ellipse cx="168.5" cy="975.6" rx="4.1" ry="3.2"/><ellipse cx="285.6" cy="989.6" rx="4.1" ry="3.2"/><ellipse cx="208.5" cy="980.8" rx="4.1" ry="3.2"/><ellipse cx="251.3" cy="983.5" rx="4.1" ry="3.2"/><ellipse cx="316.5" cy="993.6" rx="4.1" ry="3.2"/><ellipse cx="247.7" cy="960.9" rx="4.1" ry="3.2"/><ellipse cx="250.8" cy="965.4" rx="4.1" ry="3.2"/><ellipse cx="255.1" cy="967.8" rx="4.1" ry="3.2"/><ellipse cx="205.1" cy="984.4" rx="4.1" ry="3.2"/><ellipse cx="156.2" cy="984.1" rx="4.1" ry="3.2"/><ellipse cx="229" cy="961.9" rx="4.1" ry="3.2"/><ellipse cx="215.3" cy="989.7" rx="4.1" ry="3.2"/><ellipse cx="297.6" cy="992.1" rx="4.1" ry="3.2"/><ellipse cx="225.5" cy="990.7" rx="4.1" ry="3.2"/><ellipse cx="152.2" cy="990.9" rx="4.1" ry="3.2"/><ellipse cx="241.4" cy="955.2" rx="4.1" ry="3.2"/><ellipse cx="239.9" cy="967.2" rx="4.1" ry="3.2"/><ellipse cx="218.1" cy="958" rx="4.1" ry="3.2"/><ellipse cx="227.4" cy="945.6" rx="4.1" ry="3.2"/><ellipse cx="287.9" cy="993" rx="4.1" ry="3.2"/><ellipse cx="248" cy="976.9" rx="4.1" ry="3.2"/><ellipse cx="136.6" cy="993.6" rx="4.1" ry="3.2"/><ellipse cx="242.5" cy="973.7" rx="4.1" ry="3.2"/><ellipse cx="183.2" cy="966.1" rx="4.1" ry="3.2"/><ellipse cx="303.5" cy="993.5" rx="4.1" ry="3.2"/><ellipse cx="240.7" cy="988.8" rx="4.1" ry="3.2"/><ellipse cx="219.2" cy="948.3" rx="4.1" ry="3.2"/><ellipse cx="239.1" cy="970.9" rx="4.1" ry="3.2"/><ellipse cx="204.3" cy="970" rx="4.1" ry="3.2"/><ellipse cx="232.1" cy="949.3" rx="4.1" ry="3.2"/><ellipse cx="198" cy="987.2" rx="4.1" ry="3.2"/><ellipse cx="208.9" cy="988.9" rx="4.1" ry="3.2"/><ellipse cx="215.9" cy="992" rx="4.1" ry="3.2"/><ellipse cx="218.5" cy="976.4" rx="4.1" ry="3.2"/><ellipse cx="236.1" cy="954.7" rx="4.1" ry="3.2"/><ellipse cx="143" cy="992.9" rx="4.1" ry="3.2"/><ellipse cx="281.8" cy="989.3" rx="4.1" ry="3.2"/><ellipse cx="164.6" cy="980.9" rx="4.1" ry="3.2"/><ellipse cx="209.7" cy="957.4" rx="4.1" ry="3.2"/><ellipse cx="241" cy="979.7" rx="4.1" ry="3.2"/><ellipse cx="260.1" cy="977.2" rx="4.1" ry="3.2"/><ellipse cx="259.5" cy="985.9" rx="4.1" ry="3.2"/><ellipse cx="160.8" cy="982.7" rx="4.1" ry="3.2"/><ellipse cx="193.4" cy="964.3" rx="4.1" ry="3.2"/><ellipse cx="216.8" cy="946.9" rx="4.1" ry="3.2"/><ellipse cx="244.4" cy="986.5" rx="4.1" ry="3.2"/><ellipse cx="180.9" cy="982" rx="4.1" ry="3.2"/><ellipse cx="214.7" cy="959.5" rx="4.1" ry="3.2"/><ellipse cx="153.6" cy="993" rx="4.1" ry="3.2"/><ellipse cx="303.3" cy="993.5" rx="4.1" ry="3.2"/><ellipse cx="276.5" cy="990.2" rx="4.1" ry="3.2"/><ellipse cx="220" cy="988" rx="4.1" ry="3.2"/><ellipse cx="244.4" cy="969.3" rx="4.1" ry="3.2"/><ellipse cx="191.7" cy="992.3" rx="4.1" ry="3.2"/><ellipse cx="226.7" cy="955" rx="4.1" ry="3.2"/><ellipse cx="177.4" cy="979.1" rx="4.1" ry="3.2"/><ellipse cx="267.8" cy="992.7" rx="4.1" ry="3.2"/><ellipse cx="232.6" cy="970.9" rx="4.1" ry="3.2"/><ellipse cx="162.7" cy="985.9" rx="4.1" ry="3.2"/><ellipse cx="205.6" cy="986.2" rx="4.1" ry="3.2"/></g>
<line x1="100" y1="488" x2="100" y2="997" stroke="#000" stroke-width="4" stroke-linecap="butt" />
<line x1="98" y1="995.2" x2="489.7" y2="995.2" stroke="#000" stroke-width="4" stroke-linecap="butt" />
<text x="100.1" y="1030.8" font-size="33" text-anchor="middle" >0</text>
<text x="187.5" y="1030.8" font-size="33" text-anchor="middle" >25</text>
<text x="284.6" y="1030.8" font-size="33" text-anchor="middle" >50</text>
<text x="373.1" y="1030.8" font-size="33" text-anchor="middle" >75</text>
<text x="466.4" y="1030.8" font-size="33" text-anchor="middle" >100</text>
<line x1="694.6" y1="488" x2="694.6" y2="995" stroke="#ebebeb" stroke-width="3.9" stroke-linecap="butt" />
<line x1="787.2" y1="488" x2="787.2" y2="995" stroke="#ebebeb" stroke-width="3.9" stroke-linecap="butt" />
<line x1="879.9" y1="488" x2="879.9" y2="995" stroke="#ebebeb" stroke-width="3.9" stroke-linecap="butt" />
<line x1="972.5" y1="488" x2="972.5" y2="995" stroke="#ebebeb" stroke-width="3.9" stroke-linecap="butt" />
<line x1="603.5" y1="551.4" x2="992" y2="551.4" stroke="#ebebeb" stroke-width="4.8" stroke-linecap="butt" />
<line x1="603.5" y1="625.3" x2="992" y2="625.3" stroke="#ebebeb" stroke-width="4.8" stroke-linecap="butt" />
<line x1="603.5" y1="698.8" x2="992" y2="698.8" stroke="#ebebeb" stroke-width="4.8" stroke-linecap="butt" />
<line x1="603.5" y1="773.2" x2="992" y2="773.2" stroke="#ebebeb" stroke-width="4.8" stroke-linecap="butt" />
<line x1="603.5" y1="847.3" x2="992" y2="847.3" stroke="#ebebeb" stroke-width="4.8" stroke-linecap="butt" />
<line x1="603.5" y1="921.1" x2="992" y2="921.1" stroke="#ebebeb" stroke-width="4.8" stroke-linecap="butt" />
<line x1="603.5" y1="994.8" x2="992" y2="994.8" stroke="#ebebeb" stroke-width="4.8" stroke-linecap="butt" />
<path d="M624.5,551.2 L626.5,550.8 L628.5,550.4 L630.5,550 L632.5,549.6 L634.5,549.2 L636.5,548.7 L638.5,548.3 L640.5,547.8 L642.5,547.3 L644.5,546.6 L646.5,546 L648.5,545.3 L650.5,544.5 L652.5,543.7 L654.5,542.9 L656.5,542 L658.5,541.2 L660.5,540.3 L662.5,539.5 L664.5,538.7 L666.5,537.9 L668.5,537.1 L670.5,536.2 L672.5,535.3 L674.5,534.5 L676.5,533.7 L678.5,533 L680.5,532.3 L682.5,531.8 L684.5,531.3 L686.5,531 L688.5,530.8 L690.5,530.6 L692.5,530.5 L694.5,530.4 L696.5,530.4 L698.5,530.3 L700.5,530.2 L702.5,530.1 L704.5,530 L706.5,529.8 L708.5,529.6 L710.5,529.5 L712.5,529.3 L714.5,529.1 L716.5,528.9 L718.5,528.7 L720.5,528.5 L722.5,528.2 L724.5,528 L726.5,527.7 L728.5,527.5 L730.5,527.2 L732.5,526.9 L734.5,526.6 L736.5,526.4 L738.5,526.1 L740.5,525.8 L742.5,525.6 L744.5,525.4 L746.5,525.2 L748.5,525.1 L750.5,525 L752.5,524.8 L754.5,524.7 L756.5,524.4 L758.5,524.2 L760.5,523.9 L762.5,523.5 L764.5,523.1 L766.5,522.6 L768.5,522.1 L770.5,521.6 L772.5,521.1 L774.5,520.5 L776.5,520 L778.5,519.4 L780.5,518.9 L782.5,518.3 L784.5,517.8 L786.5,517.3 L788.5,516.8 L790.5,516.3 L792.5,515.7 L794.5,515.3 L796.5,515.2 L798.5,515.4 L800.5,515.7 L802.5,516.1 L804.5,516.5 L806.5,517 L808.5,517.5 L810.5,518 L812.5,518.5 L814.5,518.9 L816.5,519.4 L818.5,519.9 L820.5,520.4 L822.5,520.9 L824.5,521.3 L826.5,521.7 L828.5,522.1 L830.5,522.5 L832.5,522.8 L834.5,523.2 L836.5,523.5 L838.5,523.9 L840.5,524.4 L842.5,524.8 L844.5,525.4 L846.5,525.9 L848.5,526.5 L850.5,527.2 L852.5,527.8 L854.5,528.5 L856.5,529.2 L858.5,530 L860.5,530.8 L862.5,531.6 L864.5,532.5 L866.5,533.5 L868.5,534.6 L870.5,535.8 L872.5,537 L874.5,538.2 L876.5,539.3 L878.5,540.4 L880.5,541.5 L882.5,542.6 L884.5,543.6 L886.5,544.7 L888.5,545.6 L890.5,546.4 L892.5,547.1 L894.5,547.6 L896.5,548.1 L898.5,548.5 L900.5,548.8 L902.5,549.1 L904.5,549.3 L906.5,549.5 L908.5,549.7 L910.5,549.8 L912.5,549.9 L914.5,550.1 L916.5,550.2 L918.5,550.2 L920.5,550.3 L922.5,550.4 L924.5,550.4 L926.5,550.5 L928.5,550.5 L930.5,550.5 L932.5,550.6 L934.5,550.6 L936.5,550.6 L938.5,550.6 L940.5,550.6 L942.5,550.6 L944.5,550.5 L946.5,550.5 L948.5,550.5 L950.5,550.5 L952.5,550.5 L954.5,550.5 L956.5,550.5 L958.5,550.4 L960.5,550.4 L962.5,550.4 L964.5,550.4 L966.5,550.4 L968.5,550.4 L970.5,550.4 L972.5,550.6 L973,551.2 L973,551.2 L624.5,551.2 Z" fill="rgba(123,104,238,0.62)"/>
<path d="M624.5,551.2 L626.5,550.8 L628.5,550.4 L630.5,550 L632.5,549.6 L634.5,549.2 L636.5,548.7 L638.5,548.3 L640.5,547.8 L642.5,547.3 L644.5,546.6 L646.5,546 L648.5,545.3 L650.5,544.5 L652.5,543.7 L654.5,542.9 L656.5,542 L658.5,541.2 L660.5,540.3 L662.5,539.5 L664.5,538.7 L666.5,537.9 L668.5,537.1 L670.5,536.2 L672.5,535.3 L674.5,534.5 L676.5,533.7 L678.5,533 L680.5,532.3 L682.5,531.8 L684.5,531.3 L686.5,531 L688.5,530.8 L690.5,530.6 L692.5,530.5 L694.5,530.4 L696.5,530.4 L698.5,530.3 L700.5,530.2 L702.5,530.1 L704.5,530 L706.5,529.8 L708.5,529.6 L710.5,529.5 L712.5,529.3 L714.5,529.1 L716.5,528.9 L718.5,528.7 L720.5,528.5 L722.5,528.2 L724.5,528 L726.5,527.7 L728.5,527.5 L730.5,527.2 L732.5,526.9 L734.5,526.6 L736.5,526.4 L738.5,526.1 L740.5,525.8 L742.5,525.6 L744.5,525.4 L746.5,525.2 L748.5,525.1 L750.5,525 L752.5,524.8 L754.5,524.7 L756.5,524.4 L758.5,524.2 L760.5,523.9 L762.5,523.5 L764.5,523.1 L766.5,522.6 L768.5,522.1 L770.5,521.6 L772.5,521.1 L774.5,520.5 L776.5,520 L778.5,519.4 L780.5,518.9 L782.5,518.3 L784.5,517.8 L786.5,517.3 L788.5,516.8 L790.5,516.3 L792.5,515.7 L794.5,515.3 L796.5,515.2 L798.5,515.4 L800.5,515.7 L802.5,516.1 L804.5,516.5 L806.5,517 L808.5,517.5 L810.5,518 L812.5,518.5 L814.5,518.9 L816.5,519.4 L818.5,519.9 L820.5,520.4 L822.5,520.9 L824.5,521.3 L826.5,521.7 L828.5,522.1 L830.5,522.5 L832.5,522.8 L834.5,523.2 L836.5,523.5 L838.5,523.9 L840.5,524.4 L842.5,524.8 L844.5,525.4 L846.5,525.9 L848.5,526.5 L850.5,527.2 L852.5,527.8 L854.5,528.5 L856.5,529.2 L858.5,530 L860.5,530.8 L862.5,531.6 L864.5,532.5 L866.5,533.5 L868.5,534.6 L870.5,535.8 L872.5,537 L874.5,538.2 L876.5,539.3 L878.5,540.4 L880.5,541.5 L882.5,542.6 L884.5,543.6 L886.5,544.7 L888.5,545.6 L890.5,546.4 L892.5,547.1 L894.5,547.6 L896.5,548.1 L898.5,548.5 L900.5,548.8 L902.5,549.1 L904.5,549.3 L906.5,549.5 L908.5,549.7 L910.5,549.8 L912.5,549.9 L914.5,550.1 L916.5,550.2 L918.5,550.2 L920.5,550.3 L922.5,550.4 L924.5,550.4 L926.5,550.5 L928.5,550.5 L930.5,550.5 L932.5,550.6 L934.5,550.6 L936.5,550.6 L938.5,550.6 L940.5,550.6 L942.5,550.6 L944.5,550.5 L946.5,550.5 L948.5,550.5 L950.5,550.5 L952.5,550.5 L954.5,550.5 L956.5,550.5 L958.5,550.4 L960.5,550.4 L962.5,550.4 L964.5,550.4 L966.5,550.4 L968.5,550.4 L970.5,550.4 L972.5,550.6 L973,551.2" fill="none" stroke="#505050" stroke-width="2.3" stroke-linejoin="round"/>
<path d="M611.7,551.2 L613.7,551 L615.7,550.8 L617.7,550.6 L619.7,550.4 L621.7,550.2 L623.7,550 L625.7,549.7 L627.7,549.4 L629.7,549 L631.7,548.5 L633.7,547.9 L635.7,547.2 L637.7,546.3 L639.7,545.2 L641.7,544 L643.7,542.6 L645.7,541 L647.7,539.2 L649.7,537.2 L651.7,535 L653.7,532.5 L655.7,529.7 L657.7,526.7 L659.7,523.6 L661.7,520.6 L663.7,517.5 L665.7,514.5 L667.7,511.5 L669.7,508.5 L671.7,505.8 L673.7,503.6 L675.7,501.9 L677.7,500.4 L679.7,499.2 L681.7,498.3 L683.7,497.7 L685.7,497.4 L687.7,497.5 L689.7,497.8 L691.7,498.4 L693.7,499.2 L695.7,500 L697.7,500.9 L699.7,501.9 L701.7,502.9 L703.7,504 L705.7,505.2 L707.7,506.4 L709.7,507.6 L711.7,508.7 L713.7,509.9 L715.7,510.9 L717.7,511.8 L719.7,512.6 L721.7,513.3 L723.7,513.9 L725.7,514.5 L727.7,515 L729.7,515.6 L731.7,516.1 L733.7,516.7 L735.7,517.3 L737.7,517.9 L739.7,518.5 L741.7,519 L743.7,519.6 L745.7,520.2 L747.7,520.8 L749.7,521.4 L751.7,522.1 L753.7,522.8 L755.7,523.6 L757.7,524.4 L759.7,525.2 L761.7,526 L763.7,526.8 L765.7,527.7 L767.7,528.5 L769.7,529.3 L771.7,530 L773.7,530.7 L775.7,531.5 L777.7,532.1 L779.7,532.8 L781.7,533.5 L783.7,534.1 L785.7,534.7 L787.7,535.3 L789.7,535.9 L791.7,536.4 L793.7,536.8 L795.7,537.1 L797.7,537.5 L799.7,537.8 L801.7,538.2 L803.7,538.7 L805.7,539.4 L807.7,540.1 L809.7,540.9 L811.7,541.8 L813.7,542.6 L815.7,543.5 L817.7,544.3 L819.7,545.2 L821.7,545.9 L823.7,546.6 L825.7,547.2 L827.7,547.9 L829.7,548.5 L831.7,549 L833.7,549.5 L835.7,549.9 L837.7,550.2 L839.7,550.5 L841.7,550.6 L843.7,550.8 L845.7,550.8 L847.7,550.9 L849.7,550.9 L851.7,550.9 L853.7,550.9 L855.7,550.8 L857.7,550.8 L859.7,550.7 L861.7,550.6 L863.7,550.5 L865.7,550.5 L867.7,550.4 L869.7,550.3 L871.7,550.2 L873.7,550.1 L875.7,550 L877.7,550 L879.7,549.9 L881.7,549.8 L883.7,549.8 L885.7,549.8 L887.7,549.7 L889.7,549.7 L891.7,549.7 L893.7,549.7 L895.7,549.7 L897.7,549.7 L899.7,549.7 L901.7,549.8 L903.7,549.8 L905.7,549.9 L907.7,550 L909.7,550.1 L911.7,550.2 L913.7,550.4 L915.7,550.5 L917.7,550.6 L919.7,550.7 L921.7,550.9 L923.7,551 L925.7,551.1 L926.5,551.2 L926.5,551.2 L611.7,551.2 Z" fill="rgba(247,102,13,0.73)"/>
<path d="M611.7,551.2 L613.7,551 L615.7,550.8 L617.7,550.6 L619.7,550.4 L621.7,550.2 L623.7,550 L625.7,549.7 L627.7,549.4 L629.7,549 L631.7,548.5 L633.7,547.9 L635.7,547.2 L637.7,546.3 L639.7,545.2 L641.7,544 L643.7,542.6 L645.7,541 L647.7,539.2 L649.7,537.2 L651.7,535 L653.7,532.5 L655.7,529.7 L657.7,526.7 L659.7,523.6 L661.7,520.6 L663.7,517.5 L665.7,514.5 L667.7,511.5 L669.7,508.5 L671.7,505.8 L673.7,503.6 L675.7,501.9 L677.7,500.4 L679.7,499.2 L681.7,498.3 L683.7,497.7 L685.7,497.4 L687.7,497.5 L689.7,497.8 L691.7,498.4 L693.7,499.2 L695.7,500 L697.7,500.9 L699.7,501.9 L701.7,502.9 L703.7,504 L705.7,505.2 L707.7,506.4 L709.7,507.6 L711.7,508.7 L713.7,509.9 L715.7,510.9 L717.7,511.8 L719.7,512.6 L721.7,513.3 L723.7,513.9 L725.7,514.5 L727.7,515 L729.7,515.6 L731.7,516.1 L733.7,516.7 L735.7,517.3 L737.7,517.9 L739.7,518.5 L741.7,519 L743.7,519.6 L745.7,520.2 L747.7,520.8 L749.7,521.4 L751.7,522.1 L753.7,522.8 L755.7,523.6 L757.7,524.4 L759.7,525.2 L761.7,526 L763.7,526.8 L765.7,527.7 L767.7,528.5 L769.7,529.3 L771.7,530 L773.7,530.7 L775.7,531.5 L777.7,532.1 L779.7,532.8 L781.7,533.5 L783.7,534.1 L785.7,534.7 L787.7,535.3 L789.7,535.9 L791.7,536.4 L793.7,536.8 L795.7,537.1 L797.7,537.5 L799.7,537.8 L801.7,538.2 L803.7,538.7 L805.7,539.4 L807.7,540.1 L809.7,540.9 L811.7,541.8 L813.7,542.6 L815.7,543.5 L817.7,544.3 L819.7,545.2 L821.7,545.9 L823.7,546.6 L825.7,547.2 L827.7,547.9 L829.7,548.5 L831.7,549 L833.7,549.5 L835.7,549.9 L837.7,550.2 L839.7,550.5 L841.7,550.6 L843.7,550.8 L845.7,550.8 L847.7,550.9 L849.7,550.9 L851.7,550.9 L853.7,550.9 L855.7,550.8 L857.7,550.8 L859.7,550.7 L861.7,550.6 L863.7,550.5 L865.7,550.5 L867.7,550.4 L869.7,550.3 L871.7,550.2 L873.7,550.1 L875.7,550 L877.7,550 L879.7,549.9 L881.7,549.8 L883.7,549.8 L885.7,549.8 L887.7,549.7 L889.7,549.7 L891.7,549.7 L893.7,549.7 L895.7,549.7 L897.7,549.7 L899.7,549.7 L901.7,549.8 L903.7,549.8 L905.7,549.9 L907.7,550 L909.7,550.1 L911.7,550.2 L913.7,550.4 L915.7,550.5 L917.7,550.6 L919.7,550.7 L921.7,550.9 L923.7,551 L925.7,551.1 L926.5,551.2" fill="none" stroke="#000" stroke-width="3" stroke-linejoin="round" stroke-linecap="round"/>
<g fill="rgba(0,0,0,0.36)"><ellipse cx="741.2" cy="527.4" rx="4.1" ry="3.2"/><ellipse cx="674.8" cy="517.3" rx="4.1" ry="3.2"/><ellipse cx="750.2" cy="528.7" rx="4.1" ry="3.2"/><ellipse cx="722.7" cy="543.3" rx="4.1" ry="3.2"/><ellipse cx="725.4" cy="539.7" rx="4.1" ry="3.2"/><ellipse cx="709.9" cy="530.4" rx="4.1" ry="3.2"/><ellipse cx="671.9" cy="523.7" rx="4.1" ry="3.2"/><ellipse cx="652.5" cy="538.9" rx="4.1" ry="3.2"/><ellipse cx="698.7" cy="542.4" rx="4.1" ry="3.2"/><ellipse cx="714.6" cy="525.3" rx="4.1" ry="3.2"/><ellipse cx="707.1" cy="532.5" rx="4.1" ry="3.2"/><ellipse cx="693.8" cy="540.4" rx="4.1" ry="3.2"/><ellipse cx="688" cy="546.4" rx="4.1" ry="3.2"/><ellipse cx="675.1" cy="527.5" rx="4.1" ry="3.2"/><ellipse cx="668.4" cy="543.8" rx="4.1" ry="3.2"/><ellipse cx="692.3" cy="545.7" rx="4.1" ry="3.2"/><ellipse cx="747.2" cy="547.6" rx="4.1" ry="3.2"/><ellipse cx="704.4" cy="540.9" rx="4.1" ry="3.2"/><ellipse cx="715.1" cy="544.5" rx="4.1" ry="3.2"/><ellipse cx="690.9" cy="507.7" rx="4.1" ry="3.2"/><ellipse cx="687.1" cy="525.1" rx="4.1" ry="3.2"/><ellipse cx="678.1" cy="513.8" rx="4.1" ry="3.2"/><ellipse cx="748.6" cy="528.1" rx="4.1" ry="3.2"/><ellipse cx="711.4" cy="524.5" rx="4.1" ry="3.2"/><ellipse cx="730.8" cy="544.8" rx="4.1" ry="3.2"/><ellipse cx="693" cy="508.7" rx="4.1" ry="3.2"/><ellipse cx="682" cy="543.4" rx="4.1" ry="3.2"/><ellipse cx="763.8" cy="540.4" rx="4.1" ry="3.2"/><ellipse cx="694.1" cy="516.2" rx="4.1" ry="3.2"/><ellipse cx="698.8" cy="512.9" rx="4.1" ry="3.2"/><ellipse cx="703.8" cy="546.7" rx="4.1" ry="3.2"/><ellipse cx="807.5" cy="550.1" rx="4.1" ry="3.2"/><ellipse cx="658.2" cy="547.4" rx="4.1" ry="3.2"/><ellipse cx="678.8" cy="519.9" rx="4.1" ry="3.2"/><ellipse cx="723.5" cy="542.1" rx="4.1" ry="3.2"/><ellipse cx="773.2" cy="541.5" rx="4.1" ry="3.2"/><ellipse cx="690.2" cy="534.9" rx="4.1" ry="3.2"/><ellipse cx="747.5" cy="545.9" rx="4.1" ry="3.2"/><ellipse cx="732" cy="522.9" rx="4.1" ry="3.2"/><ellipse cx="698" cy="532.7" rx="4.1" ry="3.2"/><ellipse cx="654.5" cy="542.5" rx="4.1" ry="3.2"/><ellipse cx="708.5" cy="540.6" rx="4.1" ry="3.2"/><ellipse cx="676.3" cy="549.3" rx="4.1" ry="3.2"/><ellipse cx="696.7" cy="527.7" rx="4.1" ry="3.2"/><ellipse cx="642.5" cy="549.6" rx="4.1" ry="3.2"/><ellipse cx="697.7" cy="549.9" rx="4.1" ry="3.2"/><ellipse cx="676.3" cy="538.7" rx="4.1" ry="3.2"/><ellipse cx="670.2" cy="515.6" rx="4.1" ry="3.2"/><ellipse cx="809.8" cy="550.1" rx="4.1" ry="3.2"/><ellipse cx="802.2" cy="548.8" rx="4.1" ry="3.2"/><ellipse cx="721.2" cy="534.4" rx="4.1" ry="3.2"/><ellipse cx="660.7" cy="540.5" rx="4.1" ry="3.2"/><ellipse cx="742.4" cy="545.3" rx="4.1" ry="3.2"/><ellipse cx="696" cy="542.3" rx="4.1" ry="3.2"/><ellipse cx="722.3" cy="534.2" rx="4.1" ry="3.2"/><ellipse cx="751.5" cy="539.8" rx="4.1" ry="3.2"/><ellipse cx="690.6" cy="531.3" rx="4.1" ry="3.2"/><ellipse cx="695.9" cy="526.3" rx="4.1" ry="3.2"/><ellipse cx="660.9" cy="539" rx="4.1" ry="3.2"/><ellipse cx="716.9" cy="516.9" rx="4.1" ry="3.2"/><ellipse cx="716.1" cy="518.8" rx="4.1" ry="3.2"/><ellipse cx="758.9" cy="548.7" rx="4.1" ry="3.2"/><ellipse cx="684.9" cy="522.8" rx="4.1" ry="3.2"/><ellipse cx="717.1" cy="536.3" rx="4.1" ry="3.2"/><ellipse cx="710" cy="517" rx="4.1" ry="3.2"/><ellipse cx="721.6" cy="539.6" rx="4.1" ry="3.2"/></g>
<path d="M624.5,625.1 L626.5,624.6 L628.5,624 L630.5,623.5 L632.5,623 L634.5,622.5 L636.5,622 L638.5,621.5 L640.5,620.9 L642.5,620.4 L644.5,619.8 L646.5,619.2 L648.5,618.5 L650.5,617.9 L652.5,617.1 L654.5,616.4 L656.5,615.5 L658.5,614.7 L660.5,613.7 L662.5,612.8 L664.5,611.8 L666.5,610.8 L668.5,609.7 L670.5,608.7 L672.5,607.6 L674.5,606.5 L676.5,605.5 L678.5,604.4 L680.5,603.4 L682.5,602.4 L684.5,601.4 L686.5,600.4 L688.5,599.5 L690.5,598.5 L692.5,597.6 L694.5,596.6 L696.5,595.7 L698.5,594.8 L700.5,593.9 L702.5,593.1 L704.5,592.2 L706.5,591.5 L708.5,590.7 L710.5,589.9 L712.5,589.2 L714.5,588.5 L716.5,587.8 L718.5,587.1 L720.5,586.5 L722.5,585.9 L724.5,585.3 L726.5,584.7 L728.5,584.3 L730.5,583.9 L732.5,583.7 L734.5,583.6 L736.5,583.6 L738.5,583.8 L740.5,584 L742.5,584.2 L744.5,584.4 L746.5,584.6 L748.5,584.9 L750.5,585.2 L752.5,585.5 L754.5,585.8 L756.5,586.1 L758.5,586.5 L760.5,586.8 L762.5,587.2 L764.5,587.5 L766.5,587.9 L768.5,588.3 L770.5,588.7 L772.5,589.1 L774.5,589.5 L776.5,589.9 L778.5,590.3 L780.5,590.7 L782.5,591.2 L784.5,591.6 L786.5,592.1 L788.5,592.6 L790.5,593.1 L792.5,593.7 L794.5,594.4 L796.5,595.3 L798.5,596.5 L800.5,597.8 L802.5,599.3 L804.5,600.9 L806.5,602.7 L808.5,604.5 L810.5,606.2 L812.5,608 L814.5,609.6 L816.5,611.1 L818.5,612.5 L820.5,613.7 L822.5,614.8 L824.5,615.6 L826.5,616.2 L828.5,616.6 L830.5,616.9 L832.5,617 L834.5,617.1 L836.5,617.1 L838.5,617 L840.5,616.9 L842.5,616.8 L844.5,616.7 L846.5,616.6 L848.5,616.5 L850.5,616.5 L852.5,616.6 L854.5,616.7 L856.5,616.8 L858.5,617 L860.5,617.2 L862.5,617.4 L864.5,617.6 L866.5,617.9 L868.5,618.1 L870.5,618.4 L872.5,618.6 L874.5,618.8 L876.5,619 L878.5,619.2 L880.5,619.4 L882.5,619.5 L884.5,619.7 L886.5,619.8 L888.5,619.8 L890.5,619.9 L892.5,620 L894.5,620 L896.5,620 L898.5,620.1 L900.5,620.1 L902.5,620.1 L904.5,620.1 L906.5,620.1 L908.5,620.1 L910.5,620.2 L912.5,620.2 L914.5,620.2 L916.5,620.2 L918.5,620.3 L920.5,620.3 L922.5,620.3 L924.5,620.3 L926.5,620.3 L928.5,620.3 L930.5,620.3 L932.5,620.3 L934.5,620.4 L936.5,620.5 L938.5,620.6 L940.5,620.7 L942.5,620.8 L944.5,621 L946.5,621.2 L948.5,621.5 L950.5,621.7 L952.5,622 L954.5,622.3 L956.5,622.6 L958.5,622.9 L960.5,623.3 L962.5,623.6 L964.5,623.9 L966.5,624.3 L968.5,624.6 L970.5,624.9 L971.7,625.1 L971.7,625.1 L624.5,625.1 Z" fill="rgba(123,104,238,0.86)"/>
<path d="M624.5,625.1 L626.5,624.6 L628.5,624 L630.5,623.5 L632.5,623 L634.5,622.5 L636.5,622 L638.5,621.5 L640.5,620.9 L642.5,620.4 L644.5,619.8 L646.5,619.2 L648.5,618.5 L650.5,617.9 L652.5,617.1 L654.5,616.4 L656.5,615.5 L658.5,614.7 L660.5,613.7 L662.5,612.8 L664.5,611.8 L666.5,610.8 L668.5,609.7 L670.5,608.7 L672.5,607.6 L674.5,606.5 L676.5,605.5 L678.5,604.4 L680.5,603.4 L682.5,602.4 L684.5,601.4 L686.5,600.4 L688.5,599.5 L690.5,598.5 L692.5,597.6 L694.5,596.6 L696.5,595.7 L698.5,594.8 L700.5,593.9 L702.5,593.1 L704.5,592.2 L706.5,591.5 L708.5,590.7 L710.5,589.9 L712.5,589.2 L714.5,588.5 L716.5,587.8 L718.5,587.1 L720.5,586.5 L722.5,585.9 L724.5,585.3 L726.5,584.7 L728.5,584.3 L730.5,583.9 L732.5,583.7 L734.5,583.6 L736.5,583.6 L738.5,583.8 L740.5,584 L742.5,584.2 L744.5,584.4 L746.5,584.6 L748.5,584.9 L750.5,585.2 L752.5,585.5 L754.5,585.8 L756.5,586.1 L758.5,586.5 L760.5,586.8 L762.5,587.2 L764.5,587.5 L766.5,587.9 L768.5,588.3 L770.5,588.7 L772.5,589.1 L774.5,589.5 L776.5,589.9 L778.5,590.3 L780.5,590.7 L782.5,591.2 L784.5,591.6 L786.5,592.1 L788.5,592.6 L790.5,593.1 L792.5,593.7 L794.5,594.4 L796.5,595.3 L798.5,596.5 L800.5,597.8 L802.5,599.3 L804.5,600.9 L806.5,602.7 L808.5,604.5 L810.5,606.2 L812.5,608 L814.5,609.6 L816.5,611.1 L818.5,612.5 L820.5,613.7 L822.5,614.8 L824.5,615.6 L826.5,616.2 L828.5,616.6 L830.5,616.9 L832.5,617 L834.5,617.1 L836.5,617.1 L838.5,617 L840.5,616.9 L842.5,616.8 L844.5,616.7 L846.5,616.6 L848.5,616.5 L850.5,616.5 L852.5,616.6 L854.5,616.7 L856.5,616.8 L858.5,617 L860.5,617.2 L862.5,617.4 L864.5,617.6 L866.5,617.9 L868.5,618.1 L870.5,618.4 L872.5,618.6 L874.5,618.8 L876.5,619 L878.5,619.2 L880.5,619.4 L882.5,619.5 L884.5,619.7 L886.5,619.8 L888.5,619.8 L890.5,619.9 L892.5,620 L894.5,620 L896.5,620 L898.5,620.1 L900.5,620.1 L902.5,620.1 L904.5,620.1 L906.5,620.1 L908.5,620.1 L910.5,620.2 L912.5,620.2 L914.5,620.2 L916.5,620.2 L918.5,620.3 L920.5,620.3 L922.5,620.3 L924.5,620.3 L926.5,620.3 L928.5,620.3 L930.5,620.3 L932.5,620.3 L934.5,620.4 L936.5,620.5 L938.5,620.6 L940.5,620.7 L942.5,620.8 L944.5,621 L946.5,621.2 L948.5,621.5 L950.5,621.7 L952.5,622 L954.5,622.3 L956.5,622.6 L958.5,622.9 L960.5,623.3 L962.5,623.6 L964.5,623.9 L966.5,624.3 L968.5,624.6 L970.5,624.9 L971.7,625.1" fill="none" stroke="#222" stroke-width="2.3" stroke-linejoin="round"/>
<path d="M607.8,625.1 L609.8,624.9 L611.8,624.7 L613.8,624.5 L615.8,624.3 L617.8,624.2 L619.8,623.9 L621.8,623.7 L623.8,623.4 L625.8,623.1 L627.8,622.7 L629.8,622.2 L631.8,621.5 L633.8,620.7 L635.8,619.7 L637.8,618.5 L639.8,617 L641.8,615.3 L643.8,613.4 L645.8,611.3 L647.8,609.2 L649.8,607.1 L651.8,605.1 L653.8,603.1 L655.8,601.1 L657.8,599.1 L659.8,597.1 L661.8,595 L663.8,592.9 L665.8,590.9 L667.8,589 L669.8,587.2 L671.8,585.6 L673.8,584.1 L675.8,582.7 L677.8,581.4 L679.8,580.2 L681.8,579 L683.8,577.8 L685.8,576.7 L687.8,575.7 L689.8,574.7 L691.8,573.8 L693.8,573 L695.8,572.3 L697.8,571.8 L699.8,571.4 L701.8,571.2 L703.8,571.2 L705.8,571.5 L707.8,572 L709.8,572.8 L711.8,573.6 L713.8,574.6 L715.8,575.7 L717.8,576.9 L719.8,578.2 L721.8,579.8 L723.8,581.5 L725.8,583.3 L727.8,585.1 L729.8,586.8 L731.8,588.5 L733.8,590 L735.8,591.4 L737.8,592.8 L739.8,594.2 L741.8,595.5 L743.8,596.8 L745.8,598.1 L747.8,599.3 L749.8,600.5 L751.8,601.6 L753.8,602.6 L755.8,603.6 L757.8,604.5 L759.8,605.3 L761.8,606.1 L763.8,606.9 L765.8,607.6 L767.8,608.3 L769.8,609 L771.8,609.7 L773.8,610.3 L775.8,610.9 L777.8,611.5 L779.8,612.1 L781.8,612.6 L783.8,613.1 L785.8,613.6 L787.8,614.1 L789.8,614.7 L791.8,615.2 L793.8,615.7 L795.8,616.3 L797.8,616.8 L799.8,617.4 L801.8,617.9 L803.8,618.4 L805.8,618.9 L807.8,619.4 L809.8,620 L811.8,620.5 L813.8,621.1 L815.8,621.5 L817.8,622 L819.8,622.4 L821.8,622.7 L823.8,623 L825.8,623.3 L827.8,623.5 L829.8,623.6 L831.8,623.8 L833.8,623.9 L835.8,624 L837.8,624.1 L839.8,624.2 L841.8,624.3 L843.8,624.3 L845.8,624.4 L847.8,624.4 L849.8,624.5 L851.8,624.5 L853.8,624.5 L855.8,624.5 L857.8,624.5 L859.8,624.5 L861.8,624.5 L863.8,624.4 L865.8,624.4 L867.8,624.3 L869.8,624.3 L871.8,624.2 L873.8,624.1 L875.8,624 L877.8,623.9 L879.8,623.7 L881.8,623.6 L883.8,623.5 L885.8,623.3 L887.8,623.1 L889.8,622.9 L891.8,622.7 L893.8,622.5 L895.8,622.3 L897.8,622.1 L899.8,621.9 L901.8,621.6 L903.8,621.4 L905.8,621.2 L907.8,621 L909.8,620.7 L911.8,620.5 L913.8,620.3 L915.8,620.1 L917.8,619.9 L919.8,619.8 L921.8,619.7 L923.8,619.6 L925.8,619.5 L927.8,619.4 L929.8,619.5 L931.8,619.5 L933.8,619.7 L935.8,619.8 L937.8,620.1 L939.8,620.3 L941.8,620.5 L943.8,620.8 L945.8,621 L947.8,621.3 L949.8,621.6 L951.8,621.9 L953.8,622.2 L955.8,622.5 L957.8,622.8 L959.8,623.2 L961.8,623.5 L963.8,623.8 L965.8,624.1 L967.8,624.5 L969.8,624.8 L971.7,625.1 L971.7,625.1 L607.8,625.1 Z" fill="rgba(247,102,13,0.73)"/>
<path d="M607.8,625.1 L609.8,624.9 L611.8,624.7 L613.8,624.5 L615.8,624.3 L617.8,624.2 L619.8,623.9 L621.8,623.7 L623.8,623.4 L625.8,623.1 L627.8,622.7 L629.8,622.2 L631.8,621.5 L633.8,620.7 L635.8,619.7 L637.8,618.5 L639.8,617 L641.8,615.3 L643.8,613.4 L645.8,611.3 L647.8,609.2 L649.8,607.1 L651.8,605.1 L653.8,603.1 L655.8,601.1 L657.8,599.1 L659.8,597.1 L661.8,595 L663.8,592.9 L665.8,590.9 L667.8,589 L669.8,587.2 L671.8,585.6 L673.8,584.1 L675.8,582.7 L677.8,581.4 L679.8,580.2 L681.8,579 L683.8,577.8 L685.8,576.7 L687.8,575.7 L689.8,574.7 L691.8,573.8 L693.8,573 L695.8,572.3 L697.8,571.8 L699.8,571.4 L701.8,571.2 L703.8,571.2 L705.8,571.5 L707.8,572 L709.8,572.8 L711.8,573.6 L713.8,574.6 L715.8,575.7 L717.8,576.9 L719.8,578.2 L721.8,579.8 L723.8,581.5 L725.8,583.3 L727.8,585.1 L729.8,586.8 L731.8,588.5 L733.8,590 L735.8,591.4 L737.8,592.8 L739.8,594.2 L741.8,595.5 L743.8,596.8 L745.8,598.1 L747.8,599.3 L749.8,600.5 L751.8,601.6 L753.8,602.6 L755.8,603.6 L757.8,604.5 L759.8,605.3 L761.8,606.1 L763.8,606.9 L765.8,607.6 L767.8,608.3 L769.8,609 L771.8,609.7 L773.8,610.3 L775.8,610.9 L777.8,611.5 L779.8,612.1 L781.8,612.6 L783.8,613.1 L785.8,613.6 L787.8,614.1 L789.8,614.7 L791.8,615.2 L793.8,615.7 L795.8,616.3 L797.8,616.8 L799.8,617.4 L801.8,617.9 L803.8,618.4 L805.8,618.9 L807.8,619.4 L809.8,620 L811.8,620.5 L813.8,621.1 L815.8,621.5 L817.8,622 L819.8,622.4 L821.8,622.7 L823.8,623 L825.8,623.3 L827.8,623.5 L829.8,623.6 L831.8,623.8 L833.8,623.9 L835.8,624 L837.8,624.1 L839.8,624.2 L841.8,624.3 L843.8,624.3 L845.8,624.4 L847.8,624.4 L849.8,624.5 L851.8,624.5 L853.8,624.5 L855.8,624.5 L857.8,624.5 L859.8,624.5 L861.8,624.5 L863.8,624.4 L865.8,624.4 L867.8,624.3 L869.8,624.3 L871.8,624.2 L873.8,624.1 L875.8,624 L877.8,623.9 L879.8,623.7 L881.8,623.6 L883.8,623.5 L885.8,623.3 L887.8,623.1 L889.8,622.9 L891.8,622.7 L893.8,622.5 L895.8,622.3 L897.8,622.1 L899.8,621.9 L901.8,621.6 L903.8,621.4 L905.8,621.2 L907.8,621 L909.8,620.7 L911.8,620.5 L913.8,620.3 L915.8,620.1 L917.8,619.9 L919.8,619.8 L921.8,619.7 L923.8,619.6 L925.8,619.5 L927.8,619.4 L929.8,619.5 L931.8,619.5 L933.8,619.7 L935.8,619.8 L937.8,620.1 L939.8,620.3 L941.8,620.5 L943.8,620.8 L945.8,621 L947.8,621.3 L949.8,621.6 L951.8,621.9 L953.8,622.2 L955.8,622.5 L957.8,622.8 L959.8,623.2 L961.8,623.5 L963.8,623.8 L965.8,624.1 L967.8,624.5 L969.8,624.8 L971.7,625.1" fill="none" stroke="#000" stroke-width="3" stroke-linejoin="round" stroke-linecap="round"/>
<g fill="rgba(0,0,0,0.36)"><ellipse cx="727.5" cy="615.5" rx="4.1" ry="3.2"/><ellipse cx="692.9" cy="608.8" rx="4.1" ry="3.2"/><ellipse cx="680.2" cy="619.4" rx="4.1" ry="3.2"/><ellipse cx="791.3" cy="622.5" rx="4.1" ry="3.2"/><ellipse cx="654.7" cy="613.8" rx="4.1" ry="3.2"/><ellipse cx="691.4" cy="608.2" rx="4.1" ry="3.2"/><ellipse cx="714.6" cy="584.4" rx="4.1" ry="3.2"/><ellipse cx="675.2" cy="621" rx="4.1" ry="3.2"/><ellipse cx="687.1" cy="582.6" rx="4.1" ry="3.2"/><ellipse cx="725.3" cy="610.7" rx="4.1" ry="3.2"/><ellipse cx="706.5" cy="584.5" rx="4.1" ry="3.2"/><ellipse cx="647.3" cy="614.8" rx="4.1" ry="3.2"/><ellipse cx="699.1" cy="580.6" rx="4.1" ry="3.2"/><ellipse cx="720.9" cy="585.9" rx="4.1" ry="3.2"/><ellipse cx="696.7" cy="580.2" rx="4.1" ry="3.2"/><ellipse cx="691.1" cy="585.3" rx="4.1" ry="3.2"/><ellipse cx="746.2" cy="620" rx="4.1" ry="3.2"/><ellipse cx="674.9" cy="590.7" rx="4.1" ry="3.2"/><ellipse cx="702.8" cy="593.3" rx="4.1" ry="3.2"/><ellipse cx="689.1" cy="601" rx="4.1" ry="3.2"/><ellipse cx="679.1" cy="615.2" rx="4.1" ry="3.2"/><ellipse cx="797.8" cy="622.8" rx="4.1" ry="3.2"/><ellipse cx="671.4" cy="616" rx="4.1" ry="3.2"/><ellipse cx="690.9" cy="589.1" rx="4.1" ry="3.2"/><ellipse cx="723" cy="595.7" rx="4.1" ry="3.2"/><ellipse cx="727.1" cy="622.1" rx="4.1" ry="3.2"/><ellipse cx="666.2" cy="603.8" rx="4.1" ry="3.2"/><ellipse cx="721.6" cy="617.1" rx="4.1" ry="3.2"/><ellipse cx="676.7" cy="603.4" rx="4.1" ry="3.2"/><ellipse cx="675.9" cy="592.5" rx="4.1" ry="3.2"/><ellipse cx="731.3" cy="614.8" rx="4.1" ry="3.2"/><ellipse cx="666.3" cy="605.1" rx="4.1" ry="3.2"/><ellipse cx="693.6" cy="612.8" rx="4.1" ry="3.2"/><ellipse cx="663.3" cy="599.5" rx="4.1" ry="3.2"/><ellipse cx="695.3" cy="607.5" rx="4.1" ry="3.2"/><ellipse cx="710.1" cy="589.9" rx="4.1" ry="3.2"/><ellipse cx="705.3" cy="608.3" rx="4.1" ry="3.2"/><ellipse cx="686.2" cy="591" rx="4.1" ry="3.2"/><ellipse cx="694" cy="598.8" rx="4.1" ry="3.2"/><ellipse cx="669.8" cy="608.9" rx="4.1" ry="3.2"/><ellipse cx="750.8" cy="618.3" rx="4.1" ry="3.2"/><ellipse cx="762.9" cy="614" rx="4.1" ry="3.2"/><ellipse cx="742.7" cy="605.4" rx="4.1" ry="3.2"/><ellipse cx="694.1" cy="592.1" rx="4.1" ry="3.2"/><ellipse cx="703.4" cy="613.1" rx="4.1" ry="3.2"/><ellipse cx="636.2" cy="624" rx="4.1" ry="3.2"/><ellipse cx="770.1" cy="621.9" rx="4.1" ry="3.2"/><ellipse cx="664.9" cy="599.8" rx="4.1" ry="3.2"/><ellipse cx="732.3" cy="607.9" rx="4.1" ry="3.2"/><ellipse cx="712" cy="603.8" rx="4.1" ry="3.2"/><ellipse cx="727.5" cy="621.7" rx="4.1" ry="3.2"/><ellipse cx="699.3" cy="589.1" rx="4.1" ry="3.2"/><ellipse cx="708.2" cy="580.9" rx="4.1" ry="3.2"/><ellipse cx="673.8" cy="593.7" rx="4.1" ry="3.2"/><ellipse cx="726.8" cy="603.7" rx="4.1" ry="3.2"/><ellipse cx="694" cy="591.4" rx="4.1" ry="3.2"/><ellipse cx="693.7" cy="580.9" rx="4.1" ry="3.2"/><ellipse cx="771.1" cy="623" rx="4.1" ry="3.2"/><ellipse cx="804.3" cy="623.5" rx="4.1" ry="3.2"/><ellipse cx="708.4" cy="605.9" rx="4.1" ry="3.2"/><ellipse cx="666.3" cy="623.8" rx="4.1" ry="3.2"/><ellipse cx="648" cy="618.2" rx="4.1" ry="3.2"/><ellipse cx="686.9" cy="600.8" rx="4.1" ry="3.2"/><ellipse cx="655" cy="614.8" rx="4.1" ry="3.2"/><ellipse cx="637" cy="623.8" rx="4.1" ry="3.2"/><ellipse cx="685.4" cy="604.1" rx="4.1" ry="3.2"/></g>
<path d="M624.5,698.6 L626.5,697.7 L628.5,696.8 L630.5,695.9 L632.5,695 L634.5,694.1 L636.5,693.2 L638.5,692.3 L640.5,691.4 L642.5,690.5 L644.5,689.6 L646.5,688.7 L648.5,687.8 L650.5,686.9 L652.5,686 L654.5,685 L656.5,684.1 L658.5,683.1 L660.5,682.2 L662.5,681.2 L664.5,680.1 L666.5,679 L668.5,677.9 L670.5,676.7 L672.5,675.4 L674.5,674.1 L676.5,672.7 L678.5,671.3 L680.5,669.9 L682.5,668.6 L684.5,667.3 L686.5,666 L688.5,664.8 L690.5,663.5 L692.5,662.2 L694.5,660.9 L696.5,659.7 L698.5,658.4 L700.5,657.2 L702.5,656.1 L704.5,655 L706.5,654.1 L708.5,653.2 L710.5,652.6 L712.5,652.2 L714.5,652.1 L716.5,652.3 L718.5,652.7 L720.5,653.3 L722.5,653.9 L724.5,654.6 L726.5,655.3 L728.5,656.1 L730.5,657 L732.5,657.9 L734.5,658.8 L736.5,659.8 L738.5,660.8 L740.5,661.8 L742.5,662.9 L744.5,664 L746.5,665.3 L748.5,666.7 L750.5,668.1 L752.5,669.4 L754.5,670.8 L756.5,672 L758.5,673 L760.5,673.9 L762.5,674.7 L764.5,675.3 L766.5,675.9 L768.5,676.4 L770.5,676.8 L772.5,677.2 L774.5,677.6 L776.5,678 L778.5,678.3 L780.5,678.5 L782.5,678.8 L784.5,679 L786.5,679.2 L788.5,679.4 L790.5,679.5 L792.5,679.5 L794.5,679.3 L796.5,679 L798.5,678.6 L800.5,678.2 L802.5,677.8 L804.5,677.6 L806.5,677.5 L808.5,677.6 L810.5,677.9 L812.5,678.2 L814.5,678.7 L816.5,679.1 L818.5,679.7 L820.5,680.2 L822.5,680.8 L824.5,681.4 L826.5,682 L828.5,682.6 L830.5,683.3 L832.5,683.9 L834.5,684.5 L836.5,685.2 L838.5,685.9 L840.5,686.6 L842.5,687.4 L844.5,688.2 L846.5,688.9 L848.5,689.7 L850.5,690.5 L852.5,691.2 L854.5,691.8 L856.5,692.4 L858.5,693 L860.5,693.4 L862.5,693.8 L864.5,694.1 L866.5,694.4 L868.5,694.6 L870.5,694.7 L872.5,694.8 L874.5,694.9 L876.5,695 L878.5,695.1 L880.5,695.2 L882.5,695.3 L884.5,695.4 L886.5,695.5 L888.5,695.6 L890.5,695.7 L892.5,695.8 L894.5,695.9 L896.5,696 L898.5,696.1 L900.5,696.2 L902.5,696.3 L904.5,696.4 L906.5,696.5 L908.5,696.6 L910.5,696.7 L912.5,696.8 L914.5,696.9 L916.5,697 L918.5,697 L920.5,697.1 L922.5,697.2 L924.5,697.3 L926.5,697.3 L928.5,697.4 L930.5,697.5 L932.5,697.5 L934.5,697.6 L936.5,697.7 L938.5,697.7 L940.5,697.8 L942.5,697.8 L944.5,697.9 L946.5,697.9 L948.5,698 L950.5,698 L952.5,698.1 L954.5,698.1 L956.5,698.2 L958.5,698.3 L960.5,698.3 L962.5,698.4 L964.5,698.4 L966.5,698.5 L968.5,698.5 L970.5,698.6 L971.7,698.6 L971.7,698.6 L624.5,698.6 Z" fill="rgba(123,104,238,0.86)"/>
<path d="M624.5,698.6 L626.5,697.7 L628.5,696.8 L630.5,695.9 L632.5,695 L634.5,694.1 L636.5,693.2 L638.5,692.3 L640.5,691.4 L642.5,690.5 L644.5,689.6 L646.5,688.7 L648.5,687.8 L650.5,686.9 L652.5,686 L654.5,685 L656.5,684.1 L658.5,683.1 L660.5,682.2 L662.5,681.2 L664.5,680.1 L666.5,679 L668.5,677.9 L670.5,676.7 L672.5,675.4 L674.5,674.1 L676.5,672.7 L678.5,671.3 L680.5,669.9 L682.5,668.6 L684.5,667.3 L686.5,666 L688.5,664.8 L690.5,663.5 L692.5,662.2 L694.5,660.9 L696.5,659.7 L698.5,658.4 L700.5,657.2 L702.5,656.1 L704.5,655 L706.5,654.1 L708.5,653.2 L710.5,652.6 L712.5,652.2 L714.5,652.1 L716.5,652.3 L718.5,652.7 L720.5,653.3 L722.5,653.9 L724.5,654.6 L726.5,655.3 L728.5,656.1 L730.5,657 L732.5,657.9 L734.5,658.8 L736.5,659.8 L738.5,660.8 L740.5,661.8 L742.5,662.9 L744.5,664 L746.5,665.3 L748.5,666.7 L750.5,668.1 L752.5,669.4 L754.5,670.8 L756.5,672 L758.5,673 L760.5,673.9 L762.5,674.7 L764.5,675.3 L766.5,675.9 L768.5,676.4 L770.5,676.8 L772.5,677.2 L774.5,677.6 L776.5,678 L778.5,678.3 L780.5,678.5 L782.5,678.8 L784.5,679 L786.5,679.2 L788.5,679.4 L790.5,679.5 L792.5,679.5 L794.5,679.3 L796.5,679 L798.5,678.6 L800.5,678.2 L802.5,677.8 L804.5,677.6 L806.5,677.5 L808.5,677.6 L810.5,677.9 L812.5,678.2 L814.5,678.7 L816.5,679.1 L818.5,679.7 L820.5,680.2 L822.5,680.8 L824.5,681.4 L826.5,682 L828.5,682.6 L830.5,683.3 L832.5,683.9 L834.5,684.5 L836.5,685.2 L838.5,685.9 L840.5,686.6 L842.5,687.4 L844.5,688.2 L846.5,688.9 L848.5,689.7 L850.5,690.5 L852.5,691.2 L854.5,691.8 L856.5,692.4 L858.5,693 L860.5,693.4 L862.5,693.8 L864.5,694.1 L866.5,694.4 L868.5,694.6 L870.5,694.7 L872.5,694.8 L874.5,694.9 L876.5,695 L878.5,695.1 L880.5,695.2 L882.5,695.3 L884.5,695.4 L886.5,695.5 L888.5,695.6 L890.5,695.7 L892.5,695.8 L894.5,695.9 L896.5,696 L898.5,696.1 L900.5,696.2 L902.5,696.3 L904.5,696.4 L906.5,696.5 L908.5,696.6 L910.5,696.7 L912.5,696.8 L914.5,696.9 L916.5,697 L918.5,697 L920.5,697.1 L922.5,697.2 L924.5,697.3 L926.5,697.3 L928.5,697.4 L930.5,697.5 L932.5,697.5 L934.5,697.6 L936.5,697.7 L938.5,697.7 L940.5,697.8 L942.5,697.8 L944.5,697.9 L946.5,697.9 L948.5,698 L950.5,698 L952.5,698.1 L954.5,698.1 L956.5,698.2 L958.5,698.3 L960.5,698.3 L962.5,698.4 L964.5,698.4 L966.5,698.5 L968.5,698.5 L970.5,698.6 L971.7,698.6" fill="none" stroke="#222" stroke-width="2.3" stroke-linejoin="round"/>
<path d="M606.8,698.6 L608.8,698.5 L610.8,698.4 L612.8,698.3 L614.8,698.2 L616.8,698.2 L618.8,698.1 L620.8,697.9 L622.8,697.7 L624.8,697.4 L626.8,697 L628.8,696.5 L630.8,695.9 L632.8,695 L634.8,693.8 L636.8,692.3 L638.8,690.3 L640.8,688.1 L642.8,685.5 L644.8,682.6 L646.8,679.6 L648.8,676.5 L650.8,673.4 L652.8,670.4 L654.8,667.6 L656.8,664.8 L658.8,661.9 L660.8,658.9 L662.8,655.9 L664.8,653.1 L666.8,650.5 L668.8,648.2 L670.8,646 L672.8,644.1 L674.8,642.3 L676.8,640.8 L678.8,639.4 L680.8,638.3 L682.8,637.5 L684.8,637.1 L686.8,637.1 L688.8,637.4 L690.8,638.2 L692.8,639.2 L694.8,640.4 L696.8,641.8 L698.8,643.3 L700.8,644.8 L702.8,646.5 L704.8,648.4 L706.8,650.5 L708.8,652.7 L710.8,655 L712.8,657.1 L714.8,659 L716.8,660.7 L718.8,662.2 L720.8,663.4 L722.8,664.5 L724.8,665.5 L726.8,666.4 L728.8,667.2 L730.8,668 L732.8,668.8 L734.8,669.4 L736.8,670 L738.8,670.6 L740.8,671.1 L742.8,671.6 L744.8,672.1 L746.8,672.7 L748.8,673.3 L750.8,674 L752.8,674.9 L754.8,675.8 L756.8,676.8 L758.8,677.9 L760.8,679.1 L762.8,680.3 L764.8,681.5 L766.8,682.7 L768.8,683.8 L770.8,684.8 L772.8,685.8 L774.8,686.7 L776.8,687.6 L778.8,688.4 L780.8,689.2 L782.8,689.9 L784.8,690.6 L786.8,691.3 L788.8,691.9 L790.8,692.5 L792.8,693.1 L794.8,693.6 L796.8,694.1 L798.8,694.4 L800.8,694.7 L802.8,695 L804.8,695.3 L806.8,695.6 L808.8,695.9 L810.8,696.1 L812.8,696.4 L814.8,696.7 L816.8,696.9 L818.8,697.1 L820.8,697.4 L822.8,697.6 L824.8,697.7 L826.8,697.9 L828.8,698 L830.8,698.1 L832.8,698.2 L834.8,698.2 L836.8,698.1 L838.8,698 L840.8,697.8 L842.8,697.6 L844.8,697.4 L846.8,697.1 L848.8,696.8 L850.8,696.5 L852.8,696.3 L854.8,696 L856.8,695.8 L858.8,695.6 L860.8,695.4 L862.8,695.3 L864.8,695.3 L866.8,695.3 L868.8,695.4 L870.8,695.5 L872.8,695.7 L874.8,695.9 L876.8,696.1 L878.8,696.3 L880.8,696.5 L882.8,696.7 L884.8,696.8 L886.8,697 L888.8,697.1 L890.8,697.1 L892.8,697.2 L894.8,697.2 L896.8,697.2 L898.8,697.2 L900.8,697.1 L902.8,697.1 L904.8,697 L906.8,697 L908.8,696.9 L910.8,696.8 L912.8,696.8 L914.8,696.7 L916.8,696.6 L918.8,696.5 L920.8,696.5 L922.8,696.4 L924.8,696.4 L926.8,696.3 L928.8,696.3 L930.8,696.2 L932.8,696.2 L934.8,696.2 L936.8,696.2 L938.8,696.2 L940.8,696.3 L942.8,696.3 L944.8,696.4 L946.8,696.5 L948.8,696.7 L950.8,696.8 L952.8,696.9 L954.8,697.1 L956.8,697.3 L958.8,697.4 L960.8,697.6 L962.8,697.8 L964.8,698 L966.8,698.2 L968.8,698.3 L970.8,698.5 L971.7,698.6 L971.7,698.6 L606.8,698.6 Z" fill="rgba(247,102,13,0.73)"/>
<path d="M606.8,698.6 L608.8,698.5 L610.8,698.4 L612.8,698.3 L614.8,698.2 L616.8,698.2 L618.8,698.1 L620.8,697.9 L622.8,697.7 L624.8,697.4 L626.8,697 L628.8,696.5 L630.8,695.9 L632.8,695 L634.8,693.8 L636.8,692.3 L638.8,690.3 L640.8,688.1 L642.8,685.5 L644.8,682.6 L646.8,679.6 L648.8,676.5 L650.8,673.4 L652.8,670.4 L654.8,667.6 L656.8,664.8 L658.8,661.9 L660.8,658.9 L662.8,655.9 L664.8,653.1 L666.8,650.5 L668.8,648.2 L670.8,646 L672.8,644.1 L674.8,642.3 L676.8,640.8 L678.8,639.4 L680.8,638.3 L682.8,637.5 L684.8,637.1 L686.8,637.1 L688.8,637.4 L690.8,638.2 L692.8,639.2 L694.8,640.4 L696.8,641.8 L698.8,643.3 L700.8,644.8 L702.8,646.5 L704.8,648.4 L706.8,650.5 L708.8,652.7 L710.8,655 L712.8,657.1 L714.8,659 L716.8,660.7 L718.8,662.2 L720.8,663.4 L722.8,664.5 L724.8,665.5 L726.8,666.4 L728.8,667.2 L730.8,668 L732.8,668.8 L734.8,669.4 L736.8,670 L738.8,670.6 L740.8,671.1 L742.8,671.6 L744.8,672.1 L746.8,672.7 L748.8,673.3 L750.8,674 L752.8,674.9 L754.8,675.8 L756.8,676.8 L758.8,677.9 L760.8,679.1 L762.8,680.3 L764.8,681.5 L766.8,682.7 L768.8,683.8 L770.8,684.8 L772.8,685.8 L774.8,686.7 L776.8,687.6 L778.8,688.4 L780.8,689.2 L782.8,689.9 L784.8,690.6 L786.8,691.3 L788.8,691.9 L790.8,692.5 L792.8,693.1 L794.8,693.6 L796.8,694.1 L798.8,694.4 L800.8,694.7 L802.8,695 L804.8,695.3 L806.8,695.6 L808.8,695.9 L810.8,696.1 L812.8,696.4 L814.8,696.7 L816.8,696.9 L818.8,697.1 L820.8,697.4 L822.8,697.6 L824.8,697.7 L826.8,697.9 L828.8,698 L830.8,698.1 L832.8,698.2 L834.8,698.2 L836.8,698.1 L838.8,698 L840.8,697.8 L842.8,697.6 L844.8,697.4 L846.8,697.1 L848.8,696.8 L850.8,696.5 L852.8,696.3 L854.8,696 L856.8,695.8 L858.8,695.6 L860.8,695.4 L862.8,695.3 L864.8,695.3 L866.8,695.3 L868.8,695.4 L870.8,695.5 L872.8,695.7 L874.8,695.9 L876.8,696.1 L878.8,696.3 L880.8,696.5 L882.8,696.7 L884.8,696.8 L886.8,697 L888.8,697.1 L890.8,697.1 L892.8,697.2 L894.8,697.2 L896.8,697.2 L898.8,697.2 L900.8,697.1 L902.8,697.1 L904.8,697 L906.8,697 L908.8,696.9 L910.8,696.8 L912.8,696.8 L914.8,696.7 L916.8,696.6 L918.8,696.5 L920.8,696.5 L922.8,696.4 L924.8,696.4 L926.8,696.3 L928.8,696.3 L930.8,696.2 L932.8,696.2 L934.8,696.2 L936.8,696.2 L938.8,696.2 L940.8,696.3 L942.8,696.3 L944.8,696.4 L946.8,696.5 L948.8,696.7 L950.8,696.8 L952.8,696.9 L954.8,697.1 L956.8,697.3 L958.8,697.4 L960.8,697.6 L962.8,697.8 L964.8,698 L966.8,698.2 L968.8,698.3 L970.8,698.5 L971.7,698.6" fill="none" stroke="#000" stroke-width="3" stroke-linejoin="round" stroke-linecap="round"/>
<g fill="rgba(0,0,0,0.36)"><ellipse cx="736.4" cy="681.4" rx="4.1" ry="3.2"/><ellipse cx="722.5" cy="676.1" rx="4.1" ry="3.2"/><ellipse cx="692.6" cy="673.7" rx="4.1" ry="3.2"/><ellipse cx="679.1" cy="647.3" rx="4.1" ry="3.2"/><ellipse cx="686.6" cy="676.7" rx="4.1" ry="3.2"/><ellipse cx="670" cy="669.5" rx="4.1" ry="3.2"/><ellipse cx="664.1" cy="694.7" rx="4.1" ry="3.2"/><ellipse cx="674.6" cy="687.2" rx="4.1" ry="3.2"/><ellipse cx="769.3" cy="694.5" rx="4.1" ry="3.2"/><ellipse cx="703.9" cy="694.4" rx="4.1" ry="3.2"/><ellipse cx="733.6" cy="688.6" rx="4.1" ry="3.2"/><ellipse cx="856.1" cy="697.6" rx="4.1" ry="3.2"/><ellipse cx="670.6" cy="659" rx="4.1" ry="3.2"/><ellipse cx="703.1" cy="682.1" rx="4.1" ry="3.2"/><ellipse cx="695.8" cy="683.1" rx="4.1" ry="3.2"/><ellipse cx="657.5" cy="684.6" rx="4.1" ry="3.2"/><ellipse cx="664.7" cy="665.9" rx="4.1" ry="3.2"/><ellipse cx="876.2" cy="697.6" rx="4.1" ry="3.2"/><ellipse cx="700.5" cy="657.9" rx="4.1" ry="3.2"/><ellipse cx="664.8" cy="670.2" rx="4.1" ry="3.2"/><ellipse cx="701.6" cy="682.4" rx="4.1" ry="3.2"/><ellipse cx="648.2" cy="696.5" rx="4.1" ry="3.2"/><ellipse cx="702.9" cy="697.2" rx="4.1" ry="3.2"/><ellipse cx="652.2" cy="692.3" rx="4.1" ry="3.2"/><ellipse cx="736.4" cy="685.8" rx="4.1" ry="3.2"/><ellipse cx="706.6" cy="676" rx="4.1" ry="3.2"/><ellipse cx="688.4" cy="651.3" rx="4.1" ry="3.2"/><ellipse cx="782.2" cy="695.3" rx="4.1" ry="3.2"/><ellipse cx="743.3" cy="678.2" rx="4.1" ry="3.2"/><ellipse cx="641.5" cy="697.3" rx="4.1" ry="3.2"/><ellipse cx="688" cy="669.3" rx="4.1" ry="3.2"/><ellipse cx="754.5" cy="684" rx="4.1" ry="3.2"/><ellipse cx="720" cy="697.3" rx="4.1" ry="3.2"/><ellipse cx="691.1" cy="661.1" rx="4.1" ry="3.2"/><ellipse cx="691.7" cy="696.7" rx="4.1" ry="3.2"/><ellipse cx="662.7" cy="669.3" rx="4.1" ry="3.2"/><ellipse cx="730.9" cy="678.4" rx="4.1" ry="3.2"/><ellipse cx="726.6" cy="677.9" rx="4.1" ry="3.2"/><ellipse cx="941.4" cy="697.6" rx="4.1" ry="3.2"/><ellipse cx="751.5" cy="683" rx="4.1" ry="3.2"/><ellipse cx="674.4" cy="691.2" rx="4.1" ry="3.2"/><ellipse cx="685.8" cy="689.6" rx="4.1" ry="3.2"/><ellipse cx="700.6" cy="667.6" rx="4.1" ry="3.2"/><ellipse cx="732.5" cy="676.3" rx="4.1" ry="3.2"/><ellipse cx="671" cy="651.8" rx="4.1" ry="3.2"/><ellipse cx="661.4" cy="663.9" rx="4.1" ry="3.2"/><ellipse cx="738" cy="676.3" rx="4.1" ry="3.2"/><ellipse cx="671.5" cy="695.9" rx="4.1" ry="3.2"/><ellipse cx="674.4" cy="673.6" rx="4.1" ry="3.2"/><ellipse cx="676.7" cy="655.2" rx="4.1" ry="3.2"/><ellipse cx="844.6" cy="697.6" rx="4.1" ry="3.2"/><ellipse cx="728.3" cy="684.9" rx="4.1" ry="3.2"/><ellipse cx="776.1" cy="696.6" rx="4.1" ry="3.2"/><ellipse cx="711.3" cy="684.9" rx="4.1" ry="3.2"/><ellipse cx="739.6" cy="687.7" rx="4.1" ry="3.2"/><ellipse cx="770.6" cy="692.9" rx="4.1" ry="3.2"/><ellipse cx="736.7" cy="679.1" rx="4.1" ry="3.2"/><ellipse cx="749.6" cy="691.3" rx="4.1" ry="3.2"/><ellipse cx="696.4" cy="654.3" rx="4.1" ry="3.2"/><ellipse cx="677" cy="666.4" rx="4.1" ry="3.2"/><ellipse cx="677.4" cy="690.9" rx="4.1" ry="3.2"/><ellipse cx="734.6" cy="684.8" rx="4.1" ry="3.2"/><ellipse cx="715.1" cy="674" rx="4.1" ry="3.2"/><ellipse cx="677.4" cy="656.1" rx="4.1" ry="3.2"/><ellipse cx="702" cy="693.5" rx="4.1" ry="3.2"/><ellipse cx="776.4" cy="693.3" rx="4.1" ry="3.2"/></g>
<path d="M618.6,773 L620.6,772.3 L622.6,771.6 L624.6,770.9 L626.6,770.2 L628.6,769.6 L630.6,768.9 L632.6,768.2 L634.6,767.4 L636.6,766.7 L638.6,765.9 L640.6,765.1 L642.6,764.3 L644.6,763.3 L646.6,762.3 L648.6,761.3 L650.6,760.2 L652.6,759 L654.6,757.8 L656.6,756.5 L658.6,755.2 L660.6,753.9 L662.6,752.6 L664.6,751.3 L666.6,749.9 L668.6,748.5 L670.6,747.1 L672.6,745.6 L674.6,744.2 L676.6,742.9 L678.6,741.6 L680.6,740.3 L682.6,738.9 L684.6,737.4 L686.6,735.9 L688.6,734.5 L690.6,733.3 L692.6,732.3 L694.6,731.6 L696.6,731 L698.6,730.7 L700.6,730.6 L702.6,730.7 L704.6,730.8 L706.6,731.1 L708.6,731.4 L710.6,731.8 L712.6,732.2 L714.6,732.7 L716.6,733.2 L718.6,733.7 L720.6,734.2 L722.6,734.8 L724.6,735.3 L726.6,735.9 L728.6,736.4 L730.6,737 L732.6,737.5 L734.6,738 L736.6,738.6 L738.6,739.2 L740.6,739.8 L742.6,740.5 L744.6,741.2 L746.6,741.9 L748.6,742.7 L750.6,743.3 L752.6,744 L754.6,744.6 L756.6,745.3 L758.6,745.9 L760.6,746.5 L762.6,747.1 L764.6,747.7 L766.6,748.3 L768.6,748.9 L770.6,749.4 L772.6,750 L774.6,750.5 L776.6,751 L778.6,751.5 L780.6,751.9 L782.6,752.4 L784.6,752.8 L786.6,753.2 L788.6,753.5 L790.6,753.9 L792.6,754.2 L794.6,754.5 L796.6,754.8 L798.6,755 L800.6,755.2 L802.6,755.4 L804.6,755.6 L806.6,755.7 L808.6,755.8 L810.6,755.9 L812.6,756 L814.6,756 L816.6,756.1 L818.6,756.1 L820.6,756.2 L822.6,756.3 L824.6,756.5 L826.6,756.7 L828.6,757 L830.6,757.3 L832.6,757.6 L834.6,758 L836.6,758.4 L838.6,758.8 L840.6,759.2 L842.6,759.7 L844.6,760.2 L846.6,760.7 L848.6,761.2 L850.6,761.7 L852.6,762.3 L854.6,762.9 L856.6,763.5 L858.6,764.2 L860.6,764.8 L862.6,765.4 L864.6,766 L866.6,766.6 L868.6,767.1 L870.6,767.6 L872.6,768.1 L874.6,768.5 L876.6,768.9 L878.6,769.3 L880.6,769.7 L882.6,770.1 L884.6,770.5 L886.6,770.8 L888.6,771.2 L890.6,771.6 L892.6,772 L894.6,772.3 L896.6,772.4 L898.6,772.3 L900.6,772.2 L902.6,772.1 L904.6,771.8 L906.6,771.6 L908.6,771.3 L910.6,771.1 L912.6,770.8 L914.6,770.5 L916.6,770.3 L918.6,770.1 L920.6,769.9 L922.6,769.7 L924.6,769.5 L926.6,769.4 L928.6,769.3 L930.6,769.2 L932.6,769.2 L934.6,769.2 L936.6,769.2 L938.6,769.3 L940.6,769.3 L942.6,769.4 L944.6,769.5 L946.6,769.6 L948.6,769.7 L950.6,769.8 L952.6,769.9 L954.6,770 L956.6,770.1 L958.6,770.2 L960.6,770.4 L962.6,770.5 L964.6,770.7 L966.6,770.8 L968.6,771 L970.6,771.1 L972.6,771.7 L973,773 L973,773 L618.6,773 Z" fill="rgba(123,104,238,0.86)"/>
<path d="M618.6,773 L620.6,772.3 L622.6,771.6 L624.6,770.9 L626.6,770.2 L628.6,769.6 L630.6,768.9 L632.6,768.2 L634.6,767.4 L636.6,766.7 L638.6,765.9 L640.6,765.1 L642.6,764.3 L644.6,763.3 L646.6,762.3 L648.6,761.3 L650.6,760.2 L652.6,759 L654.6,757.8 L656.6,756.5 L658.6,755.2 L660.6,753.9 L662.6,752.6 L664.6,751.3 L666.6,749.9 L668.6,748.5 L670.6,747.1 L672.6,745.6 L674.6,744.2 L676.6,742.9 L678.6,741.6 L680.6,740.3 L682.6,738.9 L684.6,737.4 L686.6,735.9 L688.6,734.5 L690.6,733.3 L692.6,732.3 L694.6,731.6 L696.6,731 L698.6,730.7 L700.6,730.6 L702.6,730.7 L704.6,730.8 L706.6,731.1 L708.6,731.4 L710.6,731.8 L712.6,732.2 L714.6,732.7 L716.6,733.2 L718.6,733.7 L720.6,734.2 L722.6,734.8 L724.6,735.3 L726.6,735.9 L728.6,736.4 L730.6,737 L732.6,737.5 L734.6,738 L736.6,738.6 L738.6,739.2 L740.6,739.8 L742.6,740.5 L744.6,741.2 L746.6,741.9 L748.6,742.7 L750.6,743.3 L752.6,744 L754.6,744.6 L756.6,745.3 L758.6,745.9 L760.6,746.5 L762.6,747.1 L764.6,747.7 L766.6,748.3 L768.6,748.9 L770.6,749.4 L772.6,750 L774.6,750.5 L776.6,751 L778.6,751.5 L780.6,751.9 L782.6,752.4 L784.6,752.8 L786.6,753.2 L788.6,753.5 L790.6,753.9 L792.6,754.2 L794.6,754.5 L796.6,754.8 L798.6,755 L800.6,755.2 L802.6,755.4 L804.6,755.6 L806.6,755.7 L808.6,755.8 L810.6,755.9 L812.6,756 L814.6,756 L816.6,756.1 L818.6,756.1 L820.6,756.2 L822.6,756.3 L824.6,756.5 L826.6,756.7 L828.6,757 L830.6,757.3 L832.6,757.6 L834.6,758 L836.6,758.4 L838.6,758.8 L840.6,759.2 L842.6,759.7 L844.6,760.2 L846.6,760.7 L848.6,761.2 L850.6,761.7 L852.6,762.3 L854.6,762.9 L856.6,763.5 L858.6,764.2 L860.6,764.8 L862.6,765.4 L864.6,766 L866.6,766.6 L868.6,767.1 L870.6,767.6 L872.6,768.1 L874.6,768.5 L876.6,768.9 L878.6,769.3 L880.6,769.7 L882.6,770.1 L884.6,770.5 L886.6,770.8 L888.6,771.2 L890.6,771.6 L892.6,772 L894.6,772.3 L896.6,772.4 L898.6,772.3 L900.6,772.2 L902.6,772.1 L904.6,771.8 L906.6,771.6 L908.6,771.3 L910.6,771.1 L912.6,770.8 L914.6,770.5 L916.6,770.3 L918.6,770.1 L920.6,769.9 L922.6,769.7 L924.6,769.5 L926.6,769.4 L928.6,769.3 L930.6,769.2 L932.6,769.2 L934.6,769.2 L936.6,769.2 L938.6,769.3 L940.6,769.3 L942.6,769.4 L944.6,769.5 L946.6,769.6 L948.6,769.7 L950.6,769.8 L952.6,769.9 L954.6,770 L956.6,770.1 L958.6,770.2 L960.6,770.4 L962.6,770.5 L964.6,770.7 L966.6,770.8 L968.6,771 L970.6,771.1 L972.6,771.7 L973,773" fill="none" stroke="#222" stroke-width="2.3" stroke-linejoin="round"/>
<path d="M604.8,773 L606.8,772.7 L608.8,772.5 L610.8,772.2 L612.8,772 L614.8,771.7 L616.8,771.4 L618.8,771 L620.8,770.6 L622.8,770 L624.8,769.3 L626.8,768.5 L628.8,767.5 L630.8,766.3 L632.8,764.9 L634.8,763.2 L636.8,761.2 L638.8,758.6 L640.8,755.3 L642.8,751.3 L644.8,746.9 L646.8,742.6 L648.8,738.9 L650.8,735.5 L652.8,732.2 L654.8,729.1 L656.8,726.2 L658.8,723.5 L660.8,721.1 L662.8,718.9 L664.8,716.9 L666.8,715.2 L668.8,713.9 L670.8,713 L672.8,712.6 L674.8,712.7 L676.8,713.2 L678.8,714 L680.8,715.1 L682.8,716.3 L684.8,717.6 L686.8,719.2 L688.8,720.9 L690.8,722.8 L692.8,724.7 L694.8,726.6 L696.8,728.3 L698.8,730.1 L700.8,731.8 L702.8,733.6 L704.8,735.3 L706.8,736.9 L708.8,738.4 L710.8,739.7 L712.8,740.8 L714.8,741.8 L716.8,742.6 L718.8,743.3 L720.8,743.9 L722.8,744.4 L724.8,744.9 L726.8,745.4 L728.8,745.9 L730.8,746.4 L732.8,747 L734.8,747.6 L736.8,748.2 L738.8,748.8 L740.8,749.4 L742.8,750 L744.8,750.6 L746.8,751.2 L748.8,751.8 L750.8,752.4 L752.8,753 L754.8,753.6 L756.8,754.2 L758.8,754.8 L760.8,755.4 L762.8,756 L764.8,756.6 L766.8,757.2 L768.8,757.8 L770.8,758.4 L772.8,759 L774.8,759.6 L776.8,760.2 L778.8,760.9 L780.8,761.5 L782.8,762.1 L784.8,762.6 L786.8,763 L788.8,763.4 L790.8,763.8 L792.8,764 L794.8,764.3 L796.8,764.5 L798.8,764.6 L800.8,764.8 L802.8,764.9 L804.8,765 L806.8,765 L808.8,765 L810.8,765 L812.8,764.9 L814.8,764.9 L816.8,764.8 L818.8,764.7 L820.8,764.6 L822.8,764.6 L824.8,764.6 L826.8,764.6 L828.8,764.7 L830.8,764.8 L832.8,764.9 L834.8,765 L836.8,765.1 L838.8,765.3 L840.8,765.4 L842.8,765.6 L844.8,765.8 L846.8,766 L848.8,766.3 L850.8,766.5 L852.8,766.8 L854.8,767.1 L856.8,767.4 L858.8,767.8 L860.8,768.1 L862.8,768.4 L864.8,768.7 L866.8,769 L868.8,769.2 L870.8,769.5 L872.8,769.7 L874.8,769.9 L876.8,770.1 L878.8,770.3 L880.8,770.5 L882.8,770.7 L884.8,770.9 L886.8,771.1 L888.8,771.3 L890.8,771.5 L892.8,771.7 L894.8,771.9 L896.8,772.1 L898.8,772.4 L900,773 L900,773 L604.8,773 Z" fill="rgba(247,102,13,0.73)"/>
<path d="M604.8,773 L606.8,772.7 L608.8,772.5 L610.8,772.2 L612.8,772 L614.8,771.7 L616.8,771.4 L618.8,771 L620.8,770.6 L622.8,770 L624.8,769.3 L626.8,768.5 L628.8,767.5 L630.8,766.3 L632.8,764.9 L634.8,763.2 L636.8,761.2 L638.8,758.6 L640.8,755.3 L642.8,751.3 L644.8,746.9 L646.8,742.6 L648.8,738.9 L650.8,735.5 L652.8,732.2 L654.8,729.1 L656.8,726.2 L658.8,723.5 L660.8,721.1 L662.8,718.9 L664.8,716.9 L666.8,715.2 L668.8,713.9 L670.8,713 L672.8,712.6 L674.8,712.7 L676.8,713.2 L678.8,714 L680.8,715.1 L682.8,716.3 L684.8,717.6 L686.8,719.2 L688.8,720.9 L690.8,722.8 L692.8,724.7 L694.8,726.6 L696.8,728.3 L698.8,730.1 L700.8,731.8 L702.8,733.6 L704.8,735.3 L706.8,736.9 L708.8,738.4 L710.8,739.7 L712.8,740.8 L714.8,741.8 L716.8,742.6 L718.8,743.3 L720.8,743.9 L722.8,744.4 L724.8,744.9 L726.8,745.4 L728.8,745.9 L730.8,746.4 L732.8,747 L734.8,747.6 L736.8,748.2 L738.8,748.8 L740.8,749.4 L742.8,750 L744.8,750.6 L746.8,751.2 L748.8,751.8 L750.8,752.4 L752.8,753 L754.8,753.6 L756.8,754.2 L758.8,754.8 L760.8,755.4 L762.8,756 L764.8,756.6 L766.8,757.2 L768.8,757.8 L770.8,758.4 L772.8,759 L774.8,759.6 L776.8,760.2 L778.8,760.9 L780.8,761.5 L782.8,762.1 L784.8,762.6 L786.8,763 L788.8,763.4 L790.8,763.8 L792.8,764 L794.8,764.3 L796.8,764.5 L798.8,764.6 L800.8,764.8 L802.8,764.9 L804.8,765 L806.8,765 L808.8,765 L810.8,765 L812.8,764.9 L814.8,764.9 L816.8,764.8 L818.8,764.7 L820.8,764.6 L822.8,764.6 L824.8,764.6 L826.8,764.6 L828.8,764.7 L830.8,764.8 L832.8,764.9 L834.8,765 L836.8,765.1 L838.8,765.3 L840.8,765.4 L842.8,765.6 L844.8,765.8 L846.8,766 L848.8,766.3 L850.8,766.5 L852.8,766.8 L854.8,767.1 L856.8,767.4 L858.8,767.8 L860.8,768.1 L862.8,768.4 L864.8,768.7 L866.8,769 L868.8,769.2 L870.8,769.5 L872.8,769.7 L874.8,769.9 L876.8,770.1 L878.8,770.3 L880.8,770.5 L882.8,770.7 L884.8,770.9 L886.8,771.1 L888.8,771.3 L890.8,771.5 L892.8,771.7 L894.8,771.9 L896.8,772.1 L898.8,772.4 L900,773" fill="none" stroke="#000" stroke-width="3" stroke-linejoin="round" stroke-linecap="round"/>
<g fill="rgba(0,0,0,0.36)"><ellipse cx="805.9" cy="771.2" rx="4.1" ry="3.2"/><ellipse cx="741.1" cy="759.2" rx="4.1" ry="3.2"/><ellipse cx="841.6" cy="771.2" rx="4.1" ry="3.2"/><ellipse cx="700.7" cy="738.1" rx="4.1" ry="3.2"/><ellipse cx="685" cy="766" rx="4.1" ry="3.2"/><ellipse cx="656.6" cy="741.2" rx="4.1" ry="3.2"/><ellipse cx="684.1" cy="769.2" rx="4.1" ry="3.2"/><ellipse cx="729" cy="763.2" rx="4.1" ry="3.2"/><ellipse cx="680.8" cy="743.4" rx="4.1" ry="3.2"/><ellipse cx="774.1" cy="764.8" rx="4.1" ry="3.2"/><ellipse cx="766.9" cy="770.9" rx="4.1" ry="3.2"/><ellipse cx="679.2" cy="748.9" rx="4.1" ry="3.2"/><ellipse cx="701.9" cy="760" rx="4.1" ry="3.2"/><ellipse cx="718.8" cy="763.1" rx="4.1" ry="3.2"/><ellipse cx="750.2" cy="767.7" rx="4.1" ry="3.2"/><ellipse cx="670.7" cy="762.2" rx="4.1" ry="3.2"/><ellipse cx="733.6" cy="761.6" rx="4.1" ry="3.2"/><ellipse cx="772.1" cy="765" rx="4.1" ry="3.2"/><ellipse cx="690.5" cy="758.8" rx="4.1" ry="3.2"/><ellipse cx="760.1" cy="762.1" rx="4.1" ry="3.2"/><ellipse cx="702.6" cy="770.7" rx="4.1" ry="3.2"/><ellipse cx="653" cy="764.7" rx="4.1" ry="3.2"/><ellipse cx="672.6" cy="735" rx="4.1" ry="3.2"/><ellipse cx="730.9" cy="768.7" rx="4.1" ry="3.2"/><ellipse cx="732.2" cy="756.2" rx="4.1" ry="3.2"/><ellipse cx="752.3" cy="767.6" rx="4.1" ry="3.2"/><ellipse cx="727" cy="770.7" rx="4.1" ry="3.2"/><ellipse cx="750.5" cy="760.8" rx="4.1" ry="3.2"/><ellipse cx="698.4" cy="734.7" rx="4.1" ry="3.2"/><ellipse cx="658" cy="743.8" rx="4.1" ry="3.2"/><ellipse cx="695.2" cy="744.5" rx="4.1" ry="3.2"/><ellipse cx="661.4" cy="746.8" rx="4.1" ry="3.2"/><ellipse cx="797.1" cy="772" rx="4.1" ry="3.2"/><ellipse cx="661.2" cy="734" rx="4.1" ry="3.2"/><ellipse cx="720.8" cy="769" rx="4.1" ry="3.2"/><ellipse cx="730.5" cy="770.1" rx="4.1" ry="3.2"/><ellipse cx="729.7" cy="753.3" rx="4.1" ry="3.2"/><ellipse cx="706" cy="762.6" rx="4.1" ry="3.2"/><ellipse cx="650.3" cy="767.2" rx="4.1" ry="3.2"/><ellipse cx="645" cy="758.5" rx="4.1" ry="3.2"/><ellipse cx="667.8" cy="751.7" rx="4.1" ry="3.2"/><ellipse cx="702.1" cy="738.7" rx="4.1" ry="3.2"/><ellipse cx="719.1" cy="762.6" rx="4.1" ry="3.2"/><ellipse cx="801.9" cy="771.3" rx="4.1" ry="3.2"/><ellipse cx="645.2" cy="764.7" rx="4.1" ry="3.2"/><ellipse cx="697" cy="737.3" rx="4.1" ry="3.2"/><ellipse cx="676.5" cy="725.6" rx="4.1" ry="3.2"/><ellipse cx="807.9" cy="771.6" rx="4.1" ry="3.2"/><ellipse cx="770.9" cy="767.9" rx="4.1" ry="3.2"/><ellipse cx="697.7" cy="765.8" rx="4.1" ry="3.2"/><ellipse cx="662.5" cy="762.1" rx="4.1" ry="3.2"/><ellipse cx="693.8" cy="754.1" rx="4.1" ry="3.2"/><ellipse cx="663.2" cy="744.2" rx="4.1" ry="3.2"/><ellipse cx="684.2" cy="734.7" rx="4.1" ry="3.2"/><ellipse cx="646" cy="761" rx="4.1" ry="3.2"/><ellipse cx="642.6" cy="767.2" rx="4.1" ry="3.2"/><ellipse cx="660.9" cy="727.2" rx="4.1" ry="3.2"/><ellipse cx="694.9" cy="753.5" rx="4.1" ry="3.2"/><ellipse cx="652.6" cy="766.1" rx="4.1" ry="3.2"/><ellipse cx="793.9" cy="769.5" rx="4.1" ry="3.2"/><ellipse cx="688" cy="761.6" rx="4.1" ry="3.2"/><ellipse cx="644" cy="754.2" rx="4.1" ry="3.2"/><ellipse cx="684.9" cy="765.6" rx="4.1" ry="3.2"/><ellipse cx="742.8" cy="755.2" rx="4.1" ry="3.2"/><ellipse cx="830.8" cy="771.2" rx="4.1" ry="3.2"/><ellipse cx="663.7" cy="764.3" rx="4.1" ry="3.2"/></g>
<path d="M614.7,847.1 L616.7,846.3 L618.7,845.5 L620.7,844.7 L622.7,843.9 L624.7,843.1 L626.7,842.3 L628.7,841.5 L630.7,840.7 L632.7,839.8 L634.7,839 L636.7,838.1 L638.7,837.2 L640.7,836.2 L642.7,835.1 L644.7,834 L646.7,832.7 L648.7,831.4 L650.7,829.9 L652.7,828.2 L654.7,826.5 L656.7,824.8 L658.7,823 L660.7,821.2 L662.7,819.5 L664.7,817.9 L666.7,816.2 L668.7,814.5 L670.7,812.8 L672.7,811 L674.7,809.3 L676.7,807.7 L678.7,806.2 L680.7,804.7 L682.7,803.4 L684.7,802.3 L686.7,801.3 L688.7,800.5 L690.7,799.8 L692.7,799.2 L694.7,798.7 L696.7,798.2 L698.7,797.9 L700.7,797.5 L702.7,797.2 L704.7,796.9 L706.7,796.7 L708.7,796.5 L710.7,796.5 L712.7,796.6 L714.7,796.7 L716.7,797 L718.7,797.4 L720.7,797.9 L722.7,798.6 L724.7,799.3 L726.7,800.1 L728.7,801 L730.7,802 L732.7,803 L734.7,804 L736.7,805.1 L738.7,806.3 L740.7,807.5 L742.7,808.8 L744.7,810.1 L746.7,811.5 L748.7,813 L750.7,814.7 L752.7,816.4 L754.7,818.2 L756.7,820 L758.7,821.9 L760.7,823.6 L762.7,825.3 L764.7,826.9 L766.7,828.3 L768.7,829.7 L770.7,830.9 L772.7,831.9 L774.7,832.9 L776.7,833.7 L778.7,834.3 L780.7,834.8 L782.7,835.1 L784.7,835.4 L786.7,835.6 L788.7,835.9 L790.7,836.1 L792.7,836.2 L794.7,836.4 L796.7,836.5 L798.7,836.7 L800.7,836.8 L802.7,837 L804.7,837.1 L806.7,837.2 L808.7,837.4 L810.7,837.6 L812.7,837.7 L814.7,837.9 L816.7,838.2 L818.7,838.4 L820.7,838.6 L822.7,838.9 L824.7,839.1 L826.7,839.4 L828.7,839.7 L830.7,839.9 L832.7,840.2 L834.7,840.5 L836.7,840.8 L838.7,841.1 L840.7,841.4 L842.7,841.6 L844.7,841.9 L846.7,842.2 L848.7,842.5 L850.7,842.8 L852.7,843.2 L854.7,843.6 L856.7,844 L858.7,844.4 L860.7,844.8 L862.7,845.1 L864.7,845.4 L866.7,845.6 L868.7,845.8 L870.7,845.9 L872.7,846.1 L874.7,846.2 L876.7,846.3 L878.7,846.4 L880.7,846.5 L882.7,846.5 L884.7,846.6 L886.7,846.6 L888.7,846.6 L890.7,846.7 L892.7,846.7 L894.7,846.7 L896.7,846.7 L898.7,846.8 L900.7,846.8 L902.7,846.8 L904.7,846.8 L906.7,846.8 L908.7,846.8 L910.7,846.8 L912.7,846.8 L914.7,846.8 L916.7,846.8 L918.7,846.8 L920.7,846.8 L922.7,846.8 L924.7,846.8 L926.7,846.8 L928.7,846.8 L930.7,846.8 L932.7,846.8 L934.7,846.8 L936.7,846.8 L938.7,846.8 L940.7,846.8 L942.7,846.8 L944.7,846.8 L946.7,846.8 L948.7,846.8 L950.7,846.8 L952.7,846.8 L954.7,846.8 L956.7,846.8 L958.7,846.8 L960.7,846.8 L962.7,846.8 L964.7,846.8 L966.7,846.9 L968,847.1 L968,847.1 L614.7,847.1 Z" fill="rgba(123,104,238,0.86)"/>
<path d="M614.7,847.1 L616.7,846.3 L618.7,845.5 L620.7,844.7 L622.7,843.9 L624.7,843.1 L626.7,842.3 L628.7,841.5 L630.7,840.7 L632.7,839.8 L634.7,839 L636.7,838.1 L638.7,837.2 L640.7,836.2 L642.7,835.1 L644.7,834 L646.7,832.7 L648.7,831.4 L650.7,829.9 L652.7,828.2 L654.7,826.5 L656.7,824.8 L658.7,823 L660.7,821.2 L662.7,819.5 L664.7,817.9 L666.7,816.2 L668.7,814.5 L670.7,812.8 L672.7,811 L674.7,809.3 L676.7,807.7 L678.7,806.2 L680.7,804.7 L682.7,803.4 L684.7,802.3 L686.7,801.3 L688.7,800.5 L690.7,799.8 L692.7,799.2 L694.7,798.7 L696.7,798.2 L698.7,797.9 L700.7,797.5 L702.7,797.2 L704.7,796.9 L706.7,796.7 L708.7,796.5 L710.7,796.5 L712.7,796.6 L714.7,796.7 L716.7,797 L718.7,797.4 L720.7,797.9 L722.7,798.6 L724.7,799.3 L726.7,800.1 L728.7,801 L730.7,802 L732.7,803 L734.7,804 L736.7,805.1 L738.7,806.3 L740.7,807.5 L742.7,808.8 L744.7,810.1 L746.7,811.5 L748.7,813 L750.7,814.7 L752.7,816.4 L754.7,818.2 L756.7,820 L758.7,821.9 L760.7,823.6 L762.7,825.3 L764.7,826.9 L766.7,828.3 L768.7,829.7 L770.7,830.9 L772.7,831.9 L774.7,832.9 L776.7,833.7 L778.7,834.3 L780.7,834.8 L782.7,835.1 L784.7,835.4 L786.7,835.6 L788.7,835.9 L790.7,836.1 L792.7,836.2 L794.7,836.4 L796.7,836.5 L798.7,836.7 L800.7,836.8 L802.7,837 L804.7,837.1 L806.7,837.2 L808.7,837.4 L810.7,837.6 L812.7,837.7 L814.7,837.9 L816.7,838.2 L818.7,838.4 L820.7,838.6 L822.7,838.9 L824.7,839.1 L826.7,839.4 L828.7,839.7 L830.7,839.9 L832.7,840.2 L834.7,840.5 L836.7,840.8 L838.7,841.1 L840.7,841.4 L842.7,841.6 L844.7,841.9 L846.7,842.2 L848.7,842.5 L850.7,842.8 L852.7,843.2 L854.7,843.6 L856.7,844 L858.7,844.4 L860.7,844.8 L862.7,845.1 L864.7,845.4 L866.7,845.6 L868.7,845.8 L870.7,845.9 L872.7,846.1 L874.7,846.2 L876.7,846.3 L878.7,846.4 L880.7,846.5 L882.7,846.5 L884.7,846.6 L886.7,846.6 L888.7,846.6 L890.7,846.7 L892.7,846.7 L894.7,846.7 L896.7,846.7 L898.7,846.8 L900.7,846.8 L902.7,846.8 L904.7,846.8 L906.7,846.8 L908.7,846.8 L910.7,846.8 L912.7,846.8 L914.7,846.8 L916.7,846.8 L918.7,846.8 L920.7,846.8 L922.7,846.8 L924.7,846.8 L926.7,846.8 L928.7,846.8 L930.7,846.8 L932.7,846.8 L934.7,846.8 L936.7,846.8 L938.7,846.8 L940.7,846.8 L942.7,846.8 L944.7,846.8 L946.7,846.8 L948.7,846.8 L950.7,846.8 L952.7,846.8 L954.7,846.8 L956.7,846.8 L958.7,846.8 L960.7,846.8 L962.7,846.8 L964.7,846.8 L966.7,846.9 L968,847.1" fill="none" stroke="#222" stroke-width="2.3" stroke-linejoin="round"/>
<path d="M604.8,847.1 L606.8,847 L608.8,846.9 L610.8,846.8 L612.8,846.7 L614.8,846.5 L616.8,846.3 L618.8,846 L620.8,845.5 L622.8,844.9 L624.8,844 L626.8,842.8 L628.8,841.5 L630.8,839.9 L632.8,838.1 L634.8,835.9 L636.8,833.5 L638.8,830.6 L640.8,827.1 L642.8,823 L644.8,818 L646.8,812.6 L648.8,807.1 L650.8,802 L652.8,797.5 L654.8,793.7 L656.8,790.2 L658.8,787 L660.8,783.9 L662.8,781.1 L664.8,778.7 L666.8,776.6 L668.8,774.9 L670.8,773.9 L672.8,773.7 L674.8,774.4 L676.8,775.8 L678.8,777.9 L680.8,780.4 L682.8,783.1 L684.8,785.9 L686.8,788.3 L688.8,790.5 L690.8,792.5 L692.8,794.5 L694.8,796.6 L696.8,798.6 L698.8,800.6 L700.8,802.6 L702.8,804.7 L704.8,806.8 L706.8,808.9 L708.8,810.8 L710.8,812.7 L712.8,814.5 L714.8,816.2 L716.8,818 L718.8,819.7 L720.8,821.4 L722.8,823 L724.8,824.5 L726.8,826 L728.8,827.3 L730.8,828.4 L732.8,829.4 L734.8,830.2 L736.8,830.8 L738.8,831.2 L740.8,831.5 L742.8,831.8 L744.8,831.9 L746.8,832 L748.8,832.1 L750.8,832.3 L752.8,832.4 L754.8,832.6 L756.8,832.7 L758.8,832.8 L760.8,832.9 L762.8,833 L764.8,833 L766.8,833.1 L768.8,833.2 L770.8,833.3 L772.8,833.5 L774.8,833.8 L776.8,834.1 L778.8,834.4 L780.8,834.7 L782.8,835.1 L784.8,835.3 L786.8,835.6 L788.8,835.8 L790.8,836 L792.8,836.1 L794.8,836.3 L796.8,836.4 L798.8,836.6 L800.8,836.7 L802.8,836.8 L804.8,837 L806.8,837.1 L808.8,837.3 L810.8,837.4 L812.8,837.6 L814.8,837.8 L816.8,838 L818.8,838.1 L820.8,838.4 L822.8,838.6 L824.8,838.9 L826.8,839.1 L828.8,839.4 L830.8,839.8 L832.8,840.1 L834.8,840.5 L836.8,840.9 L838.8,841.3 L840.8,841.7 L842.8,842.1 L844.8,842.5 L846.8,842.9 L848.8,843.4 L850.8,843.8 L852.8,844.2 L854.8,844.7 L856.8,845.1 L858.8,845.6 L860.8,846 L862.8,846.5 L864.8,846.8 L866,847.1 L866,847.1 L604.8,847.1 Z" fill="rgba(247,102,13,0.73)"/>
<path d="M604.8,847.1 L606.8,847 L608.8,846.9 L610.8,846.8 L612.8,846.7 L614.8,846.5 L616.8,846.3 L618.8,846 L620.8,845.5 L622.8,844.9 L624.8,844 L626.8,842.8 L628.8,841.5 L630.8,839.9 L632.8,838.1 L634.8,835.9 L636.8,833.5 L638.8,830.6 L640.8,827.1 L642.8,823 L644.8,818 L646.8,812.6 L648.8,807.1 L650.8,802 L652.8,797.5 L654.8,793.7 L656.8,790.2 L658.8,787 L660.8,783.9 L662.8,781.1 L664.8,778.7 L666.8,776.6 L668.8,774.9 L670.8,773.9 L672.8,773.7 L674.8,774.4 L676.8,775.8 L678.8,777.9 L680.8,780.4 L682.8,783.1 L684.8,785.9 L686.8,788.3 L688.8,790.5 L690.8,792.5 L692.8,794.5 L694.8,796.6 L696.8,798.6 L698.8,800.6 L700.8,802.6 L702.8,804.7 L704.8,806.8 L706.8,808.9 L708.8,810.8 L710.8,812.7 L712.8,814.5 L714.8,816.2 L716.8,818 L718.8,819.7 L720.8,821.4 L722.8,823 L724.8,824.5 L726.8,826 L728.8,827.3 L730.8,828.4 L732.8,829.4 L734.8,830.2 L736.8,830.8 L738.8,831.2 L740.8,831.5 L742.8,831.8 L744.8,831.9 L746.8,832 L748.8,832.1 L750.8,832.3 L752.8,832.4 L754.8,832.6 L756.8,832.7 L758.8,832.8 L760.8,832.9 L762.8,833 L764.8,833 L766.8,833.1 L768.8,833.2 L770.8,833.3 L772.8,833.5 L774.8,833.8 L776.8,834.1 L778.8,834.4 L780.8,834.7 L782.8,835.1 L784.8,835.3 L786.8,835.6 L788.8,835.8 L790.8,836 L792.8,836.1 L794.8,836.3 L796.8,836.4 L798.8,836.6 L800.8,836.7 L802.8,836.8 L804.8,837 L806.8,837.1 L808.8,837.3 L810.8,837.4 L812.8,837.6 L814.8,837.8 L816.8,838 L818.8,838.1 L820.8,838.4 L822.8,838.6 L824.8,838.9 L826.8,839.1 L828.8,839.4 L830.8,839.8 L832.8,840.1 L834.8,840.5 L836.8,840.9 L838.8,841.3 L840.8,841.7 L842.8,842.1 L844.8,842.5 L846.8,842.9 L848.8,843.4 L850.8,843.8 L852.8,844.2 L854.8,844.7 L856.8,845.1 L858.8,845.6 L860.8,846 L862.8,846.5 L864.8,846.8 L866,847.1" fill="none" stroke="#000" stroke-width="3" stroke-linejoin="round" stroke-linecap="round"/>
<g fill="rgba(0,0,0,0.36)"><ellipse cx="680.8" cy="788.5" rx="4.1" ry="3.2"/><ellipse cx="694.6" cy="812.2" rx="4.1" ry="3.2"/><ellipse cx="812.8" cy="844.9" rx="4.1" ry="3.2"/><ellipse cx="688.3" cy="828.4" rx="4.1" ry="3.2"/><ellipse cx="652.5" cy="844.9" rx="4.1" ry="3.2"/><ellipse cx="704" cy="845.6" rx="4.1" ry="3.2"/><ellipse cx="628" cy="845.9" rx="4.1" ry="3.2"/><ellipse cx="768.9" cy="839.5" rx="4.1" ry="3.2"/><ellipse cx="642.7" cy="828.2" rx="4.1" ry="3.2"/><ellipse cx="754.6" cy="845" rx="4.1" ry="3.2"/><ellipse cx="660.2" cy="795.2" rx="4.1" ry="3.2"/><ellipse cx="664.6" cy="815" rx="4.1" ry="3.2"/><ellipse cx="695.6" cy="824.4" rx="4.1" ry="3.2"/><ellipse cx="677.1" cy="824.4" rx="4.1" ry="3.2"/><ellipse cx="715.5" cy="846" rx="4.1" ry="3.2"/><ellipse cx="684.1" cy="830.7" rx="4.1" ry="3.2"/><ellipse cx="686.9" cy="799" rx="4.1" ry="3.2"/><ellipse cx="684.3" cy="833.9" rx="4.1" ry="3.2"/><ellipse cx="697" cy="817.2" rx="4.1" ry="3.2"/><ellipse cx="702.5" cy="829.1" rx="4.1" ry="3.2"/><ellipse cx="710.3" cy="838.6" rx="4.1" ry="3.2"/><ellipse cx="646.8" cy="818.2" rx="4.1" ry="3.2"/><ellipse cx="745.8" cy="839.8" rx="4.1" ry="3.2"/><ellipse cx="665.2" cy="822.9" rx="4.1" ry="3.2"/><ellipse cx="686.8" cy="805.6" rx="4.1" ry="3.2"/><ellipse cx="721.1" cy="839" rx="4.1" ry="3.2"/><ellipse cx="744.6" cy="837.8" rx="4.1" ry="3.2"/><ellipse cx="738.9" cy="836.5" rx="4.1" ry="3.2"/><ellipse cx="674.8" cy="797.4" rx="4.1" ry="3.2"/><ellipse cx="631.1" cy="842.8" rx="4.1" ry="3.2"/><ellipse cx="669.5" cy="824.3" rx="4.1" ry="3.2"/><ellipse cx="658.3" cy="832.6" rx="4.1" ry="3.2"/><ellipse cx="632.8" cy="844.9" rx="4.1" ry="3.2"/><ellipse cx="680.8" cy="820.8" rx="4.1" ry="3.2"/><ellipse cx="654.5" cy="817.1" rx="4.1" ry="3.2"/><ellipse cx="653.9" cy="810.8" rx="4.1" ry="3.2"/><ellipse cx="674.8" cy="838.1" rx="4.1" ry="3.2"/><ellipse cx="743.1" cy="843.1" rx="4.1" ry="3.2"/><ellipse cx="700" cy="836.5" rx="4.1" ry="3.2"/><ellipse cx="647.7" cy="831" rx="4.1" ry="3.2"/><ellipse cx="682.1" cy="817.3" rx="4.1" ry="3.2"/><ellipse cx="697.6" cy="825.9" rx="4.1" ry="3.2"/><ellipse cx="703.9" cy="812.5" rx="4.1" ry="3.2"/><ellipse cx="644.8" cy="823.4" rx="4.1" ry="3.2"/><ellipse cx="668.9" cy="818.7" rx="4.1" ry="3.2"/><ellipse cx="679.4" cy="811.3" rx="4.1" ry="3.2"/><ellipse cx="682.5" cy="815" rx="4.1" ry="3.2"/><ellipse cx="709.4" cy="841.9" rx="4.1" ry="3.2"/><ellipse cx="668.7" cy="795.4" rx="4.1" ry="3.2"/><ellipse cx="681.5" cy="799.3" rx="4.1" ry="3.2"/><ellipse cx="737.5" cy="839.6" rx="4.1" ry="3.2"/><ellipse cx="641.2" cy="838.9" rx="4.1" ry="3.2"/><ellipse cx="629.6" cy="846" rx="4.1" ry="3.2"/><ellipse cx="662.8" cy="830.7" rx="4.1" ry="3.2"/><ellipse cx="723.5" cy="829.4" rx="4.1" ry="3.2"/><ellipse cx="686.9" cy="820.6" rx="4.1" ry="3.2"/><ellipse cx="684.5" cy="830.8" rx="4.1" ry="3.2"/><ellipse cx="671" cy="807.3" rx="4.1" ry="3.2"/><ellipse cx="676.4" cy="825.6" rx="4.1" ry="3.2"/><ellipse cx="666.2" cy="823.5" rx="4.1" ry="3.2"/><ellipse cx="675.6" cy="828.6" rx="4.1" ry="3.2"/><ellipse cx="699.4" cy="843.9" rx="4.1" ry="3.2"/><ellipse cx="657.8" cy="797" rx="4.1" ry="3.2"/><ellipse cx="669.4" cy="841.3" rx="4.1" ry="3.2"/><ellipse cx="678.7" cy="830.3" rx="4.1" ry="3.2"/><ellipse cx="691.9" cy="834" rx="4.1" ry="3.2"/></g>
<path d="M620.6,920.9 L622.6,920 L624.6,919.1 L626.6,918.2 L628.6,917.4 L630.6,916.5 L632.6,915.5 L634.6,914.6 L636.6,913.6 L638.6,912.5 L640.6,911.3 L642.6,910.1 L644.6,908.6 L646.6,907 L648.6,905.2 L650.6,903.2 L652.6,901.1 L654.6,898.9 L656.6,896.7 L658.6,894.5 L660.6,892.4 L662.6,890.5 L664.6,888.7 L666.6,887.1 L668.6,885.4 L670.6,883.8 L672.6,882.3 L674.6,880.8 L676.6,879.5 L678.6,878.2 L680.6,877.1 L682.6,876.1 L684.6,875.2 L686.6,874.4 L688.6,873.7 L690.6,873.2 L692.6,872.7 L694.6,872.3 L696.6,872.1 L698.6,872 L700.6,872 L702.6,872.1 L704.6,872.4 L706.6,872.8 L708.6,873.3 L710.6,874 L712.6,874.8 L714.6,875.6 L716.6,876.6 L718.6,877.5 L720.6,878.5 L722.6,879.5 L724.6,880.6 L726.6,881.7 L728.6,883 L730.6,884.3 L732.6,885.6 L734.6,886.9 L736.6,888.2 L738.6,889.4 L740.6,890.5 L742.6,891.5 L744.6,892.3 L746.6,893.1 L748.6,893.8 L750.6,894.4 L752.6,895 L754.6,895.5 L756.6,896 L758.6,896.5 L760.6,897 L762.6,897.4 L764.6,897.8 L766.6,898.1 L768.6,898.5 L770.6,898.8 L772.6,899.1 L774.6,899.4 L776.6,899.6 L778.6,899.9 L780.6,900.2 L782.6,900.5 L784.6,900.9 L786.6,901.2 L788.6,901.7 L790.6,902.1 L792.6,902.6 L794.6,903.2 L796.6,903.8 L798.6,904.4 L800.6,905.1 L802.6,905.8 L804.6,906.5 L806.6,907.1 L808.6,907.8 L810.6,908.6 L812.6,909.3 L814.6,910.1 L816.6,910.8 L818.6,911.5 L820.6,912.2 L822.6,912.9 L824.6,913.6 L826.6,914.2 L828.6,914.7 L830.6,915.3 L832.6,915.9 L834.6,916.4 L836.6,916.8 L838.6,917.2 L840.6,917.6 L842.6,917.9 L844.6,918.1 L846.6,918.3 L848.6,918.5 L850.6,918.6 L852.6,918.7 L854.6,918.9 L856.6,918.9 L858.6,919 L860.6,919.1 L862.6,919.1 L864.6,919.2 L866.6,919.2 L868.6,919.3 L870.6,919.3 L872.6,919.3 L874.6,919.3 L876.6,919.4 L878.6,919.4 L880.6,919.4 L882.6,919.4 L884.6,919.4 L886.6,919.5 L888.6,919.5 L890.6,919.5 L892.6,919.5 L894.6,919.6 L896.6,919.6 L898.6,919.6 L900.6,919.6 L902.6,919.6 L904.6,919.6 L906.6,919.6 L908.6,919.6 L910.6,919.6 L912.6,919.6 L914.6,919.7 L916.6,919.7 L918.6,919.7 L920.6,919.7 L922.6,919.7 L924.6,919.7 L926.6,919.7 L928.6,919.7 L930.6,919.7 L932.6,919.7 L934.6,919.7 L936.6,919.7 L938.6,919.7 L940.6,919.7 L942.6,919.7 L944.6,919.7 L946.6,919.7 L948.6,919.7 L950.6,919.8 L952.6,919.8 L954.6,919.8 L956.6,919.8 L958.6,919.8 L960.6,919.8 L962.6,919.8 L964.6,919.8 L966.6,919.8 L968.6,919.9 L970.6,919.9 L972.6,920.1 L973,920.9 L973,920.9 L620.6,920.9 Z" fill="rgba(123,104,238,0.86)"/>
<path d="M620.6,920.9 L622.6,920 L624.6,919.1 L626.6,918.2 L628.6,917.4 L630.6,916.5 L632.6,915.5 L634.6,914.6 L636.6,913.6 L638.6,912.5 L640.6,911.3 L642.6,910.1 L644.6,908.6 L646.6,907 L648.6,905.2 L650.6,903.2 L652.6,901.1 L654.6,898.9 L656.6,896.7 L658.6,894.5 L660.6,892.4 L662.6,890.5 L664.6,888.7 L666.6,887.1 L668.6,885.4 L670.6,883.8 L672.6,882.3 L674.6,880.8 L676.6,879.5 L678.6,878.2 L680.6,877.1 L682.6,876.1 L684.6,875.2 L686.6,874.4 L688.6,873.7 L690.6,873.2 L692.6,872.7 L694.6,872.3 L696.6,872.1 L698.6,872 L700.6,872 L702.6,872.1 L704.6,872.4 L706.6,872.8 L708.6,873.3 L710.6,874 L712.6,874.8 L714.6,875.6 L716.6,876.6 L718.6,877.5 L720.6,878.5 L722.6,879.5 L724.6,880.6 L726.6,881.7 L728.6,883 L730.6,884.3 L732.6,885.6 L734.6,886.9 L736.6,888.2 L738.6,889.4 L740.6,890.5 L742.6,891.5 L744.6,892.3 L746.6,893.1 L748.6,893.8 L750.6,894.4 L752.6,895 L754.6,895.5 L756.6,896 L758.6,896.5 L760.6,897 L762.6,897.4 L764.6,897.8 L766.6,898.1 L768.6,898.5 L770.6,898.8 L772.6,899.1 L774.6,899.4 L776.6,899.6 L778.6,899.9 L780.6,900.2 L782.6,900.5 L784.6,900.9 L786.6,901.2 L788.6,901.7 L790.6,902.1 L792.6,902.6 L794.6,903.2 L796.6,903.8 L798.6,904.4 L800.6,905.1 L802.6,905.8 L804.6,906.5 L806.6,907.1 L808.6,907.8 L810.6,908.6 L812.6,909.3 L814.6,910.1 L816.6,910.8 L818.6,911.5 L820.6,912.2 L822.6,912.9 L824.6,913.6 L826.6,914.2 L828.6,914.7 L830.6,915.3 L832.6,915.9 L834.6,916.4 L836.6,916.8 L838.6,917.2 L840.6,917.6 L842.6,917.9 L844.6,918.1 L846.6,918.3 L848.6,918.5 L850.6,918.6 L852.6,918.7 L854.6,918.9 L856.6,918.9 L858.6,919 L860.6,919.1 L862.6,919.1 L864.6,919.2 L866.6,919.2 L868.6,919.3 L870.6,919.3 L872.6,919.3 L874.6,919.3 L876.6,919.4 L878.6,919.4 L880.6,919.4 L882.6,919.4 L884.6,919.4 L886.6,919.5 L888.6,919.5 L890.6,919.5 L892.6,919.5 L894.6,919.6 L896.6,919.6 L898.6,919.6 L900.6,919.6 L902.6,919.6 L904.6,919.6 L906.6,919.6 L908.6,919.6 L910.6,919.6 L912.6,919.6 L914.6,919.7 L916.6,919.7 L918.6,919.7 L920.6,919.7 L922.6,919.7 L924.6,919.7 L926.6,919.7 L928.6,919.7 L930.6,919.7 L932.6,919.7 L934.6,919.7 L936.6,919.7 L938.6,919.7 L940.6,919.7 L942.6,919.7 L944.6,919.7 L946.6,919.7 L948.6,919.7 L950.6,919.8 L952.6,919.8 L954.6,919.8 L956.6,919.8 L958.6,919.8 L960.6,919.8 L962.6,919.8 L964.6,919.8 L966.6,919.8 L968.6,919.9 L970.6,919.9 L972.6,920.1 L973,920.9" fill="none" stroke="#222" stroke-width="2.3" stroke-linejoin="round"/>
<path d="M606.8,920.9 L608.8,920.8 L610.8,920.8 L612.8,920.7 L614.8,920.6 L616.8,920.4 L618.8,920.1 L620.8,919.5 L622.8,918.7 L624.8,917.6 L626.8,916.2 L628.8,914.5 L630.8,912.7 L632.8,910.7 L634.8,908.6 L636.8,906.3 L638.8,904 L640.8,901.5 L642.8,899 L644.8,896.2 L646.8,893.2 L648.8,889.8 L650.8,886.1 L652.8,882.3 L654.8,878.7 L656.8,875.4 L658.8,872.5 L660.8,869.6 L662.8,866.9 L664.8,864.2 L666.8,861.7 L668.8,859.3 L670.8,857.2 L672.8,855.5 L674.8,854.2 L676.8,853.5 L678.8,853.6 L680.8,854.4 L682.8,855.8 L684.8,857.6 L686.8,859.5 L688.8,861.3 L690.8,863.2 L692.8,865.1 L694.8,867.2 L696.8,869.3 L698.8,871.5 L700.8,873.5 L702.8,875.5 L704.8,877.3 L706.8,879 L708.8,880.5 L710.8,882 L712.8,883.5 L714.8,884.8 L716.8,886.1 L718.8,887.3 L720.8,888.4 L722.8,889.4 L724.8,890.2 L726.8,891 L728.8,891.7 L730.8,892.3 L732.8,892.8 L734.8,893.3 L736.8,893.8 L738.8,894.3 L740.8,894.9 L742.8,895.4 L744.8,896 L746.8,896.5 L748.8,897.1 L750.8,897.6 L752.8,898.2 L754.8,898.8 L756.8,899.4 L758.8,900 L760.8,900.7 L762.8,901.5 L764.8,902.3 L766.8,903.2 L768.8,904 L770.8,904.9 L772.8,905.9 L774.8,906.8 L776.8,907.7 L778.8,908.7 L780.8,909.6 L782.8,910.5 L784.8,911.3 L786.8,912.1 L788.8,912.9 L790.8,913.6 L792.8,914.3 L794.8,914.9 L796.8,915.4 L798.8,915.9 L800.8,916.4 L802.8,916.8 L804.8,917.2 L806.8,917.5 L808.8,917.9 L810.8,918.2 L812.8,918.5 L814.8,918.7 L816.8,918.9 L818.8,919.1 L820.8,919.3 L822.8,919.4 L824.8,919.5 L826.8,919.5 L828.8,919.4 L830.8,919.2 L832.8,918.9 L834.8,918.6 L836.8,918.2 L838.8,917.9 L840.8,917.7 L842.8,917.5 L844.8,917.4 L846.8,917.4 L848.8,917.4 L850.8,917.5 L852.8,917.6 L854.8,917.7 L856.8,917.8 L858.8,918 L860.8,918.1 L862.8,918.3 L864.8,918.4 L866.8,918.6 L868.8,918.7 L870.8,918.9 L872.8,919.1 L874.8,919.2 L876.8,919.4 L878.8,919.6 L880.8,919.8 L882.8,919.9 L884.8,920.1 L886.8,920.3 L888.8,920.5 L890,920.9 L890,920.9 L606.8,920.9 Z" fill="rgba(247,102,13,0.73)"/>
<path d="M606.8,920.9 L608.8,920.8 L610.8,920.8 L612.8,920.7 L614.8,920.6 L616.8,920.4 L618.8,920.1 L620.8,919.5 L622.8,918.7 L624.8,917.6 L626.8,916.2 L628.8,914.5 L630.8,912.7 L632.8,910.7 L634.8,908.6 L636.8,906.3 L638.8,904 L640.8,901.5 L642.8,899 L644.8,896.2 L646.8,893.2 L648.8,889.8 L650.8,886.1 L652.8,882.3 L654.8,878.7 L656.8,875.4 L658.8,872.5 L660.8,869.6 L662.8,866.9 L664.8,864.2 L666.8,861.7 L668.8,859.3 L670.8,857.2 L672.8,855.5 L674.8,854.2 L676.8,853.5 L678.8,853.6 L680.8,854.4 L682.8,855.8 L684.8,857.6 L686.8,859.5 L688.8,861.3 L690.8,863.2 L692.8,865.1 L694.8,867.2 L696.8,869.3 L698.8,871.5 L700.8,873.5 L702.8,875.5 L704.8,877.3 L706.8,879 L708.8,880.5 L710.8,882 L712.8,883.5 L714.8,884.8 L716.8,886.1 L718.8,887.3 L720.8,888.4 L722.8,889.4 L724.8,890.2 L726.8,891 L728.8,891.7 L730.8,892.3 L732.8,892.8 L734.8,893.3 L736.8,893.8 L738.8,894.3 L740.8,894.9 L742.8,895.4 L744.8,896 L746.8,896.5 L748.8,897.1 L750.8,897.6 L752.8,898.2 L754.8,898.8 L756.8,899.4 L758.8,900 L760.8,900.7 L762.8,901.5 L764.8,902.3 L766.8,903.2 L768.8,904 L770.8,904.9 L772.8,905.9 L774.8,906.8 L776.8,907.7 L778.8,908.7 L780.8,909.6 L782.8,910.5 L784.8,911.3 L786.8,912.1 L788.8,912.9 L790.8,913.6 L792.8,914.3 L794.8,914.9 L796.8,915.4 L798.8,915.9 L800.8,916.4 L802.8,916.8 L804.8,917.2 L806.8,917.5 L808.8,917.9 L810.8,918.2 L812.8,918.5 L814.8,918.7 L816.8,918.9 L818.8,919.1 L820.8,919.3 L822.8,919.4 L824.8,919.5 L826.8,919.5 L828.8,919.4 L830.8,919.2 L832.8,918.9 L834.8,918.6 L836.8,918.2 L838.8,917.9 L840.8,917.7 L842.8,917.5 L844.8,917.4 L846.8,917.4 L848.8,917.4 L850.8,917.5 L852.8,917.6 L854.8,917.7 L856.8,917.8 L858.8,918 L860.8,918.1 L862.8,918.3 L864.8,918.4 L866.8,918.6 L868.8,918.7 L870.8,918.9 L872.8,919.1 L874.8,919.2 L876.8,919.4 L878.8,919.6 L880.8,919.8 L882.8,919.9 L884.8,920.1 L886.8,920.3 L888.8,920.5 L890,920.9" fill="none" stroke="#000" stroke-width="3" stroke-linejoin="round" stroke-linecap="round"/>
<g fill="rgba(0,0,0,0.36)"><ellipse cx="670.2" cy="868.7" rx="4.1" ry="3.2"/><ellipse cx="654.7" cy="907.5" rx="4.1" ry="3.2"/><ellipse cx="732.9" cy="909.5" rx="4.1" ry="3.2"/><ellipse cx="669" cy="899" rx="4.1" ry="3.2"/><ellipse cx="648.2" cy="898.2" rx="4.1" ry="3.2"/><ellipse cx="664.7" cy="913.7" rx="4.1" ry="3.2"/><ellipse cx="636.9" cy="910.5" rx="4.1" ry="3.2"/><ellipse cx="685.1" cy="884.9" rx="4.1" ry="3.2"/><ellipse cx="739.9" cy="911.3" rx="4.1" ry="3.2"/><ellipse cx="725.1" cy="897.9" rx="4.1" ry="3.2"/><ellipse cx="721.7" cy="894" rx="4.1" ry="3.2"/><ellipse cx="636.3" cy="914.8" rx="4.1" ry="3.2"/><ellipse cx="662.2" cy="897.8" rx="4.1" ry="3.2"/><ellipse cx="640.5" cy="906.7" rx="4.1" ry="3.2"/><ellipse cx="635" cy="913.7" rx="4.1" ry="3.2"/><ellipse cx="665.5" cy="880.4" rx="4.1" ry="3.2"/><ellipse cx="726.3" cy="916.1" rx="4.1" ry="3.2"/><ellipse cx="701.5" cy="908.9" rx="4.1" ry="3.2"/><ellipse cx="690.4" cy="900.3" rx="4.1" ry="3.2"/><ellipse cx="766.4" cy="919.7" rx="4.1" ry="3.2"/><ellipse cx="735.7" cy="903.1" rx="4.1" ry="3.2"/><ellipse cx="736.3" cy="919.3" rx="4.1" ry="3.2"/><ellipse cx="782.8" cy="916.1" rx="4.1" ry="3.2"/><ellipse cx="683.1" cy="868.1" rx="4.1" ry="3.2"/><ellipse cx="654.2" cy="908.9" rx="4.1" ry="3.2"/><ellipse cx="721" cy="895.9" rx="4.1" ry="3.2"/><ellipse cx="677.6" cy="869.6" rx="4.1" ry="3.2"/><ellipse cx="689.7" cy="873.4" rx="4.1" ry="3.2"/><ellipse cx="699.1" cy="879.1" rx="4.1" ry="3.2"/><ellipse cx="655.1" cy="897.8" rx="4.1" ry="3.2"/><ellipse cx="681.3" cy="894.2" rx="4.1" ry="3.2"/><ellipse cx="688.9" cy="871.4" rx="4.1" ry="3.2"/><ellipse cx="731.5" cy="907.8" rx="4.1" ry="3.2"/><ellipse cx="679.2" cy="870.4" rx="4.1" ry="3.2"/><ellipse cx="743.5" cy="904.3" rx="4.1" ry="3.2"/><ellipse cx="667" cy="874.8" rx="4.1" ry="3.2"/><ellipse cx="688.9" cy="882.3" rx="4.1" ry="3.2"/><ellipse cx="710.6" cy="899.4" rx="4.1" ry="3.2"/><ellipse cx="794.9" cy="919.8" rx="4.1" ry="3.2"/><ellipse cx="739.1" cy="919.7" rx="4.1" ry="3.2"/><ellipse cx="677" cy="918.7" rx="4.1" ry="3.2"/><ellipse cx="684.3" cy="887.7" rx="4.1" ry="3.2"/><ellipse cx="710.8" cy="898.3" rx="4.1" ry="3.2"/><ellipse cx="649.9" cy="894" rx="4.1" ry="3.2"/><ellipse cx="643.2" cy="909.4" rx="4.1" ry="3.2"/><ellipse cx="711.6" cy="889.1" rx="4.1" ry="3.2"/><ellipse cx="680" cy="906.6" rx="4.1" ry="3.2"/><ellipse cx="677.9" cy="884.7" rx="4.1" ry="3.2"/><ellipse cx="670.4" cy="873.4" rx="4.1" ry="3.2"/><ellipse cx="667" cy="914" rx="4.1" ry="3.2"/><ellipse cx="684.7" cy="878.6" rx="4.1" ry="3.2"/><ellipse cx="707.5" cy="897.9" rx="4.1" ry="3.2"/><ellipse cx="719.9" cy="898.8" rx="4.1" ry="3.2"/><ellipse cx="784.8" cy="917.1" rx="4.1" ry="3.2"/><ellipse cx="638.8" cy="909.1" rx="4.1" ry="3.2"/><ellipse cx="670.8" cy="865.5" rx="4.1" ry="3.2"/><ellipse cx="687.4" cy="917.2" rx="4.1" ry="3.2"/><ellipse cx="661.6" cy="899.9" rx="4.1" ry="3.2"/><ellipse cx="657.3" cy="917.1" rx="4.1" ry="3.2"/><ellipse cx="659.3" cy="913.9" rx="4.1" ry="3.2"/><ellipse cx="674.9" cy="875.9" rx="4.1" ry="3.2"/><ellipse cx="661" cy="910.8" rx="4.1" ry="3.2"/><ellipse cx="788" cy="918.1" rx="4.1" ry="3.2"/><ellipse cx="706" cy="902.5" rx="4.1" ry="3.2"/><ellipse cx="675.2" cy="859.8" rx="4.1" ry="3.2"/><ellipse cx="684.7" cy="892.5" rx="4.1" ry="3.2"/></g>
<path d="M614.7,994.6 L616.7,994 L618.7,993.4 L620.7,992.8 L622.7,992.2 L624.7,991.5 L626.7,990.8 L628.7,989.9 L630.7,988.9 L632.7,987.7 L634.7,986.2 L636.7,984.4 L638.7,982.2 L640.7,979.7 L642.7,977 L644.7,974.1 L646.7,971.1 L648.7,968 L650.7,964.9 L652.7,961.7 L654.7,958.1 L656.7,954.5 L658.7,951 L660.7,947.8 L662.7,945 L664.7,942.6 L666.7,940.5 L668.7,938.5 L670.7,936.7 L672.7,935.1 L674.7,933.7 L676.7,932.5 L678.7,931.6 L680.7,931 L682.7,930.8 L684.7,930.9 L686.7,931.5 L688.7,932.5 L690.7,933.7 L692.7,935.1 L694.7,936.6 L696.7,938.1 L698.7,939.7 L700.7,941.4 L702.7,943.2 L704.7,945.1 L706.7,947 L708.7,948.9 L710.7,950.8 L712.7,952.7 L714.7,954.4 L716.7,956 L718.7,957.4 L720.7,958.7 L722.7,959.8 L724.7,960.8 L726.7,961.7 L728.7,962.5 L730.7,963.3 L732.7,964.1 L734.7,964.9 L736.7,965.7 L738.7,966.4 L740.7,967.1 L742.7,967.7 L744.7,968.4 L746.7,969 L748.7,969.7 L750.7,970.4 L752.7,971.2 L754.7,971.9 L756.7,972.7 L758.7,973.5 L760.7,974.4 L762.7,975.2 L764.7,976 L766.7,976.8 L768.7,977.6 L770.7,978.4 L772.7,979 L774.7,979.6 L776.7,980 L778.7,980.4 L780.7,980.8 L782.7,981.3 L784.7,981.9 L786.7,982.7 L788.7,983.5 L790.7,984.3 L792.7,985.2 L794.7,986.1 L796.7,987 L798.7,987.8 L800.7,988.6 L802.7,989.3 L804.7,990 L806.7,990.6 L808.7,991.1 L810.7,991.6 L812.7,992 L814.7,992.4 L816.7,992.7 L818.7,992.9 L820.7,993.1 L822.7,993.3 L824.7,993.4 L826.7,993.5 L828.7,993.6 L830.7,993.6 L832.7,993.7 L834.7,993.7 L836.7,993.7 L838.7,993.8 L840.7,993.8 L842.7,993.8 L844.7,993.8 L846.7,993.8 L848.7,993.7 L850.7,993.7 L852.7,993.7 L854.7,993.7 L856.7,993.7 L858.7,993.6 L860.7,993.6 L862.7,993.6 L864.7,993.5 L866.7,993.5 L868.7,993.5 L870.7,993.5 L872.7,993.4 L874.7,993.4 L876.7,993.3 L878.7,993.2 L880.7,993.2 L882.7,993.1 L884.7,993 L886.7,992.9 L888.7,992.8 L890.7,992.8 L892.7,992.7 L894.7,992.6 L896.7,992.6 L898.7,992.6 L900.7,992.5 L902.7,992.5 L904.7,992.5 L906.7,992.5 L908.7,992.5 L910.7,992.5 L912.7,992.5 L914.7,992.6 L916.7,992.6 L918.7,992.7 L920.7,992.7 L922.7,992.8 L924.7,992.8 L926.7,992.9 L928.7,992.9 L930.7,993 L932.7,993.1 L934.7,993.1 L936.7,993.2 L938.7,993.3 L940.7,993.4 L942.7,993.4 L944.7,993.5 L946.7,993.6 L948.7,993.7 L950.7,993.7 L952.7,993.8 L954.7,993.9 L956.7,994 L958.7,994.1 L960.7,994.1 L962.7,994.2 L964.7,994.3 L966.7,994.4 L968.7,994.4 L970.7,994.5 L972.7,994.6 L972.8,994.6 L972.8,994.6 L614.7,994.6 Z" fill="rgba(123,104,238,0.86)"/>
<path d="M614.7,994.6 L616.7,994 L618.7,993.4 L620.7,992.8 L622.7,992.2 L624.7,991.5 L626.7,990.8 L628.7,989.9 L630.7,988.9 L632.7,987.7 L634.7,986.2 L636.7,984.4 L638.7,982.2 L640.7,979.7 L642.7,977 L644.7,974.1 L646.7,971.1 L648.7,968 L650.7,964.9 L652.7,961.7 L654.7,958.1 L656.7,954.5 L658.7,951 L660.7,947.8 L662.7,945 L664.7,942.6 L666.7,940.5 L668.7,938.5 L670.7,936.7 L672.7,935.1 L674.7,933.7 L676.7,932.5 L678.7,931.6 L680.7,931 L682.7,930.8 L684.7,930.9 L686.7,931.5 L688.7,932.5 L690.7,933.7 L692.7,935.1 L694.7,936.6 L696.7,938.1 L698.7,939.7 L700.7,941.4 L702.7,943.2 L704.7,945.1 L706.7,947 L708.7,948.9 L710.7,950.8 L712.7,952.7 L714.7,954.4 L716.7,956 L718.7,957.4 L720.7,958.7 L722.7,959.8 L724.7,960.8 L726.7,961.7 L728.7,962.5 L730.7,963.3 L732.7,964.1 L734.7,964.9 L736.7,965.7 L738.7,966.4 L740.7,967.1 L742.7,967.7 L744.7,968.4 L746.7,969 L748.7,969.7 L750.7,970.4 L752.7,971.2 L754.7,971.9 L756.7,972.7 L758.7,973.5 L760.7,974.4 L762.7,975.2 L764.7,976 L766.7,976.8 L768.7,977.6 L770.7,978.4 L772.7,979 L774.7,979.6 L776.7,980 L778.7,980.4 L780.7,980.8 L782.7,981.3 L784.7,981.9 L786.7,982.7 L788.7,983.5 L790.7,984.3 L792.7,985.2 L794.7,986.1 L796.7,987 L798.7,987.8 L800.7,988.6 L802.7,989.3 L804.7,990 L806.7,990.6 L808.7,991.1 L810.7,991.6 L812.7,992 L814.7,992.4 L816.7,992.7 L818.7,992.9 L820.7,993.1 L822.7,993.3 L824.7,993.4 L826.7,993.5 L828.7,993.6 L830.7,993.6 L832.7,993.7 L834.7,993.7 L836.7,993.7 L838.7,993.8 L840.7,993.8 L842.7,993.8 L844.7,993.8 L846.7,993.8 L848.7,993.7 L850.7,993.7 L852.7,993.7 L854.7,993.7 L856.7,993.7 L858.7,993.6 L860.7,993.6 L862.7,993.6 L864.7,993.5 L866.7,993.5 L868.7,993.5 L870.7,993.5 L872.7,993.4 L874.7,993.4 L876.7,993.3 L878.7,993.2 L880.7,993.2 L882.7,993.1 L884.7,993 L886.7,992.9 L888.7,992.8 L890.7,992.8 L892.7,992.7 L894.7,992.6 L896.7,992.6 L898.7,992.6 L900.7,992.5 L902.7,992.5 L904.7,992.5 L906.7,992.5 L908.7,992.5 L910.7,992.5 L912.7,992.5 L914.7,992.6 L916.7,992.6 L918.7,992.7 L920.7,992.7 L922.7,992.8 L924.7,992.8 L926.7,992.9 L928.7,992.9 L930.7,993 L932.7,993.1 L934.7,993.1 L936.7,993.2 L938.7,993.3 L940.7,993.4 L942.7,993.4 L944.7,993.5 L946.7,993.6 L948.7,993.7 L950.7,993.7 L952.7,993.8 L954.7,993.9 L956.7,994 L958.7,994.1 L960.7,994.1 L962.7,994.2 L964.7,994.3 L966.7,994.4 L968.7,994.4 L970.7,994.5 L972.7,994.6 L972.8,994.6" fill="none" stroke="#222" stroke-width="2.3" stroke-linejoin="round"/>
<path d="M614.7,994.6 L616.7,994.1 L618.7,993.6 L620.7,993.1 L622.7,992.6 L624.7,992 L626.7,991.4 L628.7,990.6 L630.7,989.8 L632.7,988.7 L634.7,987.3 L636.7,985.5 L638.7,983.5 L640.7,981.2 L642.7,978.6 L644.7,975.8 L646.7,972.9 L648.7,969.9 L650.7,966.8 L652.7,963.5 L654.7,959.8 L656.7,956.1 L658.7,952.4 L660.7,948.9 L662.7,946 L664.7,943.5 L666.7,941.4 L668.7,939.6 L670.7,938 L672.7,936.6 L674.7,935.5 L676.7,934.5 L678.7,933.9 L680.7,933.5 L682.7,933.5 L684.7,934 L686.7,934.7 L688.7,935.8 L690.7,936.9 L692.7,938.2 L694.7,939.5 L696.7,940.9 L698.7,942.4 L700.7,944 L702.7,945.6 L704.7,947.2 L706.7,948.9 L708.7,950.5 L710.7,952 L712.7,953.5 L714.7,954.8 L716.7,956 L718.7,956.9 L720.7,957.6 L722.7,958 L724.7,958.2 L726.7,958.3 L728.7,958.5 L730.7,958.8 L732.7,959.3 L734.7,960 L736.7,960.7 L738.7,961.5 L740.7,962.3 L742.7,963.2 L744.7,964.1 L746.7,965.1 L748.7,966.1 L750.7,967.2 L752.7,968.3 L754.7,969.4 L756.7,970.7 L758.7,972 L760.7,973.4 L762.7,974.8 L764.7,976.2 L766.7,977.5 L768.7,978.9 L770.7,980.1 L772.7,981.2 L774.7,982.2 L776.7,983.2 L778.7,984 L780.7,984.8 L782.7,985.6 L784.7,986.3 L786.7,987 L788.7,987.8 L790.7,988.7 L792.7,989.6 L794.7,990.6 L796.7,991.4 L798.7,992.1 L800.7,992.6 L802.7,993 L804.7,993.3 L806.7,993.6 L808.7,993.7 L810.7,993.8 L812.7,993.9 L814.7,994 L816.7,994 L818.7,994.1 L820.7,994.1 L822.7,994.1 L824.7,994 L826.7,994 L828.7,994 L830.7,993.9 L832.7,993.9 L834.7,993.8 L836.7,993.8 L838.7,993.7 L840.7,993.7 L842.7,993.6 L844.7,993.6 L846.7,993.5 L848.7,993.5 L850.7,993.4 L852.7,993.3 L854.7,993.2 L856.7,993.2 L858.7,993.1 L860.7,993 L862.7,992.9 L864.7,992.8 L866.7,992.7 L868.7,992.6 L870.7,992.5 L872.7,992.4 L874.7,992.3 L876.7,992.2 L878.7,992.1 L880.7,992 L882.7,991.9 L884.7,991.8 L886.7,991.6 L888.7,991.5 L890.7,991.4 L892.7,991.3 L894.7,991.2 L896.7,991.2 L898.7,991.1 L900.7,991 L902.7,990.9 L904.7,990.8 L906.7,990.7 L908.7,990.7 L910.7,990.6 L912.7,990.5 L914.7,990.5 L916.7,990.4 L918.7,990.4 L920.7,990.4 L922.7,990.4 L924.7,990.5 L926.7,990.5 L928.7,990.6 L930.7,990.8 L932.7,990.9 L934.7,991.1 L936.7,991.4 L938.7,991.7 L940.7,992.1 L942.7,992.5 L944.7,992.9 L946.7,993.4 L948.7,993.9 L950.7,994.3 L952,994.6 L952,994.6 L614.7,994.6 Z" fill="rgba(247,102,13,0.73)"/>
<path d="M614.7,994.6 L616.7,994.1 L618.7,993.6 L620.7,993.1 L622.7,992.6 L624.7,992 L626.7,991.4 L628.7,990.6 L630.7,989.8 L632.7,988.7 L634.7,987.3 L636.7,985.5 L638.7,983.5 L640.7,981.2 L642.7,978.6 L644.7,975.8 L646.7,972.9 L648.7,969.9 L650.7,966.8 L652.7,963.5 L654.7,959.8 L656.7,956.1 L658.7,952.4 L660.7,948.9 L662.7,946 L664.7,943.5 L666.7,941.4 L668.7,939.6 L670.7,938 L672.7,936.6 L674.7,935.5 L676.7,934.5 L678.7,933.9 L680.7,933.5 L682.7,933.5 L684.7,934 L686.7,934.7 L688.7,935.8 L690.7,936.9 L692.7,938.2 L694.7,939.5 L696.7,940.9 L698.7,942.4 L700.7,944 L702.7,945.6 L704.7,947.2 L706.7,948.9 L708.7,950.5 L710.7,952 L712.7,953.5 L714.7,954.8 L716.7,956 L718.7,956.9 L720.7,957.6 L722.7,958 L724.7,958.2 L726.7,958.3 L728.7,958.5 L730.7,958.8 L732.7,959.3 L734.7,960 L736.7,960.7 L738.7,961.5 L740.7,962.3 L742.7,963.2 L744.7,964.1 L746.7,965.1 L748.7,966.1 L750.7,967.2 L752.7,968.3 L754.7,969.4 L756.7,970.7 L758.7,972 L760.7,973.4 L762.7,974.8 L764.7,976.2 L766.7,977.5 L768.7,978.9 L770.7,980.1 L772.7,981.2 L774.7,982.2 L776.7,983.2 L778.7,984 L780.7,984.8 L782.7,985.6 L784.7,986.3 L786.7,987 L788.7,987.8 L790.7,988.7 L792.7,989.6 L794.7,990.6 L796.7,991.4 L798.7,992.1 L800.7,992.6 L802.7,993 L804.7,993.3 L806.7,993.6 L808.7,993.7 L810.7,993.8 L812.7,993.9 L814.7,994 L816.7,994 L818.7,994.1 L820.7,994.1 L822.7,994.1 L824.7,994 L826.7,994 L828.7,994 L830.7,993.9 L832.7,993.9 L834.7,993.8 L836.7,993.8 L838.7,993.7 L840.7,993.7 L842.7,993.6 L844.7,993.6 L846.7,993.5 L848.7,993.5 L850.7,993.4 L852.7,993.3 L854.7,993.2 L856.7,993.2 L858.7,993.1 L860.7,993 L862.7,992.9 L864.7,992.8 L866.7,992.7 L868.7,992.6 L870.7,992.5 L872.7,992.4 L874.7,992.3 L876.7,992.2 L878.7,992.1 L880.7,992 L882.7,991.9 L884.7,991.8 L886.7,991.6 L888.7,991.5 L890.7,991.4 L892.7,991.3 L894.7,991.2 L896.7,991.2 L898.7,991.1 L900.7,991 L902.7,990.9 L904.7,990.8 L906.7,990.7 L908.7,990.7 L910.7,990.6 L912.7,990.5 L914.7,990.5 L916.7,990.4 L918.7,990.4 L920.7,990.4 L922.7,990.4 L924.7,990.5 L926.7,990.5 L928.7,990.6 L930.7,990.8 L932.7,990.9 L934.7,991.1 L936.7,991.4 L938.7,991.7 L940.7,992.1 L942.7,992.5 L944.7,992.9 L946.7,993.4 L948.7,993.9 L950.7,994.3 L952,994.6" fill="none" stroke="#000" stroke-width="3" stroke-linejoin="round" stroke-linecap="round"/>
<g fill="rgba(0,0,0,0.36)"><ellipse cx="716.1" cy="979.5" rx="4.1" ry="3.2"/><ellipse cx="682.2" cy="969.8" rx="4.1" ry="3.2"/><ellipse cx="693.6" cy="947.5" rx="4.1" ry="3.2"/><ellipse cx="752.3" cy="989.5" rx="4.1" ry="3.2"/><ellipse cx="699.5" cy="954.1" rx="4.1" ry="3.2"/><ellipse cx="685.9" cy="971.9" rx="4.1" ry="3.2"/><ellipse cx="659" cy="991.8" rx="4.1" ry="3.2"/><ellipse cx="700.8" cy="954.3" rx="4.1" ry="3.2"/><ellipse cx="729.6" cy="965.1" rx="4.1" ry="3.2"/><ellipse cx="743.4" cy="978" rx="4.1" ry="3.2"/><ellipse cx="654.3" cy="983.5" rx="4.1" ry="3.2"/><ellipse cx="689.7" cy="947.1" rx="4.1" ry="3.2"/><ellipse cx="901.5" cy="993.6" rx="4.1" ry="3.2"/><ellipse cx="642.1" cy="984.9" rx="4.1" ry="3.2"/><ellipse cx="647.3" cy="991.9" rx="4.1" ry="3.2"/><ellipse cx="743.9" cy="991.7" rx="4.1" ry="3.2"/><ellipse cx="647.1" cy="989.1" rx="4.1" ry="3.2"/><ellipse cx="770.5" cy="985.5" rx="4.1" ry="3.2"/><ellipse cx="743.9" cy="977.5" rx="4.1" ry="3.2"/><ellipse cx="674" cy="968.4" rx="4.1" ry="3.2"/><ellipse cx="669.3" cy="950.9" rx="4.1" ry="3.2"/><ellipse cx="681.3" cy="965.9" rx="4.1" ry="3.2"/><ellipse cx="742.6" cy="985.7" rx="4.1" ry="3.2"/><ellipse cx="694.8" cy="974.5" rx="4.1" ry="3.2"/><ellipse cx="704.2" cy="962.1" rx="4.1" ry="3.2"/><ellipse cx="683.8" cy="958.9" rx="4.1" ry="3.2"/><ellipse cx="755.5" cy="989.5" rx="4.1" ry="3.2"/><ellipse cx="641.1" cy="985.5" rx="4.1" ry="3.2"/><ellipse cx="710.8" cy="968" rx="4.1" ry="3.2"/><ellipse cx="762.8" cy="985.3" rx="4.1" ry="3.2"/><ellipse cx="702.3" cy="976.8" rx="4.1" ry="3.2"/><ellipse cx="771.6" cy="985.8" rx="4.1" ry="3.2"/><ellipse cx="653.1" cy="980.3" rx="4.1" ry="3.2"/><ellipse cx="669.8" cy="978.2" rx="4.1" ry="3.2"/><ellipse cx="724.3" cy="983.5" rx="4.1" ry="3.2"/><ellipse cx="764.1" cy="982.1" rx="4.1" ry="3.2"/><ellipse cx="772.1" cy="989.1" rx="4.1" ry="3.2"/><ellipse cx="716.1" cy="992" rx="4.1" ry="3.2"/><ellipse cx="679.2" cy="969.6" rx="4.1" ry="3.2"/><ellipse cx="732" cy="974" rx="4.1" ry="3.2"/><ellipse cx="691.8" cy="967.7" rx="4.1" ry="3.2"/><ellipse cx="757.8" cy="985" rx="4.1" ry="3.2"/><ellipse cx="726.3" cy="964.4" rx="4.1" ry="3.2"/><ellipse cx="665" cy="955.3" rx="4.1" ry="3.2"/><ellipse cx="728.5" cy="974.4" rx="4.1" ry="3.2"/><ellipse cx="765.6" cy="981.9" rx="4.1" ry="3.2"/><ellipse cx="654.1" cy="971.2" rx="4.1" ry="3.2"/><ellipse cx="684.2" cy="990.1" rx="4.1" ry="3.2"/><ellipse cx="737.8" cy="987.1" rx="4.1" ry="3.2"/><ellipse cx="763.3" cy="982.8" rx="4.1" ry="3.2"/><ellipse cx="707.3" cy="988.1" rx="4.1" ry="3.2"/><ellipse cx="869.8" cy="993.6" rx="4.1" ry="3.2"/><ellipse cx="663.5" cy="972.3" rx="4.1" ry="3.2"/><ellipse cx="671.7" cy="973.4" rx="4.1" ry="3.2"/><ellipse cx="676.2" cy="960.8" rx="4.1" ry="3.2"/><ellipse cx="742.9" cy="992.7" rx="4.1" ry="3.2"/><ellipse cx="690.8" cy="965.3" rx="4.1" ry="3.2"/><ellipse cx="669.5" cy="965.1" rx="4.1" ry="3.2"/><ellipse cx="685.2" cy="942.3" rx="4.1" ry="3.2"/><ellipse cx="668" cy="969.8" rx="4.1" ry="3.2"/><ellipse cx="713" cy="992.6" rx="4.1" ry="3.2"/><ellipse cx="700.5" cy="969.5" rx="4.1" ry="3.2"/><ellipse cx="667.6" cy="981.2" rx="4.1" ry="3.2"/><ellipse cx="729.4" cy="984.6" rx="4.1" ry="3.2"/><ellipse cx="671.4" cy="965.6" rx="4.1" ry="3.2"/><ellipse cx="742.5" cy="981.7" rx="4.1" ry="3.2"/></g>
<line x1="601.5" y1="488" x2="601.5" y2="997" stroke="#000" stroke-width="4" stroke-linecap="butt" />
<line x1="599.5" y1="995.2" x2="992" y2="995.2" stroke="#000" stroke-width="4" stroke-linecap="butt" />
<text x="598" y="1030.8" font-size="33" text-anchor="middle" >0</text>
<text x="685.3" y="1030.8" font-size="33" text-anchor="middle" >25</text>
<text x="781.8" y="1030.8" font-size="33" text-anchor="middle" >50</text>
<text x="869.5" y="1030.8" font-size="33" text-anchor="middle" >75</text>
<text x="966.2" y="1030.8" font-size="33" text-anchor="middle" >100</text>
<rect x="121" y="410" width="42" height="45.5" fill="#8a8a8a"/>
<text x="172.3" y="443.3" font-size="29.3" text-anchor="start" ><tspan font-family="Liberation Serif">&#916;</tspan>CH2</text>
<rect x="321" y="409.5" width="41.5" height="45" fill="#9d8df2"/>
<text x="367.3" y="443.3" font-size="29" text-anchor="start" >wt</text>
<rect x="654" y="409.8" width="42.3" height="45.7" fill="#f98f4e"/>
<text x="703" y="443.2" font-size="29" text-anchor="start" >R366E</text>
<rect x="833.3" y="409.8" width="41.6" height="45.7" fill="#a093f0"/>
<text x="883.7" y="443.2" font-size="29" text-anchor="start" >wt</text>
<text x="531.4" y="449.7" font-size="33" text-anchor="middle" >Contact time</text>
<text x="535.8" y="489" font-size="33" text-anchor="middle" >(ms)</text>
<text x="0" y="395" font-size="50" text-anchor="start" >c</text>
<text x="531" y="396" font-size="50" text-anchor="start" >d</text>
<text x="526.4" y="550.9" font-size="33" text-anchor="middle" >52</text>
<text x="526.4" y="622.2" font-size="33" text-anchor="middle" >22</text>
<text x="526.4" y="693.2" font-size="33" text-anchor="middle" >12</text>
<text x="526.4" y="773.4" font-size="33" text-anchor="middle" >7</text>
<text x="526.4" y="845" font-size="33" text-anchor="middle" >4</text>
<text x="526.4" y="920" font-size="33" text-anchor="middle" >3</text>
<text x="526.4" y="991.3" font-size="33" text-anchor="middle" >2</text>
<text x="425.6" y="503.4" font-size="25" text-anchor="middle" >p =</text>
<text x="425.6" y="532.1" font-size="25" text-anchor="middle" >0.009</text>
<text x="425.6" y="610.7" font-size="25" text-anchor="middle" >0.0042</text>
<text x="425.6" y="688" font-size="25" text-anchor="middle" >0.0934</text>
<text x="425.6" y="755.7" font-size="25" text-anchor="middle" >0.0139</text>
<text x="425.6" y="834.4" font-size="25" text-anchor="middle" >0.1824</text>
<text x="425.6" y="909.1" font-size="25" text-anchor="middle" >0.2844</text>
<text x="425.6" y="972.9" font-size="25" text-anchor="middle" >0.0148</text>
<text x="924" y="508.3" font-size="25" text-anchor="middle" >p =</text>
<text x="923.6" y="538" font-size="25" text-anchor="middle" >&lt;0.0001</text>
<text x="923.6" y="611.3" font-size="25" text-anchor="middle" >&lt;0.0001</text>
<text x="923.6" y="687.4" font-size="25" text-anchor="middle" >0.0001</text>
<text x="923.6" y="759.8" font-size="25" text-anchor="middle" >&lt;0.0001</text>
<text x="923.6" y="837" font-size="25" text-anchor="middle" >&lt;0.0001</text>
<text x="923.6" y="912.2" font-size="25" text-anchor="middle" >0.0004</text>
<text x="923.6" y="981" font-size="25" text-anchor="middle" >0.6997</text>
<text x="0" y="0" font-size="33.5" text-anchor="middle" transform="translate(73,742.2) rotate(-90)">Probability density</text>
<text x="523.3" y="1069.2" font-size="33.6" text-anchor="middle" >(Un-)binding force (pN)</text>
<line x1="180" y1="1415" x2="962" y2="1415" stroke="#ebebeb" stroke-width="5.2" stroke-linecap="butt" />
<line x1="180" y1="1352.7" x2="962" y2="1352.7" stroke="#ebebeb" stroke-width="2.6" stroke-linecap="butt" />
<line x1="180" y1="1290.4" x2="962" y2="1290.4" stroke="#ebebeb" stroke-width="5.2" stroke-linecap="butt" />
<line x1="180" y1="1228.1" x2="962" y2="1228.1" stroke="#ebebeb" stroke-width="2.6" stroke-linecap="butt" />
<line x1="180" y1="1165.8" x2="962" y2="1165.8" stroke="#ebebeb" stroke-width="5.2" stroke-linecap="butt" />
<line x1="313.1" y1="1142" x2="313.1" y2="1477" stroke="#ebebeb" stroke-width="2.6" stroke-linecap="butt" />
<line x1="449.2" y1="1142" x2="449.2" y2="1477" stroke="#ebebeb" stroke-width="2.6" stroke-linecap="butt" />
<line x1="585.3" y1="1142" x2="585.3" y2="1477" stroke="#ebebeb" stroke-width="2.6" stroke-linecap="butt" />
<line x1="721.4" y1="1142" x2="721.4" y2="1477" stroke="#ebebeb" stroke-width="2.6" stroke-linecap="butt" />
<line x1="857.5" y1="1142" x2="857.5" y2="1477" stroke="#ebebeb" stroke-width="2.6" stroke-linecap="butt" />
<path d="M190.6,1349.9 L194,1347.9 L197.4,1346.2 L200.8,1344.7 L204.2,1343.4 L207.6,1342.2 L211,1341 L214.4,1339.9 L217.8,1338.9 L221.2,1338 L224.6,1337 L228,1336.1 L231.4,1335.3 L234.8,1334.4 L238.2,1333.6 L241.6,1332.8 L245.1,1332 L245.1,1332 L258.7,1329 L272.3,1326.1 L285.9,1323.3 L299.5,1320.7 L313.1,1318.2 L326.7,1315.9 L340.3,1313.6 L353.9,1311.5 L367.5,1309.4 L381.1,1307.5 L394.8,1305.6 L408.4,1303.8 L422,1302.1 L435.6,1300.5 L449.2,1298.9 L462.8,1297.4 L476.4,1295.9 L490,1294.6 L503.6,1293.2 L517.2,1291.9 L530.9,1290.7 L544.5,1289.4 L558.1,1288.3 L571.7,1287.1 L585.3,1286 L598.9,1285 L612.5,1283.9 L626.1,1282.9 L639.7,1281.9 L653.3,1281 L667,1280 L680.6,1279.1 L694.2,1278.2 L707.8,1277.4 L721.4,1276.5 L735,1275.7 L748.6,1274.9 L762.2,1274.1 L775.8,1273.3 L789.4,1272.6 L803.1,1271.9 L816.7,1271.1 L830.3,1270.4 L843.9,1269.7 L857.5,1269 L871.1,1268.4 L884.7,1267.7 L898.3,1267.1 L911.9,1266.4 L925.5,1265.8 L925.5,1328.4 L911.9,1328.6 L898.3,1328.7 L884.7,1328.9 L871.1,1329.1 L857.5,1329.3 L843.9,1329.4 L830.3,1329.6 L816.7,1329.8 L803.1,1330 L789.4,1330.2 L775.8,1330.5 L762.2,1330.7 L748.6,1330.9 L735,1331.1 L721.4,1331.4 L707.8,1331.6 L694.2,1331.9 L680.6,1332.1 L667,1332.4 L653.3,1332.7 L639.7,1333 L626.1,1333.3 L612.5,1333.6 L598.9,1333.9 L585.3,1334.3 L571.7,1334.6 L558.1,1335 L544.5,1335.4 L530.9,1335.8 L517.2,1336.3 L503.6,1336.7 L490,1337.2 L476.4,1337.7 L462.8,1338.3 L449.2,1338.9 L435.6,1339.5 L422,1340.2 L408.4,1341 L394.8,1341.8 L381.1,1342.7 L367.5,1343.8 L353.9,1344.9 L340.3,1346.2 L326.7,1347.7 L313.1,1349.4 L299.5,1351.5 L285.9,1354 L272.3,1357 L258.7,1360.8 L245.1,1365.6 L245.1,1365.6 L241.6,1367 L238.2,1368.5 L234.8,1370.1 L231.4,1371.9 L228,1373.8 L224.6,1375.9 L221.2,1378.2 L217.8,1380.7 L214.4,1383.4 L211,1386.4 L207.6,1389.8 L204.2,1393.7 L200.8,1398.1 L197.4,1403.2 L194,1409.4 L190.6,1417 Z" fill="rgba(0,0,0,0.2)"/>
<path d="M190.6,1414.8 L194,1403.3 L197.4,1393.9 L200.8,1385.8 L204.2,1378.8 L207.6,1372.6 L211,1367.1 L214.4,1362 L217.8,1357.3 L221.2,1353 L224.6,1348.9 L228,1345.2 L231.4,1341.6 L234.8,1338.2 L238.2,1335 L241.6,1332 L245.1,1329 L245.1,1329 L258.7,1318.5 L272.3,1309.3 L285.9,1301.2 L299.5,1293.8 L313.1,1287.1 L326.7,1281 L340.3,1275.2 L353.9,1269.9 L367.5,1265 L381.1,1260.3 L394.8,1255.9 L408.4,1251.8 L422,1247.8 L435.6,1244.1 L449.2,1240.5 L462.8,1237.1 L476.4,1233.9 L490,1230.8 L503.6,1227.8 L517.2,1224.9 L530.9,1222.1 L544.5,1219.5 L558.1,1216.9 L571.7,1214.4 L585.3,1212 L598.9,1209.7 L612.5,1207.4 L626.1,1205.2 L639.7,1203.1 L653.3,1201 L667,1199 L680.6,1197 L694.2,1195.1 L707.8,1193.3 L721.4,1191.4 L735,1189.7 L748.6,1187.9 L762.2,1186.3 L775.8,1184.6 L789.4,1183 L803.1,1181.4 L816.7,1179.8 L830.3,1178.3 L843.9,1176.8 L857.5,1175.4 L871.1,1174 L884.7,1172.6 L898.3,1171.2 L911.9,1169.8 L925.5,1168.5 L925.5,1220.5 L911.9,1221.4 L898.3,1222.4 L884.7,1223.4 L871.1,1224.4 L857.5,1225.4 L843.9,1226.5 L830.3,1227.5 L816.7,1228.6 L803.1,1229.7 L789.4,1230.9 L775.8,1232 L762.2,1233.2 L748.6,1234.5 L735,1235.7 L721.4,1237 L707.8,1238.3 L694.2,1239.7 L680.6,1241.1 L667,1242.5 L653.3,1244 L639.7,1245.5 L626.1,1247.1 L612.5,1248.7 L598.9,1250.4 L585.3,1252.1 L571.7,1253.9 L558.1,1255.7 L544.5,1257.7 L530.9,1259.7 L517.2,1261.8 L503.6,1263.9 L490,1266.2 L476.4,1268.6 L462.8,1271.1 L449.2,1273.8 L435.6,1276.6 L422,1279.5 L408.4,1282.7 L394.8,1286 L381.1,1289.6 L367.5,1293.5 L353.9,1297.7 L340.3,1302.3 L326.7,1307.4 L313.1,1313 L299.5,1319.4 L285.9,1326.6 L272.3,1335 L258.7,1344.9 L245.1,1356.9 L245.1,1356.9 L241.6,1360.4 L238.2,1364 L234.8,1367.9 L231.4,1372 L228,1376.5 L224.6,1381.2 L221.2,1386.4 L217.8,1392 L214.4,1398.1 L211,1404.8 L207.6,1412.2 L204.2,1420.6 L200.8,1430.2 L197.4,1441.2 L194,1454.4 L190.6,1470.5 Z" fill="rgba(123,104,238,0.2)"/>
<path d="M190.6,1419.4 L194,1418.1 L197.4,1416.9 L200.8,1415.8 L204.2,1414.9 L207.6,1414 L211,1413.1 L214.4,1412.3 L217.8,1411.5 L221.2,1410.7 L224.6,1410 L228,1409.2 L231.4,1408.5 L234.8,1407.8 L238.2,1407.1 L241.6,1406.4 L245.1,1405.7 L245.1,1405.7 L258.7,1403 L272.3,1400.3 L285.9,1397.7 L299.5,1395.2 L313.1,1392.8 L326.7,1390.4 L340.3,1388.2 L353.9,1386 L367.5,1383.9 L381.1,1382 L394.8,1380.1 L408.4,1378.3 L422,1376.5 L435.6,1374.9 L449.2,1373.3 L462.8,1371.7 L476.4,1370.2 L490,1368.8 L503.6,1367.4 L517.2,1366.1 L530.9,1364.8 L544.5,1363.6 L558.1,1362.4 L571.7,1361.2 L585.3,1360.1 L598.9,1359 L612.5,1357.9 L626.1,1356.8 L639.7,1355.8 L653.3,1354.8 L667,1353.9 L680.6,1352.9 L694.2,1352 L707.8,1351.1 L721.4,1350.3 L735,1349.4 L748.6,1348.6 L762.2,1347.7 L775.8,1347 L789.4,1346.2 L803.1,1345.4 L816.7,1344.7 L830.3,1343.9 L843.9,1343.2 L857.5,1342.5 L871.1,1341.8 L884.7,1341.1 L898.3,1340.4 L911.9,1339.8 L925.5,1339.1 L925.5,1412.3 L911.9,1412.4 L898.3,1412.5 L884.7,1412.7 L871.1,1412.8 L857.5,1412.9 L843.9,1413 L830.3,1413.2 L816.7,1413.3 L803.1,1413.4 L789.4,1413.6 L775.8,1413.7 L762.2,1413.9 L748.6,1414 L735,1414.2 L721.4,1414.4 L707.8,1414.5 L694.2,1414.7 L680.6,1414.9 L667,1415.1 L653.3,1415.3 L639.7,1415.5 L626.1,1415.7 L612.5,1416 L598.9,1416.2 L585.3,1416.5 L571.7,1416.7 L558.1,1417 L544.5,1417.3 L530.9,1417.6 L517.2,1418 L503.6,1418.3 L490,1418.7 L476.4,1419.1 L462.8,1419.6 L449.2,1420 L435.6,1420.5 L422,1421.1 L408.4,1421.7 L394.8,1422.4 L381.1,1423.2 L367.5,1424.1 L353.9,1425.1 L340.3,1426.3 L326.7,1427.6 L313.1,1429.2 L299.5,1431.1 L285.9,1433.5 L272.3,1436.4 L258.7,1440.1 L245.1,1444.9 L245.1,1444.9 L241.6,1446.4 L238.2,1447.9 L234.8,1449.6 L231.4,1451.4 L228,1453.3 L224.6,1455.4 L221.2,1457.7 L217.8,1460.3 L214.4,1463.1 L211,1466.2 L207.6,1469.7 L204.2,1473.7 L200.8,1478.2 L197.4,1483.6 L194,1489.9 L190.6,1497.8 Z" fill="rgba(255,102,0,0.3)"/>
<line x1="201.4" y1="1283.2" x2="201.4" y2="1399" stroke="rgba(90,90,90,0.5)" stroke-width="4.6" stroke-linecap="butt" />
<line x1="215.1" y1="1351.6" x2="215.1" y2="1415.4" stroke="rgba(90,90,90,0.5)" stroke-width="4.6" stroke-linecap="butt" />
<line x1="228.3" y1="1249.4" x2="228.3" y2="1353.8" stroke="rgba(90,90,90,0.5)" stroke-width="4.6" stroke-linecap="butt" />
<line x1="269.4" y1="1304.9" x2="269.4" y2="1404.8" stroke="rgba(90,90,90,0.5)" stroke-width="4.6" stroke-linecap="butt" />
<line x1="337.3" y1="1308" x2="337.3" y2="1382.4" stroke="rgba(90,90,90,0.5)" stroke-width="4.6" stroke-linecap="butt" />
<line x1="473.2" y1="1303.8" x2="473.2" y2="1364.1" stroke="rgba(90,90,90,0.5)" stroke-width="4.6" stroke-linecap="butt" />
<line x1="880.3" y1="1242.3" x2="880.3" y2="1316.7" stroke="rgba(90,90,90,0.5)" stroke-width="4.6" stroke-linecap="butt" />
<path d="M201.4,1340.8 L210.2,1353.3 L192.7,1353.3 Z" fill="rgba(70,70,70,0.6)"/>
<path d="M215.1,1376.8 L223.8,1389.2 L206.3,1389.2 Z" fill="rgba(70,70,70,0.6)"/>
<path d="M228.3,1301 L237.1,1313.5 L219.6,1313.5 Z" fill="rgba(70,70,70,0.6)"/>
<path d="M269.4,1350.5 L278.1,1363 L260.6,1363 Z" fill="rgba(70,70,70,0.6)"/>
<path d="M337.3,1339.7 L346.1,1352.2 L328.6,1352.2 Z" fill="rgba(70,70,70,0.6)"/>
<path d="M473.2,1328.2 L481.9,1340.8 L464.4,1340.8 Z" fill="rgba(70,70,70,0.6)"/>
<path d="M880.3,1271.2 L889,1283.8 L871.5,1283.8 Z" fill="rgba(70,70,70,0.6)"/>
<line x1="208.5" y1="1386.3" x2="208.5" y2="1447.3" stroke="rgba(123,104,238,0.5)" stroke-width="4.6" stroke-linecap="butt" />
<line x1="221.9" y1="1324" x2="221.9" y2="1386.3" stroke="rgba(123,104,238,0.5)" stroke-width="4.6" stroke-linecap="butt" />
<line x1="235.4" y1="1341" x2="235.4" y2="1395.6" stroke="rgba(123,104,238,0.5)" stroke-width="4.6" stroke-linecap="butt" />
<line x1="276.3" y1="1250.5" x2="276.3" y2="1324.9" stroke="rgba(123,104,238,0.5)" stroke-width="4.6" stroke-linecap="butt" />
<line x1="344.1" y1="1259.5" x2="344.1" y2="1335" stroke="rgba(123,104,238,0.5)" stroke-width="4.6" stroke-linecap="butt" />
<line x1="480" y1="1235.7" x2="480" y2="1303.8" stroke="rgba(123,104,238,0.5)" stroke-width="4.6" stroke-linecap="butt" />
<line x1="887.6" y1="1158.9" x2="887.6" y2="1230" stroke="rgba(123,104,238,0.5)" stroke-width="4.6" stroke-linecap="butt" />
<circle cx="208.5" cy="1419.6" r="4.8" fill="rgba(123,104,238,0.55)"/>
<circle cx="221.9" cy="1356.6" r="4.8" fill="rgba(123,104,238,0.55)"/>
<circle cx="235.4" cy="1368.6" r="4.8" fill="rgba(123,104,238,0.55)"/>
<circle cx="276.3" cy="1288.8" r="4.8" fill="rgba(123,104,238,0.55)"/>
<circle cx="344.1" cy="1296.7" r="4.8" fill="rgba(123,104,238,0.55)"/>
<circle cx="480" cy="1269.7" r="4.8" fill="rgba(123,104,238,0.55)"/>
<circle cx="887.6" cy="1195.2" r="4.8" fill="rgba(123,104,238,0.55)"/>
<line x1="204.9" y1="1383.5" x2="204.9" y2="1465.7" stroke="rgba(255,102,0,0.5)" stroke-width="4.6" stroke-linecap="butt" />
<line x1="218.7" y1="1406.2" x2="218.7" y2="1492.6" stroke="rgba(255,102,0,0.5)" stroke-width="4.6" stroke-linecap="butt" />
<line x1="232.3" y1="1421" x2="232.3" y2="1498.3" stroke="rgba(255,102,0,0.5)" stroke-width="4.6" stroke-linecap="butt" />
<line x1="273.2" y1="1375.7" x2="273.2" y2="1463.6" stroke="rgba(255,102,0,0.5)" stroke-width="4.6" stroke-linecap="butt" />
<line x1="340.2" y1="1322.6" x2="340.2" y2="1459" stroke="rgba(255,102,0,0.5)" stroke-width="4.6" stroke-linecap="butt" />
<line x1="476.4" y1="1310.4" x2="476.4" y2="1410" stroke="rgba(255,102,0,0.5)" stroke-width="4.6" stroke-linecap="butt" />
<line x1="884" y1="1361.3" x2="884" y2="1428.5" stroke="rgba(255,102,0,0.5)" stroke-width="4.6" stroke-linecap="butt" />
<rect x="199.7" y="1420.7" width="10.4" height="9" fill="rgba(255,102,0,0.55)"/>
<rect x="213.5" y="1446.7" width="10.4" height="9" fill="rgba(255,102,0,0.55)"/>
<rect x="227.1" y="1455.7" width="10.4" height="9" fill="rgba(255,102,0,0.55)"/>
<rect x="268" y="1415.8" width="10.4" height="9" fill="rgba(255,102,0,0.55)"/>
<rect x="335" y="1392.5" width="10.4" height="9" fill="rgba(255,102,0,0.55)"/>
<rect x="471.2" y="1358.3" width="10.4" height="9" fill="rgba(255,102,0,0.55)"/>
<rect x="878.8" y="1391.7" width="10.4" height="9" fill="rgba(255,102,0,0.55)"/>
<path d="M190.6,1383.5 L191.3,1382.4 L192,1381.4 L192.7,1380.5 L193.3,1379.5 L194,1378.7 L194.7,1377.8 L195.4,1377 L196.1,1376.2 L196.7,1375.5 L197.4,1374.7 L198.1,1374 L198.8,1373.3 L199.5,1372.7 L200.1,1372 L200.8,1371.4 L201.5,1370.8 L202.2,1370.2 L202.9,1369.6 L203.5,1369.1 L204.2,1368.5 L204.9,1368 L205.6,1367.5 L206.3,1367 L206.9,1366.5 L207.6,1366 L208.3,1365.5 L209,1365.1 L209.7,1364.6 L210.3,1364.2 L211,1363.7 L211.7,1363.3 L212.4,1362.9 L213.1,1362.5 L213.7,1362.1 L214.4,1361.7 L215.1,1361.3 L215.8,1360.9 L216.5,1360.5 L217.1,1360.2 L217.8,1359.8 L218.5,1359.4 L219.2,1359.1 L219.9,1358.7 L220.6,1358.4 L221.2,1358.1 L221.9,1357.7 L222.6,1357.4 L223.3,1357.1 L224,1356.8 L224.6,1356.5 L225.3,1356.2 L226,1355.9 L226.7,1355.6 L227.4,1355.3 L228,1355 L228.7,1354.7 L229.4,1354.4 L230.1,1354.1 L230.8,1353.9 L231.4,1353.6 L232.1,1353.3 L232.8,1353.1 L233.5,1352.8 L234.2,1352.5 L234.8,1352.3 L235.5,1352 L236.2,1351.8 L236.9,1351.5 L237.6,1351.3 L238.2,1351.1 L238.9,1350.8 L239.6,1350.6 L240.3,1350.3 L241,1350.1 L241.6,1349.9 L242.3,1349.7 L243,1349.4 L243.7,1349.2 L244.4,1349 L245.1,1348.8 L248.5,1347.7 L251.9,1346.7 L255.3,1345.8 L258.7,1344.9 L262.1,1344 L265.5,1343.1 L268.9,1342.3 L272.3,1341.5 L275.7,1340.8 L279.1,1340 L282.5,1339.3 L285.9,1338.7 L289.3,1338 L292.7,1337.3 L296.1,1336.7 L299.5,1336.1 L302.9,1335.5 L306.3,1334.9 L309.7,1334.4 L313.1,1333.8 L316.5,1333.3 L319.9,1332.8 L323.3,1332.3 L326.7,1331.8 L330.1,1331.3 L333.5,1330.8 L336.9,1330.4 L340.3,1329.9 L343.7,1329.5 L347.1,1329 L350.5,1328.6 L353.9,1328.2 L357.3,1327.8 L360.7,1327.4 L364.1,1327 L367.5,1326.6 L370.9,1326.2 L374.3,1325.8 L377.7,1325.5 L381.1,1325.1 L384.6,1324.7 L388,1324.4 L391.4,1324.1 L394.8,1323.7 L398.2,1323.4 L401.6,1323 L405,1322.7 L408.4,1322.4 L411.8,1322.1 L415.2,1321.8 L418.6,1321.5 L422,1321.2 L425.4,1320.9 L428.8,1320.6 L432.2,1320.3 L435.6,1320 L439,1319.7 L442.4,1319.4 L445.8,1319.2 L449.2,1318.9 L452.6,1318.6 L456,1318.4 L459.4,1318.1 L462.8,1317.8 L466.2,1317.6 L469.6,1317.3 L473,1317.1 L476.4,1316.8 L479.8,1316.6 L483.2,1316.4 L486.6,1316.1 L490,1315.9 L493.4,1315.7 L496.8,1315.4 L500.2,1315.2 L503.6,1315 L507,1314.7 L510.4,1314.5 L513.8,1314.3 L517.2,1314.1 L520.7,1313.9 L524.1,1313.7 L527.5,1313.5 L530.9,1313.2 L534.3,1313 L537.7,1312.8 L541.1,1312.6 L544.5,1312.4 L547.9,1312.2 L551.3,1312 L554.7,1311.8 L558.1,1311.6 L561.5,1311.5 L564.9,1311.3 L568.3,1311.1 L571.7,1310.9 L575.1,1310.7 L578.5,1310.5 L581.9,1310.3 L585.3,1310.2 L588.7,1310 L592.1,1309.8 L595.5,1309.6 L598.9,1309.5 L602.3,1309.3 L605.7,1309.1 L609.1,1308.9 L612.5,1308.8 L615.9,1308.6 L619.3,1308.4 L622.7,1308.3 L626.1,1308.1 L629.5,1307.9 L632.9,1307.8 L636.3,1307.6 L639.7,1307.5 L643.1,1307.3 L646.5,1307.1 L649.9,1307 L653.3,1306.8 L656.8,1306.7 L660.2,1306.5 L663.6,1306.4 L667,1306.2 L670.4,1306.1 L673.8,1305.9 L677.2,1305.8 L680.6,1305.6 L684,1305.5 L687.4,1305.4 L690.8,1305.2 L694.2,1305.1 L697.6,1304.9 L701,1304.8 L704.4,1304.6 L707.8,1304.5 L711.2,1304.4 L714.6,1304.2 L718,1304.1 L721.4,1304 L724.8,1303.8 L728.2,1303.7 L731.6,1303.6 L735,1303.4 L738.4,1303.3 L741.8,1303.2 L745.2,1303 L748.6,1302.9 L752,1302.8 L755.4,1302.7 L758.8,1302.5 L762.2,1302.4 L765.6,1302.3 L769,1302.2 L772.4,1302 L775.8,1301.9 L779.2,1301.8 L782.6,1301.7 L786,1301.5 L789.4,1301.4 L792.9,1301.3 L796.3,1301.2 L799.7,1301.1 L803.1,1300.9 L806.5,1300.8 L809.9,1300.7 L813.3,1300.6 L816.7,1300.5 L820.1,1300.4 L823.5,1300.3 L826.9,1300.1 L830.3,1300 L833.7,1299.9 L837.1,1299.8 L840.5,1299.7 L843.9,1299.6 L847.3,1299.5 L850.7,1299.4 L854.1,1299.3 L857.5,1299.1 L860.9,1299 L864.3,1298.9 L867.7,1298.8 L871.1,1298.7 L874.5,1298.6 L877.9,1298.5 L881.3,1298.4 L884.7,1298.3 L888.1,1298.2 L891.5,1298.1 L894.9,1298 L898.3,1297.9 L901.7,1297.8 L905.1,1297.7 L908.5,1297.6 L911.9,1297.5 L915.3,1297.4 L918.7,1297.3 L922.1,1297.2 L925.5,1297.1" fill="none" stroke="rgba(100,100,100,0.85)" stroke-width="4.6" stroke-dasharray="19.6 19" stroke-dashoffset="35.5"/>
<path d="M190.6,1442.7 L191.3,1439.6 L192,1436.8 L192.7,1434 L193.3,1431.4 L194,1428.8 L194.7,1426.4 L195.4,1424.1 L196.1,1421.8 L196.7,1419.7 L197.4,1417.6 L198.1,1415.5 L198.8,1413.6 L199.5,1411.7 L200.1,1409.8 L200.8,1408 L201.5,1406.3 L202.2,1404.6 L202.9,1402.9 L203.5,1401.3 L204.2,1399.7 L204.9,1398.2 L205.6,1396.7 L206.3,1395.3 L206.9,1393.8 L207.6,1392.4 L208.3,1391.1 L209,1389.8 L209.7,1388.4 L210.3,1387.2 L211,1385.9 L211.7,1384.7 L212.4,1383.5 L213.1,1382.3 L213.7,1381.2 L214.4,1380 L215.1,1378.9 L215.8,1377.8 L216.5,1376.7 L217.1,1375.7 L217.8,1374.6 L218.5,1373.6 L219.2,1372.6 L219.9,1371.6 L220.6,1370.6 L221.2,1369.7 L221.9,1368.7 L222.6,1367.8 L223.3,1366.9 L224,1366 L224.6,1365.1 L225.3,1364.2 L226,1363.3 L226.7,1362.5 L227.4,1361.6 L228,1360.8 L228.7,1360 L229.4,1359.2 L230.1,1358.4 L230.8,1357.6 L231.4,1356.8 L232.1,1356 L232.8,1355.3 L233.5,1354.5 L234.2,1353.8 L234.8,1353.1 L235.5,1352.3 L236.2,1351.6 L236.9,1350.9 L237.6,1350.2 L238.2,1349.5 L238.9,1348.8 L239.6,1348.2 L240.3,1347.5 L241,1346.8 L241.6,1346.2 L242.3,1345.5 L243,1344.9 L243.7,1344.2 L244.4,1343.6 L245.1,1343 L248.5,1340 L251.9,1337.1 L255.3,1334.3 L258.7,1331.7 L262.1,1329.2 L265.5,1326.7 L268.9,1324.4 L272.3,1322.2 L275.7,1320 L279.1,1317.9 L282.5,1315.9 L285.9,1313.9 L289.3,1312 L292.7,1310.1 L296.1,1308.3 L299.5,1306.6 L302.9,1304.9 L306.3,1303.2 L309.7,1301.6 L313.1,1300.1 L316.5,1298.5 L319.9,1297 L323.3,1295.6 L326.7,1294.2 L330.1,1292.8 L333.5,1291.4 L336.9,1290.1 L340.3,1288.8 L343.7,1287.5 L347.1,1286.3 L350.5,1285 L353.9,1283.8 L357.3,1282.6 L360.7,1281.5 L364.1,1280.4 L367.5,1279.2 L370.9,1278.1 L374.3,1277.1 L377.7,1276 L381.1,1275 L384.6,1273.9 L388,1272.9 L391.4,1271.9 L394.8,1271 L398.2,1270 L401.6,1269.1 L405,1268.1 L408.4,1267.2 L411.8,1266.3 L415.2,1265.4 L418.6,1264.5 L422,1263.7 L425.4,1262.8 L428.8,1262 L432.2,1261.1 L435.6,1260.3 L439,1259.5 L442.4,1258.7 L445.8,1257.9 L449.2,1257.1 L452.6,1256.4 L456,1255.6 L459.4,1254.9 L462.8,1254.1 L466.2,1253.4 L469.6,1252.7 L473,1252 L476.4,1251.2 L479.8,1250.5 L483.2,1249.9 L486.6,1249.2 L490,1248.5 L493.4,1247.8 L496.8,1247.2 L500.2,1246.5 L503.6,1245.9 L507,1245.2 L510.4,1244.6 L513.8,1244 L517.2,1243.3 L520.7,1242.7 L524.1,1242.1 L527.5,1241.5 L530.9,1240.9 L534.3,1240.3 L537.7,1239.7 L541.1,1239.1 L544.5,1238.6 L547.9,1238 L551.3,1237.4 L554.7,1236.9 L558.1,1236.3 L561.5,1235.8 L564.9,1235.2 L568.3,1234.7 L571.7,1234.1 L575.1,1233.6 L578.5,1233.1 L581.9,1232.6 L585.3,1232 L588.7,1231.5 L592.1,1231 L595.5,1230.5 L598.9,1230 L602.3,1229.5 L605.7,1229 L609.1,1228.5 L612.5,1228 L615.9,1227.6 L619.3,1227.1 L622.7,1226.6 L626.1,1226.1 L629.5,1225.7 L632.9,1225.2 L636.3,1224.7 L639.7,1224.3 L643.1,1223.8 L646.5,1223.4 L649.9,1222.9 L653.3,1222.5 L656.8,1222.1 L660.2,1221.6 L663.6,1221.2 L667,1220.7 L670.4,1220.3 L673.8,1219.9 L677.2,1219.5 L680.6,1219.1 L684,1218.6 L687.4,1218.2 L690.8,1217.8 L694.2,1217.4 L697.6,1217 L701,1216.6 L704.4,1216.2 L707.8,1215.8 L711.2,1215.4 L714.6,1215 L718,1214.6 L721.4,1214.2 L724.8,1213.8 L728.2,1213.5 L731.6,1213.1 L735,1212.7 L738.4,1212.3 L741.8,1211.9 L745.2,1211.6 L748.6,1211.2 L752,1210.8 L755.4,1210.5 L758.8,1210.1 L762.2,1209.7 L765.6,1209.4 L769,1209 L772.4,1208.7 L775.8,1208.3 L779.2,1208 L782.6,1207.6 L786,1207.3 L789.4,1206.9 L792.9,1206.6 L796.3,1206.2 L799.7,1205.9 L803.1,1205.6 L806.5,1205.2 L809.9,1204.9 L813.3,1204.6 L816.7,1204.2 L820.1,1203.9 L823.5,1203.6 L826.9,1203.3 L830.3,1202.9 L833.7,1202.6 L837.1,1202.3 L840.5,1202 L843.9,1201.7 L847.3,1201.3 L850.7,1201 L854.1,1200.7 L857.5,1200.4 L860.9,1200.1 L864.3,1199.8 L867.7,1199.5 L871.1,1199.2 L874.5,1198.9 L877.9,1198.6 L881.3,1198.3 L884.7,1198 L888.1,1197.7 L891.5,1197.4 L894.9,1197.1 L898.3,1196.8 L901.7,1196.5 L905.1,1196.2 L908.5,1195.9 L911.9,1195.6 L915.3,1195.4 L918.7,1195.1 L922.1,1194.8 L925.5,1194.5" fill="none" stroke="rgba(123,104,238,0.85)" stroke-width="4.6" stroke-dasharray="19.6 19" stroke-dashoffset="34"/>
<path d="M190.6,1458.6 L191.3,1457.6 L192,1456.6 L192.7,1455.7 L193.3,1454.8 L194,1454 L194.7,1453.2 L195.4,1452.4 L196.1,1451.7 L196.7,1450.9 L197.4,1450.2 L198.1,1449.5 L198.8,1448.9 L199.5,1448.3 L200.1,1447.6 L200.8,1447 L201.5,1446.5 L202.2,1445.9 L202.9,1445.3 L203.5,1444.8 L204.2,1444.3 L204.9,1443.8 L205.6,1443.3 L206.3,1442.8 L206.9,1442.3 L207.6,1441.8 L208.3,1441.4 L209,1440.9 L209.7,1440.5 L210.3,1440.1 L211,1439.7 L211.7,1439.2 L212.4,1438.8 L213.1,1438.5 L213.7,1438.1 L214.4,1437.7 L215.1,1437.3 L215.8,1436.9 L216.5,1436.6 L217.1,1436.2 L217.8,1435.9 L218.5,1435.5 L219.2,1435.2 L219.9,1434.9 L220.6,1434.6 L221.2,1434.2 L221.9,1433.9 L222.6,1433.6 L223.3,1433.3 L224,1433 L224.6,1432.7 L225.3,1432.4 L226,1432.1 L226.7,1431.8 L227.4,1431.5 L228,1431.3 L228.7,1431 L229.4,1430.7 L230.1,1430.5 L230.8,1430.2 L231.4,1429.9 L232.1,1429.7 L232.8,1429.4 L233.5,1429.2 L234.2,1428.9 L234.8,1428.7 L235.5,1428.4 L236.2,1428.2 L236.9,1428 L237.6,1427.7 L238.2,1427.5 L238.9,1427.3 L239.6,1427 L240.3,1426.8 L241,1426.6 L241.6,1426.4 L242.3,1426.2 L243,1426 L243.7,1425.7 L244.4,1425.5 L245.1,1425.3 L248.5,1424.3 L251.9,1423.3 L255.3,1422.4 L258.7,1421.5 L262.1,1420.7 L265.5,1419.9 L268.9,1419.1 L272.3,1418.4 L275.7,1417.6 L279.1,1416.9 L282.5,1416.3 L285.9,1415.6 L289.3,1415 L292.7,1414.3 L296.1,1413.7 L299.5,1413.2 L302.9,1412.6 L306.3,1412 L309.7,1411.5 L313.1,1411 L316.5,1410.5 L319.9,1410 L323.3,1409.5 L326.7,1409 L330.1,1408.5 L333.5,1408.1 L336.9,1407.6 L340.3,1407.2 L343.7,1406.8 L347.1,1406.4 L350.5,1406 L353.9,1405.6 L357.3,1405.2 L360.7,1404.8 L364.1,1404.4 L367.5,1404 L370.9,1403.7 L374.3,1403.3 L377.7,1402.9 L381.1,1402.6 L384.6,1402.3 L388,1401.9 L391.4,1401.6 L394.8,1401.3 L398.2,1400.9 L401.6,1400.6 L405,1400.3 L408.4,1400 L411.8,1399.7 L415.2,1399.4 L418.6,1399.1 L422,1398.8 L425.4,1398.5 L428.8,1398.3 L432.2,1398 L435.6,1397.7 L439,1397.4 L442.4,1397.2 L445.8,1396.9 L449.2,1396.6 L452.6,1396.4 L456,1396.1 L459.4,1395.9 L462.8,1395.6 L466.2,1395.4 L469.6,1395.2 L473,1394.9 L476.4,1394.7 L479.8,1394.4 L483.2,1394.2 L486.6,1394 L490,1393.8 L493.4,1393.5 L496.8,1393.3 L500.2,1393.1 L503.6,1392.9 L507,1392.7 L510.4,1392.4 L513.8,1392.2 L517.2,1392 L520.7,1391.8 L524.1,1391.6 L527.5,1391.4 L530.9,1391.2 L534.3,1391 L537.7,1390.8 L541.1,1390.6 L544.5,1390.4 L547.9,1390.2 L551.3,1390.1 L554.7,1389.9 L558.1,1389.7 L561.5,1389.5 L564.9,1389.3 L568.3,1389.1 L571.7,1389 L575.1,1388.8 L578.5,1388.6 L581.9,1388.4 L585.3,1388.3 L588.7,1388.1 L592.1,1387.9 L595.5,1387.8 L598.9,1387.6 L602.3,1387.4 L605.7,1387.3 L609.1,1387.1 L612.5,1386.9 L615.9,1386.8 L619.3,1386.6 L622.7,1386.4 L626.1,1386.3 L629.5,1386.1 L632.9,1386 L636.3,1385.8 L639.7,1385.7 L643.1,1385.5 L646.5,1385.4 L649.9,1385.2 L653.3,1385.1 L656.8,1384.9 L660.2,1384.8 L663.6,1384.6 L667,1384.5 L670.4,1384.3 L673.8,1384.2 L677.2,1384.1 L680.6,1383.9 L684,1383.8 L687.4,1383.6 L690.8,1383.5 L694.2,1383.4 L697.6,1383.2 L701,1383.1 L704.4,1383 L707.8,1382.8 L711.2,1382.7 L714.6,1382.6 L718,1382.4 L721.4,1382.3 L724.8,1382.2 L728.2,1382.1 L731.6,1381.9 L735,1381.8 L738.4,1381.7 L741.8,1381.5 L745.2,1381.4 L748.6,1381.3 L752,1381.2 L755.4,1381.1 L758.8,1380.9 L762.2,1380.8 L765.6,1380.7 L769,1380.6 L772.4,1380.5 L775.8,1380.3 L779.2,1380.2 L782.6,1380.1 L786,1380 L789.4,1379.9 L792.9,1379.8 L796.3,1379.6 L799.7,1379.5 L803.1,1379.4 L806.5,1379.3 L809.9,1379.2 L813.3,1379.1 L816.7,1379 L820.1,1378.9 L823.5,1378.8 L826.9,1378.6 L830.3,1378.5 L833.7,1378.4 L837.1,1378.3 L840.5,1378.2 L843.9,1378.1 L847.3,1378 L850.7,1377.9 L854.1,1377.8 L857.5,1377.7 L860.9,1377.6 L864.3,1377.5 L867.7,1377.4 L871.1,1377.3 L874.5,1377.2 L877.9,1377.1 L881.3,1377 L884.7,1376.9 L888.1,1376.8 L891.5,1376.7 L894.9,1376.6 L898.3,1376.5 L901.7,1376.4 L905.1,1376.3 L908.5,1376.2 L911.9,1376.1 L915.3,1376 L918.7,1375.9 L922.1,1375.8 L925.5,1375.7" fill="none" stroke="rgba(255,110,20,0.85)" stroke-width="4.6" stroke-dasharray="19.6 19" stroke-dashoffset="35.5"/>
<line x1="177.9" y1="1141.7" x2="177.9" y2="1479.6" stroke="#333333" stroke-width="5.2" stroke-linecap="butt" />
<line x1="175.3" y1="1477" x2="962" y2="1477" stroke="#333333" stroke-width="5" stroke-linecap="butt" />
<line x1="177.9" y1="1415" x2="187.7" y2="1415" stroke="#1a1a1a" stroke-width="5.2" stroke-linecap="butt" />
<line x1="177.9" y1="1290.4" x2="187.7" y2="1290.4" stroke="#1a1a1a" stroke-width="5.2" stroke-linecap="butt" />
<line x1="177.9" y1="1165.8" x2="187.7" y2="1165.8" stroke="#1a1a1a" stroke-width="5.2" stroke-linecap="butt" />
<line x1="313.1" y1="1477" x2="313.1" y2="1467.5" stroke="#000" stroke-width="5" stroke-linecap="butt" />
<line x1="449.2" y1="1477" x2="449.2" y2="1467.5" stroke="#000" stroke-width="5" stroke-linecap="butt" />
<line x1="585.3" y1="1477" x2="585.3" y2="1467.5" stroke="#000" stroke-width="5" stroke-linecap="butt" />
<line x1="721.4" y1="1477" x2="721.4" y2="1467.5" stroke="#000" stroke-width="5" stroke-linecap="butt" />
<line x1="857.5" y1="1477" x2="857.5" y2="1467.5" stroke="#000" stroke-width="5" stroke-linecap="butt" />
<text x="168.8" y="1426.6" font-size="33" text-anchor="end" >30</text>
<text x="168.8" y="1302" font-size="33" text-anchor="end" >40</text>
<text x="168.8" y="1177.4" font-size="33" text-anchor="end" >50</text>
<text x="169" y="1512.6" font-size="32.5" text-anchor="middle" >0</text>
<text x="312.3" y="1512.6" font-size="32.5" text-anchor="middle" >10</text>
<text x="448.4" y="1512.6" font-size="32.5" text-anchor="middle" >20</text>
<text x="584.5" y="1512.6" font-size="32.5" text-anchor="middle" >30</text>
<text x="720.6" y="1512.6" font-size="32.5" text-anchor="middle" >40</text>
<text x="856.7" y="1512.6" font-size="32.5" text-anchor="middle" >50</text>
<text x="586.5" y="1542.7" font-size="33.4" text-anchor="middle" >Contact time (ms)</text>
<text x="0" y="0" font-size="32.8" text-anchor="middle" transform="translate(97.8,1317.4) rotate(-90)">(Un-)binding force (pN)</text>
<text x="0" y="0" font-size="33.4" text-anchor="middle" transform="translate(56.4,180.3) rotate(-90)">Normalized bursts</text>
<circle cx="289" cy="1125.8" r="10.9" fill="#7b68ee"/>
<text x="313.8" y="1133.1" font-size="33" text-anchor="start" >wt</text>
<path d="M489.1,1109.5 L508.5,1136 L469.7,1136 Z" fill="#5a5a5a"/>
<text x="527.3" y="1133.8" font-size="33.3" text-anchor="start" ><tspan font-family="Liberation Serif">&#916;</tspan>CH2</text>
<rect x="720.2" y="1115.8" width="21.5" height="20.5" fill="#ff6600"/>
<text x="757.5" y="1133.9" font-size="34" text-anchor="start" >R366E</text>
<text x="-1" y="1119" font-size="50" text-anchor="start" >e</text></svg>
</body></html>
